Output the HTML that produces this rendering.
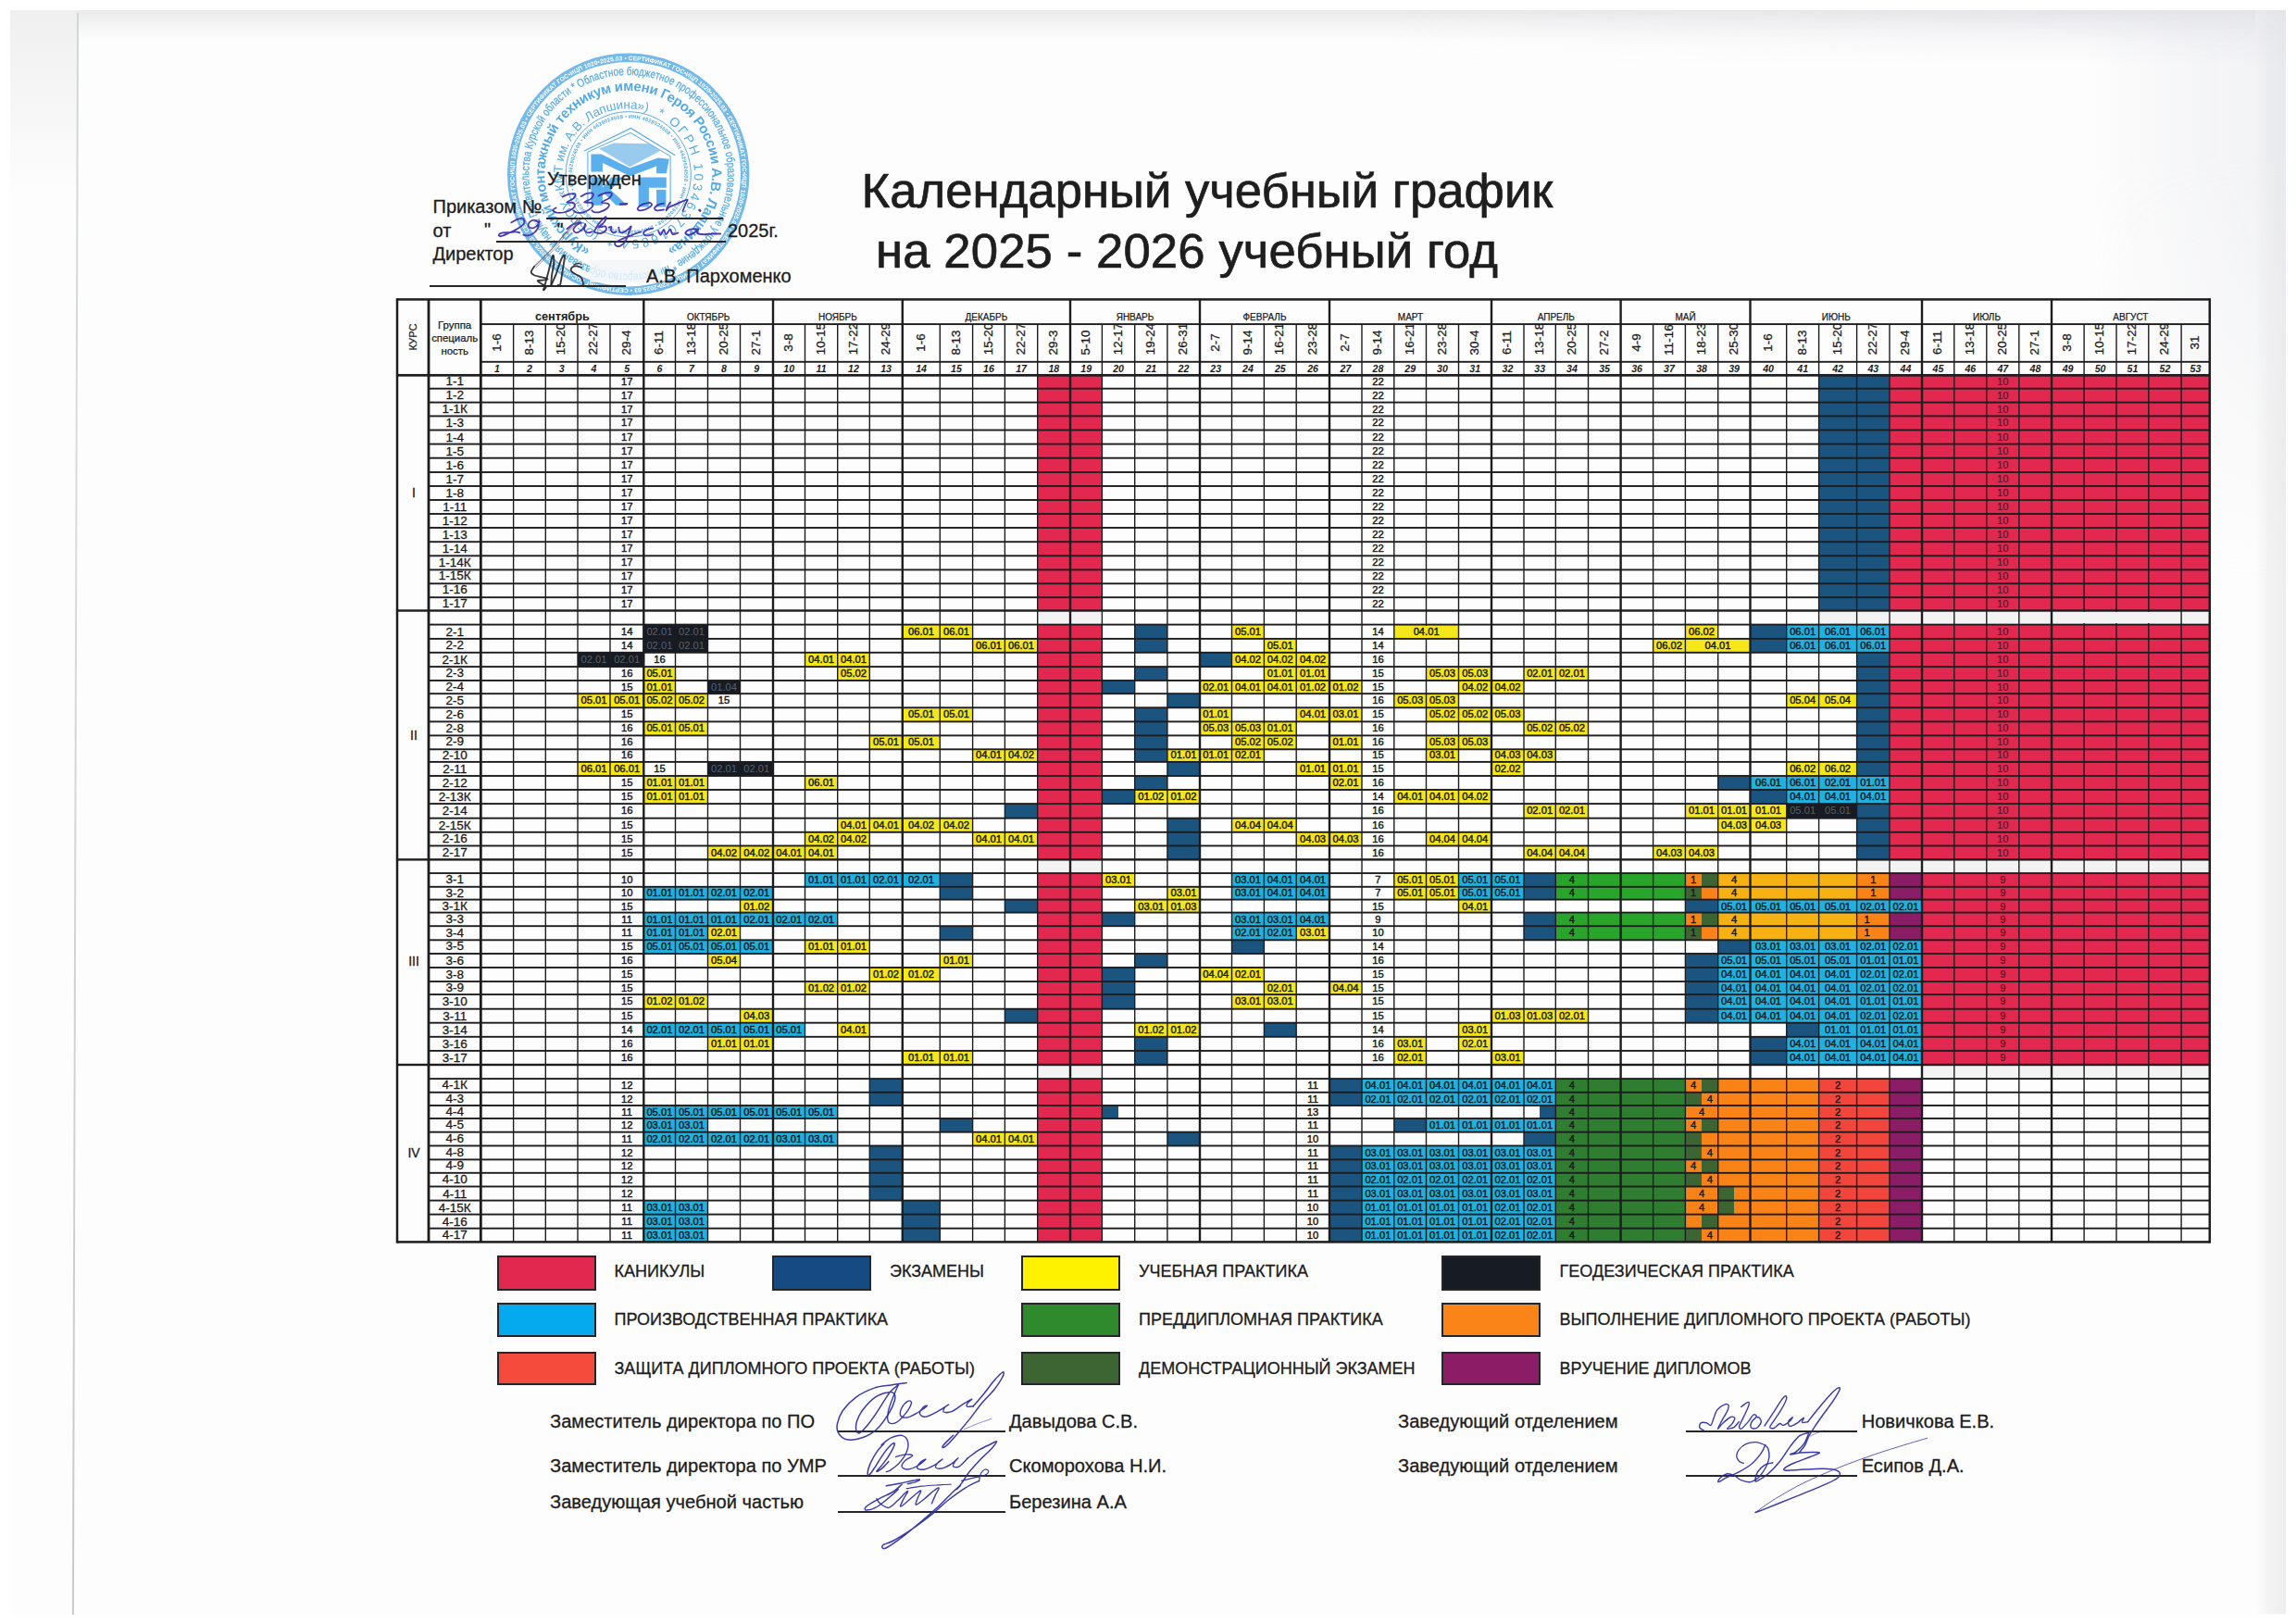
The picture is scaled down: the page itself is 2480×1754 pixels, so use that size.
<!DOCTYPE html><html lang="ru"><head><meta charset="utf-8"><title>Календарный учебный график</title><style>
html,body{margin:0;padding:0;background:#fff}
body{width:2480px;height:1754px;position:relative;overflow:hidden;font-family:"Liberation Sans",sans-serif;color:#1c1c1c}
#pg{position:absolute;left:0;top:0;width:2480px;height:1754px}
#pg div,#pg span{position:absolute;white-space:nowrap}
.f{}
.l{background:#1d1d1f}
.t,.tk,.tr{font-size:11.2px;text-align:center;color:#1b1b1b;-webkit-text-stroke:0.45px #1b1b1b}
.tk{color:#59606c;-webkit-text-stroke:0}
.tr{color:#5a1426;-webkit-text-stroke:0.2px #5a1426}
.gn{font-size:13.5px;text-align:center;color:#1a1a1a;-webkit-text-stroke:0.3px #1a1a1a}
.m{font-size:10px;text-align:center;-webkit-text-stroke:0.25px #1c1c1c}
.mb{font-size:12.7px;font-weight:bold;text-align:center}
.d{font-size:13.4px;-webkit-text-stroke:0.3px #1c1c1c;text-align:center;transform:rotate(-90deg);transform-origin:50% 50%}
.n{font-size:10.6px;font-weight:bold;font-style:italic;text-align:center}
.h{font-size:20px;-webkit-text-stroke:0.3px #1c1c1c}
.lg{font-size:18px;-webkit-text-stroke:0.3px #1c1c1c}
.sg{font-size:20.1px;-webkit-text-stroke:0.3px #1c1c1c}
.ti{font-size:52.7px;color:#1e1e1e;-webkit-text-stroke:0.7px #1e1e1e}
.bx{border:2.5px solid #25252a;box-sizing:border-box}
.ul{background:#262626;height:1.5px}

</style></head><body><div id="pg">
<div style="left:11px;top:11px;width:2458px;height:1734px;background:#fdfdfd"></div>
<div style="left:11px;top:11px;width:2458px;height:34px;background:linear-gradient(#e9e9ea,#f4f4f5 45%,#fdfdfd)"></div>
<div style="left:11px;top:11px;width:73px;height:200px;background:linear-gradient(#efefef,#fdfdfd)"></div>
<div style="left:83px;top:14px;width:2px;height:1730px;background:linear-gradient(#cfd6d3,#d9dcda 30%,#c8c8c8);transform:rotate(0.17deg);transform-origin:0 0"></div>
<div style="left:2436px;top:11px;width:33px;height:1732px;background:linear-gradient(90deg,#fdfdfd,#f3f3f3 45%,#eeeeee)"></div>
<div style="left:2250px;top:11px;width:219px;height:620px;background:linear-gradient(90deg,rgba(228,229,235,0),rgba(228,229,235,.5));-webkit-mask-image:linear-gradient(#000 25%,transparent);mask-image:linear-gradient(#000 25%,transparent)"></div>
<div style="left:1500px;top:11px;width:969px;height:60px;background:linear-gradient(rgba(224,225,232,.5),rgba(224,225,232,0));-webkit-mask-image:linear-gradient(90deg,transparent,#000);mask-image:linear-gradient(90deg,transparent,#000)"></div>
<svg style="position:absolute;left:0;top:0" width="2480" height="340" viewBox="0 0 2480 340" font-family="Liberation Sans, sans-serif">
<defs>
<path id="r1" d="M620.26 98.31A107.30 107.30 0 1 1 737.14 278.29A107.30 107.30 0 1 1 620.26 98.31"/>
<path id="r2" d="M637.70 268.76A90.30 90.30 0 1 1 719.70 107.84A90.30 90.30 0 1 1 637.70 268.76"/>
<path id="r3" d="M647.75 251.75A70.60 70.60 0 1 1 709.65 124.85A70.60 70.60 0 1 1 647.75 251.75"/>
<path id="r3b" d="M709.65 124.85A70.60 70.60 0 1 1 647.75 251.75A70.60 70.60 0 1 1 709.65 124.85"/>
<path id="r0" d="M678.70 65.10A123.20 123.20 0 1 1 678.70 311.50A123.20 123.20 0 1 1 678.70 65.10"/>
<path id="r4" d="M678.70 127.70A60.60 60.60 0 1 1 678.70 248.90A60.60 60.60 0 1 1 678.70 127.70"/>
</defs>
<g opacity="0.92">
<circle cx="678.7" cy="188.3" r="126" fill="none" stroke="#48a4e2" stroke-width="9.4" opacity="0.82"/>
<text font-size="6.6" font-weight="bold" fill="#fff" letter-spacing="0.2"><textPath href="#r0" textLength="772.1" lengthAdjust="spacing">СЕРТИФИКАТ ГОС•ИЦП 1020•2025.03 • СЕРТИФИКАТ ГОС•ИЦП 1020•2025.03 • СЕРТИФИКАТ ГОС•ИЦП 1020•2025.03 • СЕРТИФИКАТ ГОС•ИЦП 1020•2025.03 • СЕРТИФИКАТ ГОС•ИЦП 1020•2025.03 • СЕРТИФИКАТ ГОС•ИЦП 1020•2025.03 • </textPath></text>
<text font-size="12.6" stroke="#48a4e2" stroke-width="0.25" fill="#48a4e2"><textPath href="#r1" textLength="670.2" lengthAdjust="spacingAndGlyphs">* Областное бюджетное профессиональное образовательное учреждение * Министерство образования и науки Правительства Курской области</textPath></text>
<text font-size="15" font-weight="bold" fill="#48a4e2"><textPath href="#r2" textLength="480.7" lengthAdjust="spacing">«Курский монтажный техникум имени Героя России А.В. Лапшина»</textPath></text>
<text font-size="13.4" fill="#48a4e2"><textPath href="#r3" textLength="211.9" lengthAdjust="spacing">(ОБПОУ «КМТ им. А.В. Лапшина»)</textPath></text>
<text font-size="13.8" fill="#48a4e2"><textPath href="#r3b" textLength="211.9" lengthAdjust="spacing">* ОГРН 1034637016854 *</textPath></text>
<circle cx="678.7" cy="188.3" r="67.6" fill="none" stroke="#48a4e2" stroke-width="1"/>
<text font-size="5.6" font-weight="bold" fill="#48a4e2" letter-spacing="0.3"><textPath href="#r4" textLength="378.8" lengthAdjust="spacing">ИНН 4629024508 • ИНН 4629024508 • ИНН 4629024508 • ИНН 4629024508 • ИНН 4629024508 • ИНН 4629024508 • ИНН 4629024508 • </textPath></text>
<polyline points="631.0,163.1 681.5,138.5 729.3,167.8" fill="none" stroke="#48a4e2" stroke-width="1.1"/>
<polyline points="634.9,223.4 634.9,164.1 681.0,143.4 724.1,168.7 724.1,223.4" fill="none" stroke="#48a4e2" stroke-width="1"/>
<polygon points="647.0,160.5 662.9,154.5 701.7,155.2 712.9,163.1 680.2,180.3" fill="#48a4e2" opacity="0.6"/>
<polygon points="638.4,166.6 649.6,166.6 680.2,181.6 710.8,170.4 722.8,171.7 719.8,187.2 709.1,187.2 709.1,179.5 680.6,190.3 650.9,176.0 650.9,185.5 638.4,185.5" fill="#4fa9ec"/>
<polygon points="638.4,191.6 650.9,191.6 650.9,202.8 660.3,191.6 673.3,191.6 659.5,204.9 677.6,221.7 665.5,221.7 650.9,207.1 650.9,221.7 638.4,221.7" fill="#4fa9ec"/>
<polygon points="689.7,191.6 719.8,191.6 719.8,202.8 700.9,202.8 700.9,223.4 689.7,223.4" fill="#4fa9ec"/>
<polygon points="709.1,204.9 719.4,204.9 719.4,223.4 709.1,223.4" fill="#4fa9ec"/>
<rect x="637" y="281" width="77" height="24" fill="#f2f5f9" opacity="0.82"/>
</g></svg>
<div style="left:1120.7px;top:405.3px;width:69.7px;height:254.2px;background:#e3284f"></div>
<div style="left:1964.6px;top:405.3px;width:76.4px;height:254.2px;background:#1b547f"></div>
<div style="left:2041px;top:405.3px;width:345.8px;height:254.2px;background:#e3284f"></div>
<div style="left:1120.7px;top:674.6px;width:69.7px;height:253.8px;background:#e3284f"></div>
<div style="left:2041px;top:674.6px;width:345.8px;height:253.8px;background:#e3284f"></div>
<div style="left:695.3px;top:674.6px;width:34.2px;height:15.3px;background:#171b24"></div>
<div style="left:729.5px;top:674.6px;width:35px;height:15.3px;background:#171b24"></div>
<div style="left:974.8px;top:674.6px;width:40.5px;height:15.3px;background:#f6e71a"></div>
<div style="left:1015.3px;top:674.6px;width:35.3px;height:15.3px;background:#f6e71a"></div>
<div style="left:1225.7px;top:674.6px;width:35.2px;height:15.3px;background:#1b547f"></div>
<div style="left:1330.5px;top:674.6px;width:34.9px;height:15.3px;background:#f6e71a"></div>
<div style="left:1505.8px;top:674.6px;width:69.7px;height:15.3px;background:#f6e71a"></div>
<div style="left:1820.4px;top:674.6px;width:35.3px;height:15.3px;background:#f6e71a"></div>
<div style="left:1890.5px;top:674.6px;width:39.2px;height:15.3px;background:#1b547f"></div>
<div style="left:1929.7px;top:674.6px;width:34.9px;height:15.3px;background:#1fb2e0"></div>
<div style="left:1964.6px;top:674.6px;width:41px;height:15.3px;background:#1fb2e0"></div>
<div style="left:2005.6px;top:674.6px;width:35.4px;height:15.3px;background:#1fb2e0"></div>
<div style="left:695.3px;top:689.9px;width:34.2px;height:14.9px;background:#171b24"></div>
<div style="left:729.5px;top:689.9px;width:35px;height:14.9px;background:#171b24"></div>
<div style="left:1050.6px;top:689.9px;width:34.8px;height:14.9px;background:#f6e71a"></div>
<div style="left:1085.4px;top:689.9px;width:35.3px;height:14.9px;background:#f6e71a"></div>
<div style="left:1225.7px;top:689.9px;width:35.2px;height:14.9px;background:#1b547f"></div>
<div style="left:1365.4px;top:689.9px;width:34.8px;height:14.9px;background:#f6e71a"></div>
<div style="left:1785.6px;top:689.9px;width:34.8px;height:14.9px;background:#f6e71a"></div>
<div style="left:1820.4px;top:689.9px;width:70.1px;height:14.9px;background:#f6e71a"></div>
<div style="left:1890.5px;top:689.9px;width:39.2px;height:14.9px;background:#1b547f"></div>
<div style="left:1929.7px;top:689.9px;width:34.9px;height:14.9px;background:#1fb2e0"></div>
<div style="left:1964.6px;top:689.9px;width:41px;height:14.9px;background:#1fb2e0"></div>
<div style="left:2005.6px;top:689.9px;width:35.4px;height:14.9px;background:#1fb2e0"></div>
<div style="left:624px;top:704.8px;width:35px;height:15.3px;background:#171b24"></div>
<div style="left:659px;top:704.8px;width:36.3px;height:15.3px;background:#171b24"></div>
<div style="left:869.5px;top:704.8px;width:35.2px;height:15.3px;background:#f6e71a"></div>
<div style="left:904.7px;top:704.8px;width:34.6px;height:15.3px;background:#f6e71a"></div>
<div style="left:1296px;top:704.8px;width:34.5px;height:15.3px;background:#1b547f"></div>
<div style="left:1330.5px;top:704.8px;width:34.9px;height:15.3px;background:#f6e71a"></div>
<div style="left:1365.4px;top:704.8px;width:34.8px;height:15.3px;background:#f6e71a"></div>
<div style="left:1400.2px;top:704.8px;width:35.8px;height:15.3px;background:#f6e71a"></div>
<div style="left:2005.6px;top:704.8px;width:35.4px;height:15.3px;background:#1b547f"></div>
<div style="left:695.3px;top:720.1px;width:34.2px;height:14.9px;background:#f6e71a"></div>
<div style="left:904.7px;top:720.1px;width:34.6px;height:14.9px;background:#f6e71a"></div>
<div style="left:1225.7px;top:720.1px;width:35.2px;height:14.9px;background:#1b547f"></div>
<div style="left:1365.4px;top:720.1px;width:34.8px;height:14.9px;background:#f6e71a"></div>
<div style="left:1400.2px;top:720.1px;width:35.8px;height:14.9px;background:#f6e71a"></div>
<div style="left:1540.5px;top:720.1px;width:35px;height:14.9px;background:#f6e71a"></div>
<div style="left:1575.5px;top:720.1px;width:35.5px;height:14.9px;background:#f6e71a"></div>
<div style="left:1646px;top:720.1px;width:34.3px;height:14.9px;background:#f6e71a"></div>
<div style="left:1680.3px;top:720.1px;width:35.2px;height:14.9px;background:#f6e71a"></div>
<div style="left:2005.6px;top:720.1px;width:35.4px;height:14.9px;background:#1b547f"></div>
<div style="left:695.3px;top:735px;width:34.2px;height:14.2px;background:#f6e71a"></div>
<div style="left:764.5px;top:735px;width:35px;height:14.2px;background:#171b24"></div>
<div style="left:1190.4px;top:735px;width:35.3px;height:14.2px;background:#1b547f"></div>
<div style="left:1296px;top:735px;width:34.5px;height:14.2px;background:#f6e71a"></div>
<div style="left:1330.5px;top:735px;width:34.9px;height:14.2px;background:#f6e71a"></div>
<div style="left:1365.4px;top:735px;width:34.8px;height:14.2px;background:#f6e71a"></div>
<div style="left:1400.2px;top:735px;width:35.8px;height:14.2px;background:#f6e71a"></div>
<div style="left:1436px;top:735px;width:35px;height:14.2px;background:#f6e71a"></div>
<div style="left:1575.5px;top:735px;width:35.5px;height:14.2px;background:#f6e71a"></div>
<div style="left:1611px;top:735px;width:35px;height:14.2px;background:#f6e71a"></div>
<div style="left:2005.6px;top:735px;width:35.4px;height:14.2px;background:#1b547f"></div>
<div style="left:624px;top:749.2px;width:35px;height:15.1px;background:#f6e71a"></div>
<div style="left:659px;top:749.2px;width:36.3px;height:15.1px;background:#f6e71a"></div>
<div style="left:695.3px;top:749.2px;width:34.2px;height:15.1px;background:#f6e71a"></div>
<div style="left:729.5px;top:749.2px;width:35px;height:15.1px;background:#f6e71a"></div>
<div style="left:1260.9px;top:749.2px;width:35.1px;height:15.1px;background:#1b547f"></div>
<div style="left:1505.8px;top:749.2px;width:34.7px;height:15.1px;background:#f6e71a"></div>
<div style="left:1540.5px;top:749.2px;width:35px;height:15.1px;background:#f6e71a"></div>
<div style="left:1929.7px;top:749.2px;width:34.9px;height:15.1px;background:#f6e71a"></div>
<div style="left:1964.6px;top:749.2px;width:41px;height:15.1px;background:#f6e71a"></div>
<div style="left:2005.6px;top:749.2px;width:35.4px;height:15.1px;background:#1b547f"></div>
<div style="left:974.8px;top:764.3px;width:40.5px;height:15.1px;background:#f6e71a"></div>
<div style="left:1015.3px;top:764.3px;width:35.3px;height:15.1px;background:#f6e71a"></div>
<div style="left:1225.7px;top:764.3px;width:35.2px;height:15.1px;background:#1b547f"></div>
<div style="left:1296px;top:764.3px;width:34.5px;height:15.1px;background:#f6e71a"></div>
<div style="left:1400.2px;top:764.3px;width:35.8px;height:15.1px;background:#f6e71a"></div>
<div style="left:1436px;top:764.3px;width:35px;height:15.1px;background:#f6e71a"></div>
<div style="left:1540.5px;top:764.3px;width:35px;height:15.1px;background:#f6e71a"></div>
<div style="left:1575.5px;top:764.3px;width:35.5px;height:15.1px;background:#f6e71a"></div>
<div style="left:1611px;top:764.3px;width:35px;height:15.1px;background:#f6e71a"></div>
<div style="left:2005.6px;top:764.3px;width:35.4px;height:15.1px;background:#1b547f"></div>
<div style="left:695.3px;top:779.4px;width:34.2px;height:15px;background:#f6e71a"></div>
<div style="left:729.5px;top:779.4px;width:35px;height:15px;background:#f6e71a"></div>
<div style="left:1225.7px;top:779.4px;width:35.2px;height:15px;background:#1b547f"></div>
<div style="left:1296px;top:779.4px;width:34.5px;height:15px;background:#f6e71a"></div>
<div style="left:1330.5px;top:779.4px;width:34.9px;height:15px;background:#f6e71a"></div>
<div style="left:1365.4px;top:779.4px;width:34.8px;height:15px;background:#f6e71a"></div>
<div style="left:1646px;top:779.4px;width:34.3px;height:15px;background:#f6e71a"></div>
<div style="left:1680.3px;top:779.4px;width:35.2px;height:15px;background:#f6e71a"></div>
<div style="left:2005.6px;top:779.4px;width:35.4px;height:15px;background:#1b547f"></div>
<div style="left:939.3px;top:794.4px;width:35.5px;height:14.9px;background:#f6e71a"></div>
<div style="left:974.8px;top:794.4px;width:40.5px;height:14.9px;background:#f6e71a"></div>
<div style="left:1225.7px;top:794.4px;width:35.2px;height:14.9px;background:#1b547f"></div>
<div style="left:1330.5px;top:794.4px;width:34.9px;height:14.9px;background:#f6e71a"></div>
<div style="left:1365.4px;top:794.4px;width:34.8px;height:14.9px;background:#f6e71a"></div>
<div style="left:1436px;top:794.4px;width:35px;height:14.9px;background:#f6e71a"></div>
<div style="left:1540.5px;top:794.4px;width:35px;height:14.9px;background:#f6e71a"></div>
<div style="left:1575.5px;top:794.4px;width:35.5px;height:14.9px;background:#f6e71a"></div>
<div style="left:2005.6px;top:794.4px;width:35.4px;height:14.9px;background:#1b547f"></div>
<div style="left:1050.6px;top:809.3px;width:34.8px;height:13.6px;background:#f6e71a"></div>
<div style="left:1085.4px;top:809.3px;width:35.3px;height:13.6px;background:#f6e71a"></div>
<div style="left:1225.7px;top:809.3px;width:35.2px;height:13.6px;background:#1b547f"></div>
<div style="left:1260.9px;top:809.3px;width:35.1px;height:13.6px;background:#f6e71a"></div>
<div style="left:1296px;top:809.3px;width:34.5px;height:13.6px;background:#f6e71a"></div>
<div style="left:1330.5px;top:809.3px;width:34.9px;height:13.6px;background:#f6e71a"></div>
<div style="left:1540.5px;top:809.3px;width:35px;height:13.6px;background:#f6e71a"></div>
<div style="left:1611px;top:809.3px;width:35px;height:13.6px;background:#f6e71a"></div>
<div style="left:1646px;top:809.3px;width:34.3px;height:13.6px;background:#f6e71a"></div>
<div style="left:2005.6px;top:809.3px;width:35.4px;height:13.6px;background:#1b547f"></div>
<div style="left:624px;top:822.9px;width:35px;height:15.1px;background:#f6e71a"></div>
<div style="left:659px;top:822.9px;width:36.3px;height:15.1px;background:#f6e71a"></div>
<div style="left:764.5px;top:822.9px;width:35px;height:15.1px;background:#171b24"></div>
<div style="left:799.5px;top:822.9px;width:35.5px;height:15.1px;background:#171b24"></div>
<div style="left:1260.9px;top:822.9px;width:35.1px;height:15.1px;background:#1b547f"></div>
<div style="left:1400.2px;top:822.9px;width:35.8px;height:15.1px;background:#f6e71a"></div>
<div style="left:1436px;top:822.9px;width:35px;height:15.1px;background:#f6e71a"></div>
<div style="left:1611px;top:822.9px;width:35px;height:15.1px;background:#f6e71a"></div>
<div style="left:1929.7px;top:822.9px;width:34.9px;height:15.1px;background:#f6e71a"></div>
<div style="left:1964.6px;top:822.9px;width:41px;height:15.1px;background:#f6e71a"></div>
<div style="left:2005.6px;top:822.9px;width:35.4px;height:15.1px;background:#1b547f"></div>
<div style="left:695.3px;top:838px;width:34.2px;height:15px;background:#f6e71a"></div>
<div style="left:729.5px;top:838px;width:35px;height:15px;background:#f6e71a"></div>
<div style="left:869.5px;top:838px;width:35.2px;height:15px;background:#f6e71a"></div>
<div style="left:1225.7px;top:838px;width:35.2px;height:15px;background:#1b547f"></div>
<div style="left:1436px;top:838px;width:35px;height:15px;background:#f6e71a"></div>
<div style="left:1855.7px;top:838px;width:34.8px;height:15px;background:#1b547f"></div>
<div style="left:1890.5px;top:838px;width:39.2px;height:15px;background:#1fb2e0"></div>
<div style="left:1929.7px;top:838px;width:34.9px;height:15px;background:#1fb2e0"></div>
<div style="left:1964.6px;top:838px;width:41px;height:15px;background:#1fb2e0"></div>
<div style="left:2005.6px;top:838px;width:35.4px;height:15px;background:#1fb2e0"></div>
<div style="left:695.3px;top:853px;width:34.2px;height:15.1px;background:#f6e71a"></div>
<div style="left:729.5px;top:853px;width:35px;height:15.1px;background:#f6e71a"></div>
<div style="left:1190.4px;top:853px;width:35.3px;height:15.1px;background:#1b547f"></div>
<div style="left:1225.7px;top:853px;width:35.2px;height:15.1px;background:#f6e71a"></div>
<div style="left:1260.9px;top:853px;width:35.1px;height:15.1px;background:#f6e71a"></div>
<div style="left:1505.8px;top:853px;width:34.7px;height:15.1px;background:#f6e71a"></div>
<div style="left:1540.5px;top:853px;width:35px;height:15.1px;background:#f6e71a"></div>
<div style="left:1575.5px;top:853px;width:35.5px;height:15.1px;background:#f6e71a"></div>
<div style="left:1890.5px;top:853px;width:39.2px;height:15.1px;background:#1b547f"></div>
<div style="left:1929.7px;top:853px;width:34.9px;height:15.1px;background:#1fb2e0"></div>
<div style="left:1964.6px;top:853px;width:41px;height:15.1px;background:#1fb2e0"></div>
<div style="left:2005.6px;top:853px;width:35.4px;height:15.1px;background:#1fb2e0"></div>
<div style="left:1085.4px;top:868.1px;width:35.3px;height:15.6px;background:#1b547f"></div>
<div style="left:1646px;top:868.1px;width:34.3px;height:15.6px;background:#f6e71a"></div>
<div style="left:1680.3px;top:868.1px;width:35.2px;height:15.6px;background:#f6e71a"></div>
<div style="left:1820.4px;top:868.1px;width:35.3px;height:15.6px;background:#f6e71a"></div>
<div style="left:1855.7px;top:868.1px;width:34.8px;height:15.6px;background:#f6e71a"></div>
<div style="left:1890.5px;top:868.1px;width:39.2px;height:15.6px;background:#f6e71a"></div>
<div style="left:1929.7px;top:868.1px;width:34.9px;height:15.6px;background:#171b24"></div>
<div style="left:1964.6px;top:868.1px;width:41px;height:15.6px;background:#171b24"></div>
<div style="left:2005.6px;top:868.1px;width:35.4px;height:15.6px;background:#1b547f"></div>
<div style="left:904.7px;top:883.7px;width:34.6px;height:15.1px;background:#f6e71a"></div>
<div style="left:939.3px;top:883.7px;width:35.5px;height:15.1px;background:#f6e71a"></div>
<div style="left:974.8px;top:883.7px;width:40.5px;height:15.1px;background:#f6e71a"></div>
<div style="left:1015.3px;top:883.7px;width:35.3px;height:15.1px;background:#f6e71a"></div>
<div style="left:1260.9px;top:883.7px;width:35.1px;height:15.1px;background:#1b547f"></div>
<div style="left:1330.5px;top:883.7px;width:34.9px;height:15.1px;background:#f6e71a"></div>
<div style="left:1365.4px;top:883.7px;width:34.8px;height:15.1px;background:#f6e71a"></div>
<div style="left:1855.7px;top:883.7px;width:34.8px;height:15.1px;background:#f6e71a"></div>
<div style="left:1890.5px;top:883.7px;width:39.2px;height:15.1px;background:#f6e71a"></div>
<div style="left:2005.6px;top:883.7px;width:35.4px;height:15.1px;background:#1b547f"></div>
<div style="left:869.5px;top:898.8px;width:35.2px;height:14.7px;background:#f6e71a"></div>
<div style="left:904.7px;top:898.8px;width:34.6px;height:14.7px;background:#f6e71a"></div>
<div style="left:1050.6px;top:898.8px;width:34.8px;height:14.7px;background:#f6e71a"></div>
<div style="left:1085.4px;top:898.8px;width:35.3px;height:14.7px;background:#f6e71a"></div>
<div style="left:1260.9px;top:898.8px;width:35.1px;height:14.7px;background:#1b547f"></div>
<div style="left:1400.2px;top:898.8px;width:35.8px;height:14.7px;background:#f6e71a"></div>
<div style="left:1436px;top:898.8px;width:35px;height:14.7px;background:#f6e71a"></div>
<div style="left:1540.5px;top:898.8px;width:35px;height:14.7px;background:#f6e71a"></div>
<div style="left:1575.5px;top:898.8px;width:35.5px;height:14.7px;background:#f6e71a"></div>
<div style="left:2005.6px;top:898.8px;width:35.4px;height:14.7px;background:#1b547f"></div>
<div style="left:764.5px;top:913.5px;width:35px;height:14.9px;background:#f6e71a"></div>
<div style="left:799.5px;top:913.5px;width:35.5px;height:14.9px;background:#f6e71a"></div>
<div style="left:835px;top:913.5px;width:34.5px;height:14.9px;background:#f6e71a"></div>
<div style="left:869.5px;top:913.5px;width:35.2px;height:14.9px;background:#f6e71a"></div>
<div style="left:1260.9px;top:913.5px;width:35.1px;height:14.9px;background:#1b547f"></div>
<div style="left:1646px;top:913.5px;width:34.3px;height:14.9px;background:#f6e71a"></div>
<div style="left:1680.3px;top:913.5px;width:35.2px;height:14.9px;background:#f6e71a"></div>
<div style="left:1785.6px;top:913.5px;width:34.8px;height:14.9px;background:#f6e71a"></div>
<div style="left:1820.4px;top:913.5px;width:35.3px;height:14.9px;background:#f6e71a"></div>
<div style="left:2005.6px;top:913.5px;width:35.4px;height:14.9px;background:#1b547f"></div>
<div style="left:1120.7px;top:943.1px;width:69.7px;height:206.9px;background:#e3284f"></div>
<div style="left:2076px;top:943.1px;width:310.8px;height:206.9px;background:#e3284f"></div>
<div style="left:869.5px;top:943.1px;width:35.2px;height:14.7px;background:#1fb2e0"></div>
<div style="left:904.7px;top:943.1px;width:34.6px;height:14.7px;background:#1fb2e0"></div>
<div style="left:939.3px;top:943.1px;width:35.5px;height:14.7px;background:#1fb2e0"></div>
<div style="left:974.8px;top:943.1px;width:40.5px;height:14.7px;background:#1fb2e0"></div>
<div style="left:1015.3px;top:943.1px;width:35.3px;height:14.7px;background:#1b547f"></div>
<div style="left:1190.4px;top:943.1px;width:35.3px;height:14.7px;background:#f6e71a"></div>
<div style="left:1330.5px;top:943.1px;width:34.9px;height:14.7px;background:#1fb2e0"></div>
<div style="left:1365.4px;top:943.1px;width:34.8px;height:14.7px;background:#1fb2e0"></div>
<div style="left:1400.2px;top:943.1px;width:35.8px;height:14.7px;background:#1fb2e0"></div>
<div style="left:1505.8px;top:943.1px;width:34.7px;height:14.7px;background:#f6e71a"></div>
<div style="left:1540.5px;top:943.1px;width:35px;height:14.7px;background:#f6e71a"></div>
<div style="left:1575.5px;top:943.1px;width:35.5px;height:14.7px;background:#1fb2e0"></div>
<div style="left:1611px;top:943.1px;width:35px;height:14.7px;background:#1fb2e0"></div>
<div style="left:1646px;top:943.1px;width:34.3px;height:14.7px;background:#1b547f"></div>
<div style="left:1680.3px;top:943.1px;width:35.2px;height:14.7px;background:#2aa52c"></div>
<div style="left:1715.5px;top:943.1px;width:35.1px;height:14.7px;background:#2aa52c"></div>
<div style="left:1750.6px;top:943.1px;width:35px;height:14.7px;background:#2aa52c"></div>
<div style="left:1785.6px;top:943.1px;width:34.8px;height:14.7px;background:#2aa52c"></div>
<div style="left:1855.7px;top:943.1px;width:34.8px;height:14.7px;background:#f6b212"></div>
<div style="left:1890.5px;top:943.1px;width:39.2px;height:14.7px;background:#f6b212"></div>
<div style="left:1929.7px;top:943.1px;width:34.9px;height:14.7px;background:#f6b212"></div>
<div style="left:1964.6px;top:943.1px;width:41px;height:14.7px;background:#f6b212"></div>
<div style="left:2041px;top:943.1px;width:35px;height:14.7px;background:#8a1d66"></div>
<div style="left:1820.4px;top:943.1px;width:17.7px;height:14.7px;background:#fa8318"></div>
<div style="left:1838.1px;top:943.1px;width:17.6px;height:14.7px;background:#3d6433"></div>
<div style="left:2005.6px;top:943.1px;width:35.4px;height:14.7px;background:#fa8318"></div>
<div style="left:695.3px;top:957.8px;width:34.2px;height:13.8px;background:#1fb2e0"></div>
<div style="left:729.5px;top:957.8px;width:35px;height:13.8px;background:#1fb2e0"></div>
<div style="left:764.5px;top:957.8px;width:35px;height:13.8px;background:#1fb2e0"></div>
<div style="left:799.5px;top:957.8px;width:35.5px;height:13.8px;background:#1fb2e0"></div>
<div style="left:1015.3px;top:957.8px;width:35.3px;height:13.8px;background:#1b547f"></div>
<div style="left:1260.9px;top:957.8px;width:35.1px;height:13.8px;background:#f6e71a"></div>
<div style="left:1330.5px;top:957.8px;width:34.9px;height:13.8px;background:#1fb2e0"></div>
<div style="left:1365.4px;top:957.8px;width:34.8px;height:13.8px;background:#1fb2e0"></div>
<div style="left:1400.2px;top:957.8px;width:35.8px;height:13.8px;background:#1fb2e0"></div>
<div style="left:1505.8px;top:957.8px;width:34.7px;height:13.8px;background:#f6e71a"></div>
<div style="left:1540.5px;top:957.8px;width:35px;height:13.8px;background:#f6e71a"></div>
<div style="left:1575.5px;top:957.8px;width:35.5px;height:13.8px;background:#1fb2e0"></div>
<div style="left:1611px;top:957.8px;width:35px;height:13.8px;background:#1fb2e0"></div>
<div style="left:1646px;top:957.8px;width:34.3px;height:13.8px;background:#1b547f"></div>
<div style="left:1680.3px;top:957.8px;width:35.2px;height:13.8px;background:#2aa52c"></div>
<div style="left:1715.5px;top:957.8px;width:35.1px;height:13.8px;background:#2aa52c"></div>
<div style="left:1750.6px;top:957.8px;width:35px;height:13.8px;background:#2aa52c"></div>
<div style="left:1785.6px;top:957.8px;width:34.8px;height:13.8px;background:#2aa52c"></div>
<div style="left:1855.7px;top:957.8px;width:34.8px;height:13.8px;background:#f6b212"></div>
<div style="left:1890.5px;top:957.8px;width:39.2px;height:13.8px;background:#f6b212"></div>
<div style="left:1929.7px;top:957.8px;width:34.9px;height:13.8px;background:#f6b212"></div>
<div style="left:1964.6px;top:957.8px;width:41px;height:13.8px;background:#f6b212"></div>
<div style="left:2041px;top:957.8px;width:35px;height:13.8px;background:#8a1d66"></div>
<div style="left:1820.4px;top:957.8px;width:17.7px;height:13.8px;background:#3d6433"></div>
<div style="left:1838.1px;top:957.8px;width:17.6px;height:13.8px;background:#fa8318"></div>
<div style="left:2005.6px;top:957.8px;width:35.4px;height:13.8px;background:#fa8318"></div>
<div style="left:799.5px;top:971.6px;width:35.5px;height:14px;background:#f6e71a"></div>
<div style="left:1085.4px;top:971.6px;width:35.3px;height:14px;background:#1b547f"></div>
<div style="left:1225.7px;top:971.6px;width:35.2px;height:14px;background:#f6e71a"></div>
<div style="left:1260.9px;top:971.6px;width:35.1px;height:14px;background:#f6e71a"></div>
<div style="left:1575.5px;top:971.6px;width:35.5px;height:14px;background:#f6e71a"></div>
<div style="left:1820.4px;top:971.6px;width:35.3px;height:14px;background:#1b547f"></div>
<div style="left:1855.7px;top:971.6px;width:34.8px;height:14px;background:#1fb2e0"></div>
<div style="left:1890.5px;top:971.6px;width:39.2px;height:14px;background:#1fb2e0"></div>
<div style="left:1929.7px;top:971.6px;width:34.9px;height:14px;background:#1fb2e0"></div>
<div style="left:1964.6px;top:971.6px;width:41px;height:14px;background:#1fb2e0"></div>
<div style="left:2005.6px;top:971.6px;width:35.4px;height:14px;background:#1fb2e0"></div>
<div style="left:2041px;top:971.6px;width:35px;height:14px;background:#1fb2e0"></div>
<div style="left:695.3px;top:985.6px;width:34.2px;height:14.6px;background:#1fb2e0"></div>
<div style="left:729.5px;top:985.6px;width:35px;height:14.6px;background:#1fb2e0"></div>
<div style="left:764.5px;top:985.6px;width:35px;height:14.6px;background:#1fb2e0"></div>
<div style="left:799.5px;top:985.6px;width:35.5px;height:14.6px;background:#1fb2e0"></div>
<div style="left:835px;top:985.6px;width:34.5px;height:14.6px;background:#1fb2e0"></div>
<div style="left:869.5px;top:985.6px;width:35.2px;height:14.6px;background:#1fb2e0"></div>
<div style="left:1190.4px;top:985.6px;width:35.3px;height:14.6px;background:#1b547f"></div>
<div style="left:1330.5px;top:985.6px;width:34.9px;height:14.6px;background:#1fb2e0"></div>
<div style="left:1365.4px;top:985.6px;width:34.8px;height:14.6px;background:#1fb2e0"></div>
<div style="left:1400.2px;top:985.6px;width:35.8px;height:14.6px;background:#1fb2e0"></div>
<div style="left:1646px;top:985.6px;width:34.3px;height:14.6px;background:#1b547f"></div>
<div style="left:1680.3px;top:985.6px;width:35.2px;height:14.6px;background:#2aa52c"></div>
<div style="left:1715.5px;top:985.6px;width:35.1px;height:14.6px;background:#2aa52c"></div>
<div style="left:1750.6px;top:985.6px;width:35px;height:14.6px;background:#2aa52c"></div>
<div style="left:1785.6px;top:985.6px;width:34.8px;height:14.6px;background:#2aa52c"></div>
<div style="left:1855.7px;top:985.6px;width:34.8px;height:14.6px;background:#f6b212"></div>
<div style="left:1890.5px;top:985.6px;width:39.2px;height:14.6px;background:#f6b212"></div>
<div style="left:1929.7px;top:985.6px;width:34.9px;height:14.6px;background:#f6b212"></div>
<div style="left:1964.6px;top:985.6px;width:41px;height:14.6px;background:#f6b212"></div>
<div style="left:2041px;top:985.6px;width:35px;height:14.6px;background:#8a1d66"></div>
<div style="left:1820.4px;top:985.6px;width:17.7px;height:14.6px;background:#fa8318"></div>
<div style="left:1838.1px;top:985.6px;width:17.6px;height:14.6px;background:#3d6433"></div>
<div style="left:2005.6px;top:985.6px;width:35.4px;height:14.6px;background:#fa8318"></div>
<div style="left:695.3px;top:1000.2px;width:34.2px;height:15.1px;background:#1fb2e0"></div>
<div style="left:729.5px;top:1000.2px;width:35px;height:15.1px;background:#1fb2e0"></div>
<div style="left:764.5px;top:1000.2px;width:35px;height:15.1px;background:#f6e71a"></div>
<div style="left:1015.3px;top:1000.2px;width:35.3px;height:15.1px;background:#1b547f"></div>
<div style="left:1330.5px;top:1000.2px;width:34.9px;height:15.1px;background:#1fb2e0"></div>
<div style="left:1365.4px;top:1000.2px;width:34.8px;height:15.1px;background:#1fb2e0"></div>
<div style="left:1400.2px;top:1000.2px;width:35.8px;height:15.1px;background:#f6e71a"></div>
<div style="left:1646px;top:1000.2px;width:34.3px;height:15.1px;background:#1b547f"></div>
<div style="left:1680.3px;top:1000.2px;width:35.2px;height:15.1px;background:#2aa52c"></div>
<div style="left:1715.5px;top:1000.2px;width:35.1px;height:15.1px;background:#2aa52c"></div>
<div style="left:1750.6px;top:1000.2px;width:35px;height:15.1px;background:#2aa52c"></div>
<div style="left:1785.6px;top:1000.2px;width:34.8px;height:15.1px;background:#2aa52c"></div>
<div style="left:1855.7px;top:1000.2px;width:34.8px;height:15.1px;background:#f6b212"></div>
<div style="left:1890.5px;top:1000.2px;width:39.2px;height:15.1px;background:#f6b212"></div>
<div style="left:1929.7px;top:1000.2px;width:34.9px;height:15.1px;background:#f6b212"></div>
<div style="left:1964.6px;top:1000.2px;width:41px;height:15.1px;background:#f6b212"></div>
<div style="left:2041px;top:1000.2px;width:35px;height:15.1px;background:#8a1d66"></div>
<div style="left:1820.4px;top:1000.2px;width:17.7px;height:15.1px;background:#3d6433"></div>
<div style="left:1838.1px;top:1000.2px;width:17.6px;height:15.1px;background:#fa8318"></div>
<div style="left:2005.6px;top:1000.2px;width:35.4px;height:15.1px;background:#fa8318"></div>
<div style="left:695.3px;top:1015.3px;width:34.2px;height:14.7px;background:#1fb2e0"></div>
<div style="left:729.5px;top:1015.3px;width:35px;height:14.7px;background:#1fb2e0"></div>
<div style="left:764.5px;top:1015.3px;width:35px;height:14.7px;background:#1fb2e0"></div>
<div style="left:799.5px;top:1015.3px;width:35.5px;height:14.7px;background:#1fb2e0"></div>
<div style="left:869.5px;top:1015.3px;width:35.2px;height:14.7px;background:#f6e71a"></div>
<div style="left:904.7px;top:1015.3px;width:34.6px;height:14.7px;background:#f6e71a"></div>
<div style="left:1330.5px;top:1015.3px;width:34.9px;height:14.7px;background:#1b547f"></div>
<div style="left:1855.7px;top:1015.3px;width:34.8px;height:14.7px;background:#1b547f"></div>
<div style="left:1890.5px;top:1015.3px;width:39.2px;height:14.7px;background:#1fb2e0"></div>
<div style="left:1929.7px;top:1015.3px;width:34.9px;height:14.7px;background:#1fb2e0"></div>
<div style="left:1964.6px;top:1015.3px;width:41px;height:14.7px;background:#1fb2e0"></div>
<div style="left:2005.6px;top:1015.3px;width:35.4px;height:14.7px;background:#1fb2e0"></div>
<div style="left:2041px;top:1015.3px;width:35px;height:14.7px;background:#1fb2e0"></div>
<div style="left:764.5px;top:1030px;width:35px;height:15px;background:#f6e71a"></div>
<div style="left:1015.3px;top:1030px;width:35.3px;height:15px;background:#f6e71a"></div>
<div style="left:1225.7px;top:1030px;width:35.2px;height:15px;background:#1b547f"></div>
<div style="left:1820.4px;top:1030px;width:35.3px;height:15px;background:#1b547f"></div>
<div style="left:1855.7px;top:1030px;width:34.8px;height:15px;background:#1fb2e0"></div>
<div style="left:1890.5px;top:1030px;width:39.2px;height:15px;background:#1fb2e0"></div>
<div style="left:1929.7px;top:1030px;width:34.9px;height:15px;background:#1fb2e0"></div>
<div style="left:1964.6px;top:1030px;width:41px;height:15px;background:#1fb2e0"></div>
<div style="left:2005.6px;top:1030px;width:35.4px;height:15px;background:#1fb2e0"></div>
<div style="left:2041px;top:1030px;width:35px;height:15px;background:#1fb2e0"></div>
<div style="left:939.3px;top:1045px;width:35.5px;height:15.1px;background:#f6e71a"></div>
<div style="left:974.8px;top:1045px;width:40.5px;height:15.1px;background:#f6e71a"></div>
<div style="left:1190.4px;top:1045px;width:35.3px;height:15.1px;background:#1b547f"></div>
<div style="left:1296px;top:1045px;width:34.5px;height:15.1px;background:#f6e71a"></div>
<div style="left:1330.5px;top:1045px;width:34.9px;height:15.1px;background:#f6e71a"></div>
<div style="left:1820.4px;top:1045px;width:35.3px;height:15.1px;background:#1b547f"></div>
<div style="left:1855.7px;top:1045px;width:34.8px;height:15.1px;background:#1fb2e0"></div>
<div style="left:1890.5px;top:1045px;width:39.2px;height:15.1px;background:#1fb2e0"></div>
<div style="left:1929.7px;top:1045px;width:34.9px;height:15.1px;background:#1fb2e0"></div>
<div style="left:1964.6px;top:1045px;width:41px;height:15.1px;background:#1fb2e0"></div>
<div style="left:2005.6px;top:1045px;width:35.4px;height:15.1px;background:#1fb2e0"></div>
<div style="left:2041px;top:1045px;width:35px;height:15.1px;background:#1fb2e0"></div>
<div style="left:869.5px;top:1060.1px;width:35.2px;height:14px;background:#f6e71a"></div>
<div style="left:904.7px;top:1060.1px;width:34.6px;height:14px;background:#f6e71a"></div>
<div style="left:1190.4px;top:1060.1px;width:35.3px;height:14px;background:#1b547f"></div>
<div style="left:1365.4px;top:1060.1px;width:34.8px;height:14px;background:#f6e71a"></div>
<div style="left:1436px;top:1060.1px;width:35px;height:14px;background:#f6e71a"></div>
<div style="left:1820.4px;top:1060.1px;width:35.3px;height:14px;background:#1b547f"></div>
<div style="left:1855.7px;top:1060.1px;width:34.8px;height:14px;background:#1fb2e0"></div>
<div style="left:1890.5px;top:1060.1px;width:39.2px;height:14px;background:#1fb2e0"></div>
<div style="left:1929.7px;top:1060.1px;width:34.9px;height:14px;background:#1fb2e0"></div>
<div style="left:1964.6px;top:1060.1px;width:41px;height:14px;background:#1fb2e0"></div>
<div style="left:2005.6px;top:1060.1px;width:35.4px;height:14px;background:#1fb2e0"></div>
<div style="left:2041px;top:1060.1px;width:35px;height:14px;background:#1fb2e0"></div>
<div style="left:695.3px;top:1074.1px;width:34.2px;height:15.6px;background:#f6e71a"></div>
<div style="left:729.5px;top:1074.1px;width:35px;height:15.6px;background:#f6e71a"></div>
<div style="left:1190.4px;top:1074.1px;width:35.3px;height:15.6px;background:#1b547f"></div>
<div style="left:1330.5px;top:1074.1px;width:34.9px;height:15.6px;background:#f6e71a"></div>
<div style="left:1365.4px;top:1074.1px;width:34.8px;height:15.6px;background:#f6e71a"></div>
<div style="left:1820.4px;top:1074.1px;width:35.3px;height:15.6px;background:#1b547f"></div>
<div style="left:1855.7px;top:1074.1px;width:34.8px;height:15.6px;background:#1fb2e0"></div>
<div style="left:1890.5px;top:1074.1px;width:39.2px;height:15.6px;background:#1fb2e0"></div>
<div style="left:1929.7px;top:1074.1px;width:34.9px;height:15.6px;background:#1fb2e0"></div>
<div style="left:1964.6px;top:1074.1px;width:41px;height:15.6px;background:#1fb2e0"></div>
<div style="left:2005.6px;top:1074.1px;width:35.4px;height:15.6px;background:#1fb2e0"></div>
<div style="left:2041px;top:1074.1px;width:35px;height:15.6px;background:#1fb2e0"></div>
<div style="left:799.5px;top:1089.7px;width:35.5px;height:15px;background:#f6e71a"></div>
<div style="left:1085.4px;top:1089.7px;width:35.3px;height:15px;background:#1b547f"></div>
<div style="left:1611px;top:1089.7px;width:35px;height:15px;background:#f6e71a"></div>
<div style="left:1646px;top:1089.7px;width:34.3px;height:15px;background:#f6e71a"></div>
<div style="left:1680.3px;top:1089.7px;width:35.2px;height:15px;background:#f6e71a"></div>
<div style="left:1820.4px;top:1089.7px;width:35.3px;height:15px;background:#1b547f"></div>
<div style="left:1855.7px;top:1089.7px;width:34.8px;height:15px;background:#1fb2e0"></div>
<div style="left:1890.5px;top:1089.7px;width:39.2px;height:15px;background:#1fb2e0"></div>
<div style="left:1929.7px;top:1089.7px;width:34.9px;height:15px;background:#1fb2e0"></div>
<div style="left:1964.6px;top:1089.7px;width:41px;height:15px;background:#1fb2e0"></div>
<div style="left:2005.6px;top:1089.7px;width:35.4px;height:15px;background:#1fb2e0"></div>
<div style="left:2041px;top:1089.7px;width:35px;height:15px;background:#1fb2e0"></div>
<div style="left:695.3px;top:1104.7px;width:34.2px;height:15.1px;background:#1fb2e0"></div>
<div style="left:729.5px;top:1104.7px;width:35px;height:15.1px;background:#1fb2e0"></div>
<div style="left:764.5px;top:1104.7px;width:35px;height:15.1px;background:#1fb2e0"></div>
<div style="left:799.5px;top:1104.7px;width:35.5px;height:15.1px;background:#1fb2e0"></div>
<div style="left:835px;top:1104.7px;width:34.5px;height:15.1px;background:#1fb2e0"></div>
<div style="left:904.7px;top:1104.7px;width:34.6px;height:15.1px;background:#f6e71a"></div>
<div style="left:1225.7px;top:1104.7px;width:35.2px;height:15.1px;background:#f6e71a"></div>
<div style="left:1260.9px;top:1104.7px;width:35.1px;height:15.1px;background:#f6e71a"></div>
<div style="left:1365.4px;top:1104.7px;width:34.8px;height:15.1px;background:#1b547f"></div>
<div style="left:1575.5px;top:1104.7px;width:35.5px;height:15.1px;background:#f6e71a"></div>
<div style="left:1929.7px;top:1104.7px;width:34.9px;height:15.1px;background:#1b547f"></div>
<div style="left:1964.6px;top:1104.7px;width:41px;height:15.1px;background:#1fb2e0"></div>
<div style="left:2005.6px;top:1104.7px;width:35.4px;height:15.1px;background:#1fb2e0"></div>
<div style="left:2041px;top:1104.7px;width:35px;height:15.1px;background:#1fb2e0"></div>
<div style="left:764.5px;top:1119.8px;width:35px;height:15.1px;background:#f6e71a"></div>
<div style="left:799.5px;top:1119.8px;width:35.5px;height:15.1px;background:#f6e71a"></div>
<div style="left:1225.7px;top:1119.8px;width:35.2px;height:15.1px;background:#1b547f"></div>
<div style="left:1505.8px;top:1119.8px;width:34.7px;height:15.1px;background:#f6e71a"></div>
<div style="left:1575.5px;top:1119.8px;width:35.5px;height:15.1px;background:#f6e71a"></div>
<div style="left:1890.5px;top:1119.8px;width:39.2px;height:15.1px;background:#1b547f"></div>
<div style="left:1929.7px;top:1119.8px;width:34.9px;height:15.1px;background:#1fb2e0"></div>
<div style="left:1964.6px;top:1119.8px;width:41px;height:15.1px;background:#1fb2e0"></div>
<div style="left:2005.6px;top:1119.8px;width:35.4px;height:15.1px;background:#1fb2e0"></div>
<div style="left:2041px;top:1119.8px;width:35px;height:15.1px;background:#1fb2e0"></div>
<div style="left:974.8px;top:1134.9px;width:40.5px;height:15.1px;background:#f6e71a"></div>
<div style="left:1015.3px;top:1134.9px;width:35.3px;height:15.1px;background:#f6e71a"></div>
<div style="left:1225.7px;top:1134.9px;width:35.2px;height:15.1px;background:#1b547f"></div>
<div style="left:1505.8px;top:1134.9px;width:34.7px;height:15.1px;background:#f6e71a"></div>
<div style="left:1611px;top:1134.9px;width:35px;height:15.1px;background:#f6e71a"></div>
<div style="left:1890.5px;top:1134.9px;width:39.2px;height:15.1px;background:#1b547f"></div>
<div style="left:1929.7px;top:1134.9px;width:34.9px;height:15.1px;background:#1fb2e0"></div>
<div style="left:1964.6px;top:1134.9px;width:41px;height:15.1px;background:#1fb2e0"></div>
<div style="left:2005.6px;top:1134.9px;width:35.4px;height:15.1px;background:#1fb2e0"></div>
<div style="left:2041px;top:1134.9px;width:35px;height:15.1px;background:#1fb2e0"></div>
<div style="left:1120.7px;top:1165.1px;width:69.7px;height:176.3px;background:#e3284f"></div>
<div style="left:939.3px;top:1165.1px;width:35.5px;height:14.7px;background:#1b547f"></div>
<div style="left:1436px;top:1165.1px;width:35px;height:14.7px;background:#1b547f"></div>
<div style="left:1471px;top:1165.1px;width:34.8px;height:14.7px;background:#1fb2e0"></div>
<div style="left:1505.8px;top:1165.1px;width:34.7px;height:14.7px;background:#1fb2e0"></div>
<div style="left:1540.5px;top:1165.1px;width:35px;height:14.7px;background:#1fb2e0"></div>
<div style="left:1575.5px;top:1165.1px;width:35.5px;height:14.7px;background:#1fb2e0"></div>
<div style="left:1611px;top:1165.1px;width:35px;height:14.7px;background:#1fb2e0"></div>
<div style="left:1646px;top:1165.1px;width:34.3px;height:14.7px;background:#1fb2e0"></div>
<div style="left:1680.3px;top:1165.1px;width:35.2px;height:14.7px;background:#2e7d31"></div>
<div style="left:1715.5px;top:1165.1px;width:35.1px;height:14.7px;background:#2e7d31"></div>
<div style="left:1750.6px;top:1165.1px;width:35px;height:14.7px;background:#2e7d31"></div>
<div style="left:1785.6px;top:1165.1px;width:34.8px;height:14.7px;background:#2e7d31"></div>
<div style="left:1855.7px;top:1165.1px;width:34.8px;height:14.7px;background:#fa8318"></div>
<div style="left:1890.5px;top:1165.1px;width:39.2px;height:14.7px;background:#fa8318"></div>
<div style="left:1929.7px;top:1165.1px;width:34.9px;height:14.7px;background:#fa8318"></div>
<div style="left:1964.6px;top:1165.1px;width:41px;height:14.7px;background:#f2463c"></div>
<div style="left:2005.6px;top:1165.1px;width:35.4px;height:14.7px;background:#f2463c"></div>
<div style="left:2041px;top:1165.1px;width:35px;height:14.7px;background:#8a1d66"></div>
<div style="left:1820.4px;top:1165.1px;width:17.7px;height:14.7px;background:#fa8318"></div>
<div style="left:1838.1px;top:1165.1px;width:17.6px;height:14.7px;background:#3d6433"></div>
<div style="left:939.3px;top:1179.8px;width:35.5px;height:14.2px;background:#1b547f"></div>
<div style="left:1436px;top:1179.8px;width:35px;height:14.2px;background:#1b547f"></div>
<div style="left:1471px;top:1179.8px;width:34.8px;height:14.2px;background:#1fb2e0"></div>
<div style="left:1505.8px;top:1179.8px;width:34.7px;height:14.2px;background:#1fb2e0"></div>
<div style="left:1540.5px;top:1179.8px;width:35px;height:14.2px;background:#1fb2e0"></div>
<div style="left:1575.5px;top:1179.8px;width:35.5px;height:14.2px;background:#1fb2e0"></div>
<div style="left:1611px;top:1179.8px;width:35px;height:14.2px;background:#1fb2e0"></div>
<div style="left:1646px;top:1179.8px;width:34.3px;height:14.2px;background:#1fb2e0"></div>
<div style="left:1680.3px;top:1179.8px;width:35.2px;height:14.2px;background:#2e7d31"></div>
<div style="left:1715.5px;top:1179.8px;width:35.1px;height:14.2px;background:#2e7d31"></div>
<div style="left:1750.6px;top:1179.8px;width:35px;height:14.2px;background:#2e7d31"></div>
<div style="left:1785.6px;top:1179.8px;width:34.8px;height:14.2px;background:#2e7d31"></div>
<div style="left:1855.7px;top:1179.8px;width:34.8px;height:14.2px;background:#fa8318"></div>
<div style="left:1890.5px;top:1179.8px;width:39.2px;height:14.2px;background:#fa8318"></div>
<div style="left:1929.7px;top:1179.8px;width:34.9px;height:14.2px;background:#fa8318"></div>
<div style="left:1964.6px;top:1179.8px;width:41px;height:14.2px;background:#f2463c"></div>
<div style="left:2005.6px;top:1179.8px;width:35.4px;height:14.2px;background:#f2463c"></div>
<div style="left:2041px;top:1179.8px;width:35px;height:14.2px;background:#8a1d66"></div>
<div style="left:1820.4px;top:1179.8px;width:17.7px;height:14.2px;background:#3d6433"></div>
<div style="left:1838.1px;top:1179.8px;width:17.6px;height:14.2px;background:#fa8318"></div>
<div style="left:695.3px;top:1194px;width:34.2px;height:14px;background:#1fb2e0"></div>
<div style="left:729.5px;top:1194px;width:35px;height:14px;background:#1fb2e0"></div>
<div style="left:764.5px;top:1194px;width:35px;height:14px;background:#1fb2e0"></div>
<div style="left:799.5px;top:1194px;width:35.5px;height:14px;background:#1fb2e0"></div>
<div style="left:835px;top:1194px;width:34.5px;height:14px;background:#1fb2e0"></div>
<div style="left:869.5px;top:1194px;width:35.2px;height:14px;background:#1fb2e0"></div>
<div style="left:1190.4px;top:1194px;width:17.7px;height:14px;background:#1b547f"></div>
<div style="left:1663.2px;top:1194px;width:17.1px;height:14px;background:#1b547f"></div>
<div style="left:1680.3px;top:1194px;width:35.2px;height:14px;background:#2e7d31"></div>
<div style="left:1715.5px;top:1194px;width:35.1px;height:14px;background:#2e7d31"></div>
<div style="left:1750.6px;top:1194px;width:35px;height:14px;background:#2e7d31"></div>
<div style="left:1785.6px;top:1194px;width:34.8px;height:14px;background:#2e7d31"></div>
<div style="left:1855.7px;top:1194px;width:34.8px;height:14px;background:#fa8318"></div>
<div style="left:1890.5px;top:1194px;width:39.2px;height:14px;background:#fa8318"></div>
<div style="left:1929.7px;top:1194px;width:34.9px;height:14px;background:#fa8318"></div>
<div style="left:1964.6px;top:1194px;width:41px;height:14px;background:#f2463c"></div>
<div style="left:2005.6px;top:1194px;width:35.4px;height:14px;background:#f2463c"></div>
<div style="left:2041px;top:1194px;width:35px;height:14px;background:#8a1d66"></div>
<div style="left:1820.4px;top:1194px;width:35.3px;height:14px;background:#fa8318"></div>
<div style="left:695.3px;top:1208px;width:34.2px;height:14.7px;background:#1fb2e0"></div>
<div style="left:729.5px;top:1208px;width:35px;height:14.7px;background:#1fb2e0"></div>
<div style="left:1015.3px;top:1208px;width:35.3px;height:14.7px;background:#1b547f"></div>
<div style="left:1505.8px;top:1208px;width:34.7px;height:14.7px;background:#1b547f"></div>
<div style="left:1540.5px;top:1208px;width:35px;height:14.7px;background:#1fb2e0"></div>
<div style="left:1575.5px;top:1208px;width:35.5px;height:14.7px;background:#1fb2e0"></div>
<div style="left:1611px;top:1208px;width:35px;height:14.7px;background:#1fb2e0"></div>
<div style="left:1646px;top:1208px;width:34.3px;height:14.7px;background:#1fb2e0"></div>
<div style="left:1680.3px;top:1208px;width:35.2px;height:14.7px;background:#2e7d31"></div>
<div style="left:1715.5px;top:1208px;width:35.1px;height:14.7px;background:#2e7d31"></div>
<div style="left:1750.6px;top:1208px;width:35px;height:14.7px;background:#2e7d31"></div>
<div style="left:1785.6px;top:1208px;width:34.8px;height:14.7px;background:#2e7d31"></div>
<div style="left:1855.7px;top:1208px;width:34.8px;height:14.7px;background:#fa8318"></div>
<div style="left:1890.5px;top:1208px;width:39.2px;height:14.7px;background:#fa8318"></div>
<div style="left:1929.7px;top:1208px;width:34.9px;height:14.7px;background:#fa8318"></div>
<div style="left:1964.6px;top:1208px;width:41px;height:14.7px;background:#f2463c"></div>
<div style="left:2005.6px;top:1208px;width:35.4px;height:14.7px;background:#f2463c"></div>
<div style="left:2041px;top:1208px;width:35px;height:14.7px;background:#8a1d66"></div>
<div style="left:1820.4px;top:1208px;width:17.7px;height:14.7px;background:#fa8318"></div>
<div style="left:1838.1px;top:1208px;width:17.6px;height:14.7px;background:#3d6433"></div>
<div style="left:695.3px;top:1222.7px;width:34.2px;height:14.8px;background:#1fb2e0"></div>
<div style="left:729.5px;top:1222.7px;width:35px;height:14.8px;background:#1fb2e0"></div>
<div style="left:764.5px;top:1222.7px;width:35px;height:14.8px;background:#1fb2e0"></div>
<div style="left:799.5px;top:1222.7px;width:35.5px;height:14.8px;background:#1fb2e0"></div>
<div style="left:835px;top:1222.7px;width:34.5px;height:14.8px;background:#1fb2e0"></div>
<div style="left:869.5px;top:1222.7px;width:35.2px;height:14.8px;background:#1fb2e0"></div>
<div style="left:1050.6px;top:1222.7px;width:34.8px;height:14.8px;background:#f6e71a"></div>
<div style="left:1085.4px;top:1222.7px;width:35.3px;height:14.8px;background:#f6e71a"></div>
<div style="left:1260.9px;top:1222.7px;width:35.1px;height:14.8px;background:#1b547f"></div>
<div style="left:1646px;top:1222.7px;width:34.3px;height:14.8px;background:#1b547f"></div>
<div style="left:1680.3px;top:1222.7px;width:35.2px;height:14.8px;background:#2e7d31"></div>
<div style="left:1715.5px;top:1222.7px;width:35.1px;height:14.8px;background:#2e7d31"></div>
<div style="left:1750.6px;top:1222.7px;width:35px;height:14.8px;background:#2e7d31"></div>
<div style="left:1785.6px;top:1222.7px;width:34.8px;height:14.8px;background:#2e7d31"></div>
<div style="left:1855.7px;top:1222.7px;width:34.8px;height:14.8px;background:#fa8318"></div>
<div style="left:1890.5px;top:1222.7px;width:39.2px;height:14.8px;background:#fa8318"></div>
<div style="left:1929.7px;top:1222.7px;width:34.9px;height:14.8px;background:#fa8318"></div>
<div style="left:1964.6px;top:1222.7px;width:41px;height:14.8px;background:#f2463c"></div>
<div style="left:2005.6px;top:1222.7px;width:35.4px;height:14.8px;background:#f2463c"></div>
<div style="left:2041px;top:1222.7px;width:35px;height:14.8px;background:#8a1d66"></div>
<div style="left:1820.4px;top:1222.7px;width:17.7px;height:14.8px;background:#3d6433"></div>
<div style="left:1838.1px;top:1222.7px;width:17.6px;height:14.8px;background:#fa8318"></div>
<div style="left:939.3px;top:1237.5px;width:35.5px;height:14.9px;background:#1b547f"></div>
<div style="left:1436px;top:1237.5px;width:35px;height:14.9px;background:#1b547f"></div>
<div style="left:1471px;top:1237.5px;width:34.8px;height:14.9px;background:#1fb2e0"></div>
<div style="left:1505.8px;top:1237.5px;width:34.7px;height:14.9px;background:#1fb2e0"></div>
<div style="left:1540.5px;top:1237.5px;width:35px;height:14.9px;background:#1fb2e0"></div>
<div style="left:1575.5px;top:1237.5px;width:35.5px;height:14.9px;background:#1fb2e0"></div>
<div style="left:1611px;top:1237.5px;width:35px;height:14.9px;background:#1fb2e0"></div>
<div style="left:1646px;top:1237.5px;width:34.3px;height:14.9px;background:#1fb2e0"></div>
<div style="left:1680.3px;top:1237.5px;width:35.2px;height:14.9px;background:#2e7d31"></div>
<div style="left:1715.5px;top:1237.5px;width:35.1px;height:14.9px;background:#2e7d31"></div>
<div style="left:1750.6px;top:1237.5px;width:35px;height:14.9px;background:#2e7d31"></div>
<div style="left:1785.6px;top:1237.5px;width:34.8px;height:14.9px;background:#2e7d31"></div>
<div style="left:1855.7px;top:1237.5px;width:34.8px;height:14.9px;background:#fa8318"></div>
<div style="left:1890.5px;top:1237.5px;width:39.2px;height:14.9px;background:#fa8318"></div>
<div style="left:1929.7px;top:1237.5px;width:34.9px;height:14.9px;background:#fa8318"></div>
<div style="left:1964.6px;top:1237.5px;width:41px;height:14.9px;background:#f2463c"></div>
<div style="left:2005.6px;top:1237.5px;width:35.4px;height:14.9px;background:#f2463c"></div>
<div style="left:2041px;top:1237.5px;width:35px;height:14.9px;background:#8a1d66"></div>
<div style="left:1820.4px;top:1237.5px;width:17.7px;height:14.9px;background:#3d6433"></div>
<div style="left:1838.1px;top:1237.5px;width:17.6px;height:14.9px;background:#fa8318"></div>
<div style="left:939.3px;top:1252.4px;width:35.5px;height:14.4px;background:#1b547f"></div>
<div style="left:1436px;top:1252.4px;width:35px;height:14.4px;background:#1b547f"></div>
<div style="left:1471px;top:1252.4px;width:34.8px;height:14.4px;background:#1fb2e0"></div>
<div style="left:1505.8px;top:1252.4px;width:34.7px;height:14.4px;background:#1fb2e0"></div>
<div style="left:1540.5px;top:1252.4px;width:35px;height:14.4px;background:#1fb2e0"></div>
<div style="left:1575.5px;top:1252.4px;width:35.5px;height:14.4px;background:#1fb2e0"></div>
<div style="left:1611px;top:1252.4px;width:35px;height:14.4px;background:#1fb2e0"></div>
<div style="left:1646px;top:1252.4px;width:34.3px;height:14.4px;background:#1fb2e0"></div>
<div style="left:1680.3px;top:1252.4px;width:35.2px;height:14.4px;background:#2e7d31"></div>
<div style="left:1715.5px;top:1252.4px;width:35.1px;height:14.4px;background:#2e7d31"></div>
<div style="left:1750.6px;top:1252.4px;width:35px;height:14.4px;background:#2e7d31"></div>
<div style="left:1785.6px;top:1252.4px;width:34.8px;height:14.4px;background:#2e7d31"></div>
<div style="left:1855.7px;top:1252.4px;width:34.8px;height:14.4px;background:#fa8318"></div>
<div style="left:1890.5px;top:1252.4px;width:39.2px;height:14.4px;background:#fa8318"></div>
<div style="left:1929.7px;top:1252.4px;width:34.9px;height:14.4px;background:#fa8318"></div>
<div style="left:1964.6px;top:1252.4px;width:41px;height:14.4px;background:#f2463c"></div>
<div style="left:2005.6px;top:1252.4px;width:35.4px;height:14.4px;background:#f2463c"></div>
<div style="left:2041px;top:1252.4px;width:35px;height:14.4px;background:#8a1d66"></div>
<div style="left:1820.4px;top:1252.4px;width:17.7px;height:14.4px;background:#fa8318"></div>
<div style="left:1838.1px;top:1252.4px;width:17.6px;height:14.4px;background:#3d6433"></div>
<div style="left:939.3px;top:1266.8px;width:35.5px;height:14.7px;background:#1b547f"></div>
<div style="left:1436px;top:1266.8px;width:35px;height:14.7px;background:#1b547f"></div>
<div style="left:1471px;top:1266.8px;width:34.8px;height:14.7px;background:#1fb2e0"></div>
<div style="left:1505.8px;top:1266.8px;width:34.7px;height:14.7px;background:#1fb2e0"></div>
<div style="left:1540.5px;top:1266.8px;width:35px;height:14.7px;background:#1fb2e0"></div>
<div style="left:1575.5px;top:1266.8px;width:35.5px;height:14.7px;background:#1fb2e0"></div>
<div style="left:1611px;top:1266.8px;width:35px;height:14.7px;background:#1fb2e0"></div>
<div style="left:1646px;top:1266.8px;width:34.3px;height:14.7px;background:#1fb2e0"></div>
<div style="left:1680.3px;top:1266.8px;width:35.2px;height:14.7px;background:#2e7d31"></div>
<div style="left:1715.5px;top:1266.8px;width:35.1px;height:14.7px;background:#2e7d31"></div>
<div style="left:1750.6px;top:1266.8px;width:35px;height:14.7px;background:#2e7d31"></div>
<div style="left:1785.6px;top:1266.8px;width:34.8px;height:14.7px;background:#2e7d31"></div>
<div style="left:1855.7px;top:1266.8px;width:34.8px;height:14.7px;background:#fa8318"></div>
<div style="left:1890.5px;top:1266.8px;width:39.2px;height:14.7px;background:#fa8318"></div>
<div style="left:1929.7px;top:1266.8px;width:34.9px;height:14.7px;background:#fa8318"></div>
<div style="left:1964.6px;top:1266.8px;width:41px;height:14.7px;background:#f2463c"></div>
<div style="left:2005.6px;top:1266.8px;width:35.4px;height:14.7px;background:#f2463c"></div>
<div style="left:2041px;top:1266.8px;width:35px;height:14.7px;background:#8a1d66"></div>
<div style="left:1820.4px;top:1266.8px;width:17.7px;height:14.7px;background:#3d6433"></div>
<div style="left:1838.1px;top:1266.8px;width:17.6px;height:14.7px;background:#fa8318"></div>
<div style="left:939.3px;top:1281.5px;width:35.5px;height:15.1px;background:#1b547f"></div>
<div style="left:1436px;top:1281.5px;width:35px;height:15.1px;background:#1b547f"></div>
<div style="left:1471px;top:1281.5px;width:34.8px;height:15.1px;background:#1fb2e0"></div>
<div style="left:1505.8px;top:1281.5px;width:34.7px;height:15.1px;background:#1fb2e0"></div>
<div style="left:1540.5px;top:1281.5px;width:35px;height:15.1px;background:#1fb2e0"></div>
<div style="left:1575.5px;top:1281.5px;width:35.5px;height:15.1px;background:#1fb2e0"></div>
<div style="left:1611px;top:1281.5px;width:35px;height:15.1px;background:#1fb2e0"></div>
<div style="left:1646px;top:1281.5px;width:34.3px;height:15.1px;background:#1fb2e0"></div>
<div style="left:1680.3px;top:1281.5px;width:35.2px;height:15.1px;background:#2e7d31"></div>
<div style="left:1715.5px;top:1281.5px;width:35.1px;height:15.1px;background:#2e7d31"></div>
<div style="left:1750.6px;top:1281.5px;width:35px;height:15.1px;background:#2e7d31"></div>
<div style="left:1785.6px;top:1281.5px;width:34.8px;height:15.1px;background:#2e7d31"></div>
<div style="left:1855.7px;top:1281.5px;width:34.8px;height:15.1px;background:#fa8318"></div>
<div style="left:1890.5px;top:1281.5px;width:39.2px;height:15.1px;background:#fa8318"></div>
<div style="left:1929.7px;top:1281.5px;width:34.9px;height:15.1px;background:#fa8318"></div>
<div style="left:1964.6px;top:1281.5px;width:41px;height:15.1px;background:#f2463c"></div>
<div style="left:2005.6px;top:1281.5px;width:35.4px;height:15.1px;background:#f2463c"></div>
<div style="left:2041px;top:1281.5px;width:35px;height:15.1px;background:#8a1d66"></div>
<div style="left:1820.4px;top:1281.5px;width:35.3px;height:15.1px;background:#fa8318"></div>
<div style="left:1855.7px;top:1281.5px;width:17.4px;height:15.1px;background:#3d6433"></div>
<div style="left:1873.1px;top:1281.5px;width:17.4px;height:15.1px;background:#fa8318"></div>
<div style="left:695.3px;top:1296.6px;width:34.2px;height:15px;background:#1fb2e0"></div>
<div style="left:729.5px;top:1296.6px;width:35px;height:15px;background:#1fb2e0"></div>
<div style="left:974.8px;top:1296.6px;width:40.5px;height:15px;background:#1b547f"></div>
<div style="left:1436px;top:1296.6px;width:35px;height:15px;background:#1b547f"></div>
<div style="left:1471px;top:1296.6px;width:34.8px;height:15px;background:#1fb2e0"></div>
<div style="left:1505.8px;top:1296.6px;width:34.7px;height:15px;background:#1fb2e0"></div>
<div style="left:1540.5px;top:1296.6px;width:35px;height:15px;background:#1fb2e0"></div>
<div style="left:1575.5px;top:1296.6px;width:35.5px;height:15px;background:#1fb2e0"></div>
<div style="left:1611px;top:1296.6px;width:35px;height:15px;background:#1fb2e0"></div>
<div style="left:1646px;top:1296.6px;width:34.3px;height:15px;background:#1fb2e0"></div>
<div style="left:1680.3px;top:1296.6px;width:35.2px;height:15px;background:#2e7d31"></div>
<div style="left:1715.5px;top:1296.6px;width:35.1px;height:15px;background:#2e7d31"></div>
<div style="left:1750.6px;top:1296.6px;width:35px;height:15px;background:#2e7d31"></div>
<div style="left:1785.6px;top:1296.6px;width:34.8px;height:15px;background:#2e7d31"></div>
<div style="left:1855.7px;top:1296.6px;width:34.8px;height:15px;background:#fa8318"></div>
<div style="left:1890.5px;top:1296.6px;width:39.2px;height:15px;background:#fa8318"></div>
<div style="left:1929.7px;top:1296.6px;width:34.9px;height:15px;background:#fa8318"></div>
<div style="left:1964.6px;top:1296.6px;width:41px;height:15px;background:#f2463c"></div>
<div style="left:2005.6px;top:1296.6px;width:35.4px;height:15px;background:#f2463c"></div>
<div style="left:2041px;top:1296.6px;width:35px;height:15px;background:#8a1d66"></div>
<div style="left:1820.4px;top:1296.6px;width:35.3px;height:15px;background:#fa8318"></div>
<div style="left:1855.7px;top:1296.6px;width:17.4px;height:15px;background:#3d6433"></div>
<div style="left:1873.1px;top:1296.6px;width:17.4px;height:15px;background:#fa8318"></div>
<div style="left:695.3px;top:1311.6px;width:34.2px;height:15.1px;background:#1fb2e0"></div>
<div style="left:729.5px;top:1311.6px;width:35px;height:15.1px;background:#1fb2e0"></div>
<div style="left:974.8px;top:1311.6px;width:40.5px;height:15.1px;background:#1b547f"></div>
<div style="left:1436px;top:1311.6px;width:35px;height:15.1px;background:#1b547f"></div>
<div style="left:1471px;top:1311.6px;width:34.8px;height:15.1px;background:#1fb2e0"></div>
<div style="left:1505.8px;top:1311.6px;width:34.7px;height:15.1px;background:#1fb2e0"></div>
<div style="left:1540.5px;top:1311.6px;width:35px;height:15.1px;background:#1fb2e0"></div>
<div style="left:1575.5px;top:1311.6px;width:35.5px;height:15.1px;background:#1fb2e0"></div>
<div style="left:1611px;top:1311.6px;width:35px;height:15.1px;background:#1fb2e0"></div>
<div style="left:1646px;top:1311.6px;width:34.3px;height:15.1px;background:#1fb2e0"></div>
<div style="left:1680.3px;top:1311.6px;width:35.2px;height:15.1px;background:#2e7d31"></div>
<div style="left:1715.5px;top:1311.6px;width:35.1px;height:15.1px;background:#2e7d31"></div>
<div style="left:1750.6px;top:1311.6px;width:35px;height:15.1px;background:#2e7d31"></div>
<div style="left:1785.6px;top:1311.6px;width:34.8px;height:15.1px;background:#2e7d31"></div>
<div style="left:1855.7px;top:1311.6px;width:34.8px;height:15.1px;background:#fa8318"></div>
<div style="left:1890.5px;top:1311.6px;width:39.2px;height:15.1px;background:#fa8318"></div>
<div style="left:1929.7px;top:1311.6px;width:34.9px;height:15.1px;background:#fa8318"></div>
<div style="left:1964.6px;top:1311.6px;width:41px;height:15.1px;background:#f2463c"></div>
<div style="left:2005.6px;top:1311.6px;width:35.4px;height:15.1px;background:#f2463c"></div>
<div style="left:2041px;top:1311.6px;width:35px;height:15.1px;background:#8a1d66"></div>
<div style="left:1820.4px;top:1311.6px;width:17.7px;height:15.1px;background:#fa8318"></div>
<div style="left:1838.1px;top:1311.6px;width:17.6px;height:15.1px;background:#3d6433"></div>
<div style="left:695.3px;top:1326.7px;width:34.2px;height:14.7px;background:#1fb2e0"></div>
<div style="left:729.5px;top:1326.7px;width:35px;height:14.7px;background:#1fb2e0"></div>
<div style="left:974.8px;top:1326.7px;width:40.5px;height:14.7px;background:#1b547f"></div>
<div style="left:1436px;top:1326.7px;width:35px;height:14.7px;background:#1b547f"></div>
<div style="left:1471px;top:1326.7px;width:34.8px;height:14.7px;background:#1fb2e0"></div>
<div style="left:1505.8px;top:1326.7px;width:34.7px;height:14.7px;background:#1fb2e0"></div>
<div style="left:1540.5px;top:1326.7px;width:35px;height:14.7px;background:#1fb2e0"></div>
<div style="left:1575.5px;top:1326.7px;width:35.5px;height:14.7px;background:#1fb2e0"></div>
<div style="left:1611px;top:1326.7px;width:35px;height:14.7px;background:#1fb2e0"></div>
<div style="left:1646px;top:1326.7px;width:34.3px;height:14.7px;background:#1fb2e0"></div>
<div style="left:1680.3px;top:1326.7px;width:35.2px;height:14.7px;background:#2e7d31"></div>
<div style="left:1715.5px;top:1326.7px;width:35.1px;height:14.7px;background:#2e7d31"></div>
<div style="left:1750.6px;top:1326.7px;width:35px;height:14.7px;background:#2e7d31"></div>
<div style="left:1785.6px;top:1326.7px;width:34.8px;height:14.7px;background:#2e7d31"></div>
<div style="left:1855.7px;top:1326.7px;width:34.8px;height:14.7px;background:#fa8318"></div>
<div style="left:1890.5px;top:1326.7px;width:39.2px;height:14.7px;background:#fa8318"></div>
<div style="left:1929.7px;top:1326.7px;width:34.9px;height:14.7px;background:#fa8318"></div>
<div style="left:1964.6px;top:1326.7px;width:41px;height:14.7px;background:#f2463c"></div>
<div style="left:2005.6px;top:1326.7px;width:35.4px;height:14.7px;background:#f2463c"></div>
<div style="left:2041px;top:1326.7px;width:35px;height:14.7px;background:#8a1d66"></div>
<div style="left:1820.4px;top:1326.7px;width:17.7px;height:14.7px;background:#3d6433"></div>
<div style="left:1838.1px;top:1326.7px;width:17.6px;height:14.7px;background:#fa8318"></div>
<div style="left:1120.7px;top:659.5px;width:69.7px;height:15.1px;background:#f3f3f3"></div>
<div style="left:1964.6px;top:659.5px;width:422.2px;height:15.1px;background:#f3f3f3"></div>
<div style="left:1120.7px;top:928.4px;width:69.7px;height:14.7px;background:#f3f3f3"></div>
<div style="left:2005.6px;top:928.4px;width:381.2px;height:14.7px;background:#f3f3f3"></div>
<div style="left:1120.7px;top:1150px;width:69.7px;height:15.1px;background:#f3f3f3"></div>
<div style="left:2076px;top:1150px;width:310.8px;height:15.1px;background:#f3f3f3"></div>
<svg style="position:absolute;left:0;top:0" width="2480" height="1400" viewBox="0 0 2480 1400" fill="#1d1d1f">
<rect x="427.75" y="322.15" width="2.5" height="1020.5"/>
<rect x="2385.55" y="322.15" width="2.5" height="1020.5"/>
<rect x="461.6" y="323.4" width="2.8" height="1018"/>
<rect x="517.9" y="323.4" width="2.8" height="1018"/>
<rect x="553.9" y="350.1" width="1.4" height="991.3"/>
<rect x="588.6" y="350.1" width="1.4" height="991.3"/>
<rect x="623.3" y="350.1" width="1.4" height="991.3"/>
<rect x="658.3" y="350.1" width="1.4" height="991.3"/>
<rect x="694.1" y="323.4" width="2.4" height="1018"/>
<rect x="728.8" y="350.1" width="1.4" height="991.3"/>
<rect x="763.8" y="350.1" width="1.4" height="991.3"/>
<rect x="798.8" y="350.1" width="1.4" height="991.3"/>
<rect x="833.8" y="323.4" width="2.4" height="1018"/>
<rect x="868.8" y="350.1" width="1.4" height="991.3"/>
<rect x="904" y="350.1" width="1.4" height="991.3"/>
<rect x="938.6" y="350.1" width="1.4" height="991.3"/>
<rect x="973.6" y="323.4" width="2.4" height="1018"/>
<rect x="1014.6" y="350.1" width="1.4" height="991.3"/>
<rect x="1049.9" y="350.1" width="1.4" height="991.3"/>
<rect x="1084.7" y="350.1" width="1.4" height="991.3"/>
<rect x="1120" y="350.1" width="1.4" height="991.3"/>
<rect x="1154.8" y="323.4" width="2.4" height="1018"/>
<rect x="1189.7" y="350.1" width="1.4" height="991.3"/>
<rect x="1225" y="350.1" width="1.4" height="991.3"/>
<rect x="1260.2" y="350.1" width="1.4" height="991.3"/>
<rect x="1294.8" y="323.4" width="2.4" height="1018"/>
<rect x="1329.8" y="350.1" width="1.4" height="991.3"/>
<rect x="1364.7" y="350.1" width="1.4" height="991.3"/>
<rect x="1399.5" y="350.1" width="1.4" height="991.3"/>
<rect x="1434.8" y="323.4" width="2.4" height="1018"/>
<rect x="1470.3" y="350.1" width="1.4" height="991.3"/>
<rect x="1505.1" y="350.1" width="1.4" height="991.3"/>
<rect x="1539.8" y="350.1" width="1.4" height="991.3"/>
<rect x="1574.8" y="350.1" width="1.4" height="991.3"/>
<rect x="1609.8" y="323.4" width="2.4" height="1018"/>
<rect x="1645.3" y="350.1" width="1.4" height="991.3"/>
<rect x="1679.6" y="350.1" width="1.4" height="991.3"/>
<rect x="1714.8" y="350.1" width="1.4" height="991.3"/>
<rect x="1749.4" y="323.4" width="2.4" height="1018"/>
<rect x="1784.9" y="350.1" width="1.4" height="991.3"/>
<rect x="1819.7" y="350.1" width="1.4" height="991.3"/>
<rect x="1855" y="350.1" width="1.4" height="991.3"/>
<rect x="1889.3" y="323.4" width="2.4" height="1018"/>
<rect x="1929" y="350.1" width="1.4" height="991.3"/>
<rect x="1963.9" y="350.1" width="1.4" height="991.3"/>
<rect x="2004.9" y="350.1" width="1.4" height="991.3"/>
<rect x="2040.3" y="350.1" width="1.4" height="991.3"/>
<rect x="2074.8" y="323.4" width="2.4" height="1018"/>
<rect x="2110.1" y="350.1" width="1.4" height="991.3"/>
<rect x="2145.1" y="350.1" width="1.4" height="991.3"/>
<rect x="2180.1" y="350.1" width="1.4" height="991.3"/>
<rect x="2214.8" y="323.4" width="2.4" height="1018"/>
<rect x="2250.4" y="350.1" width="1.4" height="991.3"/>
<rect x="2285.3" y="350.1" width="1.4" height="991.3"/>
<rect x="2320.1" y="350.1" width="1.4" height="991.3"/>
<rect x="2355.4" y="350.1" width="1.4" height="991.3"/>
<rect x="429" y="322.15" width="1957.8" height="2.5"/>
<rect x="429" y="1340.15" width="1957.8" height="2.5"/>
<rect x="519.3" y="349.15" width="1867.5" height="1.9"/>
<rect x="519.3" y="389.85" width="1867.5" height="1.9"/>
<rect x="429" y="403.95" width="1957.8" height="2.7"/>
<rect x="463" y="418.75" width="1923.8" height="1.9"/>
<rect x="463" y="433.65" width="1923.8" height="1.9"/>
<rect x="463" y="448.45" width="1923.8" height="1.9"/>
<rect x="463" y="463.55" width="1923.8" height="1.9"/>
<rect x="463" y="478.65" width="1923.8" height="1.9"/>
<rect x="463" y="493.75" width="1923.8" height="1.9"/>
<rect x="463" y="509.05" width="1923.8" height="1.9"/>
<rect x="463" y="524.05" width="1923.8" height="1.9"/>
<rect x="463" y="539.05" width="1923.8" height="1.9"/>
<rect x="463" y="554.05" width="1923.8" height="1.9"/>
<rect x="463" y="569.05" width="1923.8" height="1.9"/>
<rect x="463" y="584.25" width="1923.8" height="1.9"/>
<rect x="463" y="599.35" width="1923.8" height="1.9"/>
<rect x="463" y="614.45" width="1923.8" height="1.9"/>
<rect x="463" y="629.35" width="1923.8" height="1.9"/>
<rect x="463" y="644.25" width="1923.8" height="1.9"/>
<rect x="429" y="658.3" width="1957.8" height="2.4"/>
<rect x="463" y="688.95" width="1923.8" height="1.9"/>
<rect x="463" y="703.85" width="1923.8" height="1.9"/>
<rect x="463" y="719.15" width="1923.8" height="1.9"/>
<rect x="463" y="734.05" width="1923.8" height="1.9"/>
<rect x="463" y="748.25" width="1923.8" height="1.9"/>
<rect x="463" y="763.35" width="1923.8" height="1.9"/>
<rect x="463" y="778.45" width="1923.8" height="1.9"/>
<rect x="463" y="793.45" width="1923.8" height="1.9"/>
<rect x="463" y="808.35" width="1923.8" height="1.9"/>
<rect x="463" y="821.95" width="1923.8" height="1.9"/>
<rect x="463" y="837.05" width="1923.8" height="1.9"/>
<rect x="463" y="852.05" width="1923.8" height="1.9"/>
<rect x="463" y="867.15" width="1923.8" height="1.9"/>
<rect x="463" y="882.75" width="1923.8" height="1.9"/>
<rect x="463" y="897.85" width="1923.8" height="1.9"/>
<rect x="463" y="912.55" width="1923.8" height="1.9"/>
<rect x="429" y="927.2" width="1957.8" height="2.4"/>
<rect x="463" y="956.85" width="1923.8" height="1.9"/>
<rect x="463" y="970.65" width="1923.8" height="1.9"/>
<rect x="463" y="984.65" width="1923.8" height="1.9"/>
<rect x="463" y="999.25" width="1923.8" height="1.9"/>
<rect x="463" y="1014.35" width="1923.8" height="1.9"/>
<rect x="463" y="1029.05" width="1923.8" height="1.9"/>
<rect x="463" y="1044.05" width="1923.8" height="1.9"/>
<rect x="463" y="1059.15" width="1923.8" height="1.9"/>
<rect x="463" y="1073.15" width="1923.8" height="1.9"/>
<rect x="463" y="1088.75" width="1923.8" height="1.9"/>
<rect x="463" y="1103.75" width="1923.8" height="1.9"/>
<rect x="463" y="1118.85" width="1923.8" height="1.9"/>
<rect x="463" y="1133.95" width="1923.8" height="1.9"/>
<rect x="429" y="1148.8" width="1957.8" height="2.4"/>
<rect x="463" y="1178.85" width="1923.8" height="1.9"/>
<rect x="463" y="1193.05" width="1923.8" height="1.9"/>
<rect x="463" y="1207.05" width="1923.8" height="1.9"/>
<rect x="463" y="1221.75" width="1923.8" height="1.9"/>
<rect x="463" y="1236.55" width="1923.8" height="1.9"/>
<rect x="463" y="1251.45" width="1923.8" height="1.9"/>
<rect x="463" y="1265.85" width="1923.8" height="1.9"/>
<rect x="463" y="1280.55" width="1923.8" height="1.9"/>
<rect x="463" y="1295.65" width="1923.8" height="1.9"/>
<rect x="463" y="1310.65" width="1923.8" height="1.9"/>
<rect x="463" y="1325.75" width="1923.8" height="1.9"/>
<rect x="463" y="673.65" width="1923.8" height="1.9"/>
<rect x="463" y="942.15" width="1923.8" height="1.9"/>
<rect x="463" y="1164.15" width="1923.8" height="1.9"/>
</svg>
<div style="left:1539px;top:675.6px;width:3px;height:13.3px;background:#f6e71a"></div>
<div style="left:1854.2px;top:690.9px;width:3px;height:12.9px;background:#f6e71a"></div>
<div style="left:2249.9px;top:660.9px;width:2.4px;height:12.6px;background:#f3f3f3"></div>
<div style="left:2284.8px;top:660.9px;width:2.4px;height:12.6px;background:#f3f3f3"></div>
<div style="left:2319.6px;top:660.9px;width:2.4px;height:12.6px;background:#f3f3f3"></div>
<div class="t" style="left:659px;top:405.3px;width:36.3px;height:14.4px;line-height:14.4px">17</div>
<div class="t" style="left:1471px;top:405.3px;width:34.8px;height:14.4px;line-height:14.4px">22</div>
<div class="tr" style="left:2145.8px;top:405.3px;width:35px;height:14.4px;line-height:14.4px">10</div>
<div class="t" style="left:659px;top:419.7px;width:36.3px;height:14.9px;line-height:14.9px">17</div>
<div class="t" style="left:1471px;top:419.7px;width:34.8px;height:14.9px;line-height:14.9px">22</div>
<div class="tr" style="left:2145.8px;top:419.7px;width:35px;height:14.9px;line-height:14.9px">10</div>
<div class="t" style="left:659px;top:434.6px;width:36.3px;height:14.8px;line-height:14.8px">17</div>
<div class="t" style="left:1471px;top:434.6px;width:34.8px;height:14.8px;line-height:14.8px">22</div>
<div class="tr" style="left:2145.8px;top:434.6px;width:35px;height:14.8px;line-height:14.8px">10</div>
<div class="t" style="left:659px;top:449.4px;width:36.3px;height:15.1px;line-height:15.1px">17</div>
<div class="t" style="left:1471px;top:449.4px;width:34.8px;height:15.1px;line-height:15.1px">22</div>
<div class="tr" style="left:2145.8px;top:449.4px;width:35px;height:15.1px;line-height:15.1px">10</div>
<div class="t" style="left:659px;top:464.5px;width:36.3px;height:15.1px;line-height:15.1px">17</div>
<div class="t" style="left:1471px;top:464.5px;width:34.8px;height:15.1px;line-height:15.1px">22</div>
<div class="tr" style="left:2145.8px;top:464.5px;width:35px;height:15.1px;line-height:15.1px">10</div>
<div class="t" style="left:659px;top:479.6px;width:36.3px;height:15.1px;line-height:15.1px">17</div>
<div class="t" style="left:1471px;top:479.6px;width:34.8px;height:15.1px;line-height:15.1px">22</div>
<div class="tr" style="left:2145.8px;top:479.6px;width:35px;height:15.1px;line-height:15.1px">10</div>
<div class="t" style="left:659px;top:494.7px;width:36.3px;height:15.3px;line-height:15.3px">17</div>
<div class="t" style="left:1471px;top:494.7px;width:34.8px;height:15.3px;line-height:15.3px">22</div>
<div class="tr" style="left:2145.8px;top:494.7px;width:35px;height:15.3px;line-height:15.3px">10</div>
<div class="t" style="left:659px;top:510px;width:36.3px;height:15px;line-height:15px">17</div>
<div class="t" style="left:1471px;top:510px;width:34.8px;height:15px;line-height:15px">22</div>
<div class="tr" style="left:2145.8px;top:510px;width:35px;height:15px;line-height:15px">10</div>
<div class="t" style="left:659px;top:525px;width:36.3px;height:15px;line-height:15px">17</div>
<div class="t" style="left:1471px;top:525px;width:34.8px;height:15px;line-height:15px">22</div>
<div class="tr" style="left:2145.8px;top:525px;width:35px;height:15px;line-height:15px">10</div>
<div class="t" style="left:659px;top:540px;width:36.3px;height:15px;line-height:15px">17</div>
<div class="t" style="left:1471px;top:540px;width:34.8px;height:15px;line-height:15px">22</div>
<div class="tr" style="left:2145.8px;top:540px;width:35px;height:15px;line-height:15px">10</div>
<div class="t" style="left:659px;top:555px;width:36.3px;height:15px;line-height:15px">17</div>
<div class="t" style="left:1471px;top:555px;width:34.8px;height:15px;line-height:15px">22</div>
<div class="tr" style="left:2145.8px;top:555px;width:35px;height:15px;line-height:15px">10</div>
<div class="t" style="left:659px;top:570px;width:36.3px;height:15.2px;line-height:15.2px">17</div>
<div class="t" style="left:1471px;top:570px;width:34.8px;height:15.2px;line-height:15.2px">22</div>
<div class="tr" style="left:2145.8px;top:570px;width:35px;height:15.2px;line-height:15.2px">10</div>
<div class="t" style="left:659px;top:585.2px;width:36.3px;height:15.1px;line-height:15.1px">17</div>
<div class="t" style="left:1471px;top:585.2px;width:34.8px;height:15.1px;line-height:15.1px">22</div>
<div class="tr" style="left:2145.8px;top:585.2px;width:35px;height:15.1px;line-height:15.1px">10</div>
<div class="t" style="left:659px;top:600.3px;width:36.3px;height:15.1px;line-height:15.1px">17</div>
<div class="t" style="left:1471px;top:600.3px;width:34.8px;height:15.1px;line-height:15.1px">22</div>
<div class="tr" style="left:2145.8px;top:600.3px;width:35px;height:15.1px;line-height:15.1px">10</div>
<div class="t" style="left:659px;top:615.4px;width:36.3px;height:14.9px;line-height:14.9px">17</div>
<div class="t" style="left:1471px;top:615.4px;width:34.8px;height:14.9px;line-height:14.9px">22</div>
<div class="tr" style="left:2145.8px;top:615.4px;width:35px;height:14.9px;line-height:14.9px">10</div>
<div class="t" style="left:659px;top:630.3px;width:36.3px;height:14.9px;line-height:14.9px">17</div>
<div class="t" style="left:1471px;top:630.3px;width:34.8px;height:14.9px;line-height:14.9px">22</div>
<div class="tr" style="left:2145.8px;top:630.3px;width:35px;height:14.9px;line-height:14.9px">10</div>
<div class="t" style="left:659px;top:645.2px;width:36.3px;height:14.3px;line-height:14.3px">17</div>
<div class="t" style="left:1471px;top:645.2px;width:34.8px;height:14.3px;line-height:14.3px">22</div>
<div class="tr" style="left:2145.8px;top:645.2px;width:35px;height:14.3px;line-height:14.3px">10</div>
<div class="t" style="left:659px;top:674.6px;width:36.3px;height:15.3px;line-height:15.3px">14</div>
<div class="tk" style="left:695.3px;top:674.6px;width:34.2px;height:15.3px;line-height:15.3px">02.01</div>
<div class="tk" style="left:729.5px;top:674.6px;width:35px;height:15.3px;line-height:15.3px">02.01</div>
<div class="t" style="left:974.8px;top:674.6px;width:40.5px;height:15.3px;line-height:15.3px">06.01</div>
<div class="t" style="left:1015.3px;top:674.6px;width:35.3px;height:15.3px;line-height:15.3px">06.01</div>
<div class="t" style="left:1330.5px;top:674.6px;width:34.9px;height:15.3px;line-height:15.3px">05.01</div>
<div class="t" style="left:1471px;top:674.6px;width:34.8px;height:15.3px;line-height:15.3px">14</div>
<div class="t" style="left:1505.8px;top:674.6px;width:69.7px;height:15.3px;line-height:15.3px">04.01</div>
<div class="t" style="left:1820.4px;top:674.6px;width:35.3px;height:15.3px;line-height:15.3px">06.02</div>
<div class="t" style="left:1929.7px;top:674.6px;width:34.9px;height:15.3px;line-height:15.3px">06.01</div>
<div class="t" style="left:1964.6px;top:674.6px;width:41px;height:15.3px;line-height:15.3px">06.01</div>
<div class="t" style="left:2005.6px;top:674.6px;width:35.4px;height:15.3px;line-height:15.3px">06.01</div>
<div class="tr" style="left:2145.8px;top:674.6px;width:35px;height:15.3px;line-height:15.3px">10</div>
<div class="t" style="left:659px;top:689.9px;width:36.3px;height:14.9px;line-height:14.9px">14</div>
<div class="tk" style="left:695.3px;top:689.9px;width:34.2px;height:14.9px;line-height:14.9px">02.01</div>
<div class="tk" style="left:729.5px;top:689.9px;width:35px;height:14.9px;line-height:14.9px">02.01</div>
<div class="t" style="left:1050.6px;top:689.9px;width:34.8px;height:14.9px;line-height:14.9px">06.01</div>
<div class="t" style="left:1085.4px;top:689.9px;width:35.3px;height:14.9px;line-height:14.9px">06.01</div>
<div class="t" style="left:1365.4px;top:689.9px;width:34.8px;height:14.9px;line-height:14.9px">05.01</div>
<div class="t" style="left:1471px;top:689.9px;width:34.8px;height:14.9px;line-height:14.9px">14</div>
<div class="t" style="left:1785.6px;top:689.9px;width:34.8px;height:14.9px;line-height:14.9px">06.02</div>
<div class="t" style="left:1820.4px;top:689.9px;width:70.1px;height:14.9px;line-height:14.9px">04.01</div>
<div class="t" style="left:1929.7px;top:689.9px;width:34.9px;height:14.9px;line-height:14.9px">06.01</div>
<div class="t" style="left:1964.6px;top:689.9px;width:41px;height:14.9px;line-height:14.9px">06.01</div>
<div class="t" style="left:2005.6px;top:689.9px;width:35.4px;height:14.9px;line-height:14.9px">06.01</div>
<div class="tr" style="left:2145.8px;top:689.9px;width:35px;height:14.9px;line-height:14.9px">10</div>
<div class="tk" style="left:624px;top:704.8px;width:35px;height:15.3px;line-height:15.3px">02.01</div>
<div class="tk" style="left:659px;top:704.8px;width:36.3px;height:15.3px;line-height:15.3px">02.01</div>
<div class="t" style="left:695.3px;top:704.8px;width:34.2px;height:15.3px;line-height:15.3px">16</div>
<div class="t" style="left:869.5px;top:704.8px;width:35.2px;height:15.3px;line-height:15.3px">04.01</div>
<div class="t" style="left:904.7px;top:704.8px;width:34.6px;height:15.3px;line-height:15.3px">04.01</div>
<div class="t" style="left:1330.5px;top:704.8px;width:34.9px;height:15.3px;line-height:15.3px">04.02</div>
<div class="t" style="left:1365.4px;top:704.8px;width:34.8px;height:15.3px;line-height:15.3px">04.02</div>
<div class="t" style="left:1400.2px;top:704.8px;width:35.8px;height:15.3px;line-height:15.3px">04.02</div>
<div class="t" style="left:1471px;top:704.8px;width:34.8px;height:15.3px;line-height:15.3px">16</div>
<div class="tr" style="left:2145.8px;top:704.8px;width:35px;height:15.3px;line-height:15.3px">10</div>
<div class="t" style="left:659px;top:720.1px;width:36.3px;height:14.9px;line-height:14.9px">16</div>
<div class="t" style="left:695.3px;top:720.1px;width:34.2px;height:14.9px;line-height:14.9px">05.01</div>
<div class="t" style="left:904.7px;top:720.1px;width:34.6px;height:14.9px;line-height:14.9px">05.02</div>
<div class="t" style="left:1365.4px;top:720.1px;width:34.8px;height:14.9px;line-height:14.9px">01.01</div>
<div class="t" style="left:1400.2px;top:720.1px;width:35.8px;height:14.9px;line-height:14.9px">01.01</div>
<div class="t" style="left:1471px;top:720.1px;width:34.8px;height:14.9px;line-height:14.9px">15</div>
<div class="t" style="left:1540.5px;top:720.1px;width:35px;height:14.9px;line-height:14.9px">05.03</div>
<div class="t" style="left:1575.5px;top:720.1px;width:35.5px;height:14.9px;line-height:14.9px">05.03</div>
<div class="t" style="left:1646px;top:720.1px;width:34.3px;height:14.9px;line-height:14.9px">02.01</div>
<div class="t" style="left:1680.3px;top:720.1px;width:35.2px;height:14.9px;line-height:14.9px">02.01</div>
<div class="tr" style="left:2145.8px;top:720.1px;width:35px;height:14.9px;line-height:14.9px">10</div>
<div class="t" style="left:659px;top:735px;width:36.3px;height:14.2px;line-height:14.2px">15</div>
<div class="t" style="left:695.3px;top:735px;width:34.2px;height:14.2px;line-height:14.2px">01.01</div>
<div class="tk" style="left:764.5px;top:735px;width:35px;height:14.2px;line-height:14.2px">01.04</div>
<div class="t" style="left:1296px;top:735px;width:34.5px;height:14.2px;line-height:14.2px">02.01</div>
<div class="t" style="left:1330.5px;top:735px;width:34.9px;height:14.2px;line-height:14.2px">04.01</div>
<div class="t" style="left:1365.4px;top:735px;width:34.8px;height:14.2px;line-height:14.2px">04.01</div>
<div class="t" style="left:1400.2px;top:735px;width:35.8px;height:14.2px;line-height:14.2px">01.02</div>
<div class="t" style="left:1436px;top:735px;width:35px;height:14.2px;line-height:14.2px">01.02</div>
<div class="t" style="left:1471px;top:735px;width:34.8px;height:14.2px;line-height:14.2px">15</div>
<div class="t" style="left:1575.5px;top:735px;width:35.5px;height:14.2px;line-height:14.2px">04.02</div>
<div class="t" style="left:1611px;top:735px;width:35px;height:14.2px;line-height:14.2px">04.02</div>
<div class="tr" style="left:2145.8px;top:735px;width:35px;height:14.2px;line-height:14.2px">10</div>
<div class="t" style="left:624px;top:749.2px;width:35px;height:15.1px;line-height:15.1px">05.01</div>
<div class="t" style="left:659px;top:749.2px;width:36.3px;height:15.1px;line-height:15.1px">05.01</div>
<div class="t" style="left:695.3px;top:749.2px;width:34.2px;height:15.1px;line-height:15.1px">05.02</div>
<div class="t" style="left:729.5px;top:749.2px;width:35px;height:15.1px;line-height:15.1px">05.02</div>
<div class="t" style="left:764.5px;top:749.2px;width:35px;height:15.1px;line-height:15.1px">15</div>
<div class="t" style="left:1471px;top:749.2px;width:34.8px;height:15.1px;line-height:15.1px">16</div>
<div class="t" style="left:1505.8px;top:749.2px;width:34.7px;height:15.1px;line-height:15.1px">05.03</div>
<div class="t" style="left:1540.5px;top:749.2px;width:35px;height:15.1px;line-height:15.1px">05.03</div>
<div class="t" style="left:1929.7px;top:749.2px;width:34.9px;height:15.1px;line-height:15.1px">05.04</div>
<div class="t" style="left:1964.6px;top:749.2px;width:41px;height:15.1px;line-height:15.1px">05.04</div>
<div class="tr" style="left:2145.8px;top:749.2px;width:35px;height:15.1px;line-height:15.1px">10</div>
<div class="t" style="left:659px;top:764.3px;width:36.3px;height:15.1px;line-height:15.1px">15</div>
<div class="t" style="left:974.8px;top:764.3px;width:40.5px;height:15.1px;line-height:15.1px">05.01</div>
<div class="t" style="left:1015.3px;top:764.3px;width:35.3px;height:15.1px;line-height:15.1px">05.01</div>
<div class="t" style="left:1296px;top:764.3px;width:34.5px;height:15.1px;line-height:15.1px">01.01</div>
<div class="t" style="left:1400.2px;top:764.3px;width:35.8px;height:15.1px;line-height:15.1px">04.01</div>
<div class="t" style="left:1436px;top:764.3px;width:35px;height:15.1px;line-height:15.1px">03.01</div>
<div class="t" style="left:1471px;top:764.3px;width:34.8px;height:15.1px;line-height:15.1px">15</div>
<div class="t" style="left:1540.5px;top:764.3px;width:35px;height:15.1px;line-height:15.1px">05.02</div>
<div class="t" style="left:1575.5px;top:764.3px;width:35.5px;height:15.1px;line-height:15.1px">05.02</div>
<div class="t" style="left:1611px;top:764.3px;width:35px;height:15.1px;line-height:15.1px">05.03</div>
<div class="tr" style="left:2145.8px;top:764.3px;width:35px;height:15.1px;line-height:15.1px">10</div>
<div class="t" style="left:659px;top:779.4px;width:36.3px;height:15px;line-height:15px">16</div>
<div class="t" style="left:695.3px;top:779.4px;width:34.2px;height:15px;line-height:15px">05.01</div>
<div class="t" style="left:729.5px;top:779.4px;width:35px;height:15px;line-height:15px">05.01</div>
<div class="t" style="left:1296px;top:779.4px;width:34.5px;height:15px;line-height:15px">05.03</div>
<div class="t" style="left:1330.5px;top:779.4px;width:34.9px;height:15px;line-height:15px">05.03</div>
<div class="t" style="left:1365.4px;top:779.4px;width:34.8px;height:15px;line-height:15px">01.01</div>
<div class="t" style="left:1471px;top:779.4px;width:34.8px;height:15px;line-height:15px">16</div>
<div class="t" style="left:1646px;top:779.4px;width:34.3px;height:15px;line-height:15px">05.02</div>
<div class="t" style="left:1680.3px;top:779.4px;width:35.2px;height:15px;line-height:15px">05.02</div>
<div class="tr" style="left:2145.8px;top:779.4px;width:35px;height:15px;line-height:15px">10</div>
<div class="t" style="left:659px;top:794.4px;width:36.3px;height:14.9px;line-height:14.9px">16</div>
<div class="t" style="left:939.3px;top:794.4px;width:35.5px;height:14.9px;line-height:14.9px">05.01</div>
<div class="t" style="left:974.8px;top:794.4px;width:40.5px;height:14.9px;line-height:14.9px">05.01</div>
<div class="t" style="left:1330.5px;top:794.4px;width:34.9px;height:14.9px;line-height:14.9px">05.02</div>
<div class="t" style="left:1365.4px;top:794.4px;width:34.8px;height:14.9px;line-height:14.9px">05.02</div>
<div class="t" style="left:1436px;top:794.4px;width:35px;height:14.9px;line-height:14.9px">01.01</div>
<div class="t" style="left:1471px;top:794.4px;width:34.8px;height:14.9px;line-height:14.9px">16</div>
<div class="t" style="left:1540.5px;top:794.4px;width:35px;height:14.9px;line-height:14.9px">05.03</div>
<div class="t" style="left:1575.5px;top:794.4px;width:35.5px;height:14.9px;line-height:14.9px">05.03</div>
<div class="tr" style="left:2145.8px;top:794.4px;width:35px;height:14.9px;line-height:14.9px">10</div>
<div class="t" style="left:659px;top:809.3px;width:36.3px;height:13.6px;line-height:13.6px">16</div>
<div class="t" style="left:1050.6px;top:809.3px;width:34.8px;height:13.6px;line-height:13.6px">04.01</div>
<div class="t" style="left:1085.4px;top:809.3px;width:35.3px;height:13.6px;line-height:13.6px">04.02</div>
<div class="t" style="left:1260.9px;top:809.3px;width:35.1px;height:13.6px;line-height:13.6px">01.01</div>
<div class="t" style="left:1296px;top:809.3px;width:34.5px;height:13.6px;line-height:13.6px">01.01</div>
<div class="t" style="left:1330.5px;top:809.3px;width:34.9px;height:13.6px;line-height:13.6px">02.01</div>
<div class="t" style="left:1471px;top:809.3px;width:34.8px;height:13.6px;line-height:13.6px">15</div>
<div class="t" style="left:1540.5px;top:809.3px;width:35px;height:13.6px;line-height:13.6px">03.01</div>
<div class="t" style="left:1611px;top:809.3px;width:35px;height:13.6px;line-height:13.6px">04.03</div>
<div class="t" style="left:1646px;top:809.3px;width:34.3px;height:13.6px;line-height:13.6px">04.03</div>
<div class="tr" style="left:2145.8px;top:809.3px;width:35px;height:13.6px;line-height:13.6px">10</div>
<div class="t" style="left:624px;top:822.9px;width:35px;height:15.1px;line-height:15.1px">06.01</div>
<div class="t" style="left:659px;top:822.9px;width:36.3px;height:15.1px;line-height:15.1px">06.01</div>
<div class="t" style="left:695.3px;top:822.9px;width:34.2px;height:15.1px;line-height:15.1px">15</div>
<div class="tk" style="left:764.5px;top:822.9px;width:35px;height:15.1px;line-height:15.1px">02.01</div>
<div class="tk" style="left:799.5px;top:822.9px;width:35.5px;height:15.1px;line-height:15.1px">02.01</div>
<div class="t" style="left:1400.2px;top:822.9px;width:35.8px;height:15.1px;line-height:15.1px">01.01</div>
<div class="t" style="left:1436px;top:822.9px;width:35px;height:15.1px;line-height:15.1px">01.01</div>
<div class="t" style="left:1471px;top:822.9px;width:34.8px;height:15.1px;line-height:15.1px">15</div>
<div class="t" style="left:1611px;top:822.9px;width:35px;height:15.1px;line-height:15.1px">02.02</div>
<div class="t" style="left:1929.7px;top:822.9px;width:34.9px;height:15.1px;line-height:15.1px">06.02</div>
<div class="t" style="left:1964.6px;top:822.9px;width:41px;height:15.1px;line-height:15.1px">06.02</div>
<div class="tr" style="left:2145.8px;top:822.9px;width:35px;height:15.1px;line-height:15.1px">10</div>
<div class="t" style="left:659px;top:838px;width:36.3px;height:15px;line-height:15px">15</div>
<div class="t" style="left:695.3px;top:838px;width:34.2px;height:15px;line-height:15px">01.01</div>
<div class="t" style="left:729.5px;top:838px;width:35px;height:15px;line-height:15px">01.01</div>
<div class="t" style="left:869.5px;top:838px;width:35.2px;height:15px;line-height:15px">06.01</div>
<div class="t" style="left:1436px;top:838px;width:35px;height:15px;line-height:15px">02.01</div>
<div class="t" style="left:1471px;top:838px;width:34.8px;height:15px;line-height:15px">16</div>
<div class="t" style="left:1890.5px;top:838px;width:39.2px;height:15px;line-height:15px">06.01</div>
<div class="t" style="left:1929.7px;top:838px;width:34.9px;height:15px;line-height:15px">06.01</div>
<div class="t" style="left:1964.6px;top:838px;width:41px;height:15px;line-height:15px">02.01</div>
<div class="t" style="left:2005.6px;top:838px;width:35.4px;height:15px;line-height:15px">01.01</div>
<div class="tr" style="left:2145.8px;top:838px;width:35px;height:15px;line-height:15px">10</div>
<div class="t" style="left:659px;top:853px;width:36.3px;height:15.1px;line-height:15.1px">15</div>
<div class="t" style="left:695.3px;top:853px;width:34.2px;height:15.1px;line-height:15.1px">01.01</div>
<div class="t" style="left:729.5px;top:853px;width:35px;height:15.1px;line-height:15.1px">01.01</div>
<div class="t" style="left:1225.7px;top:853px;width:35.2px;height:15.1px;line-height:15.1px">01.02</div>
<div class="t" style="left:1260.9px;top:853px;width:35.1px;height:15.1px;line-height:15.1px">01.02</div>
<div class="t" style="left:1471px;top:853px;width:34.8px;height:15.1px;line-height:15.1px">14</div>
<div class="t" style="left:1505.8px;top:853px;width:34.7px;height:15.1px;line-height:15.1px">04.01</div>
<div class="t" style="left:1540.5px;top:853px;width:35px;height:15.1px;line-height:15.1px">04.01</div>
<div class="t" style="left:1575.5px;top:853px;width:35.5px;height:15.1px;line-height:15.1px">04.02</div>
<div class="t" style="left:1929.7px;top:853px;width:34.9px;height:15.1px;line-height:15.1px">04.01</div>
<div class="t" style="left:1964.6px;top:853px;width:41px;height:15.1px;line-height:15.1px">04.01</div>
<div class="t" style="left:2005.6px;top:853px;width:35.4px;height:15.1px;line-height:15.1px">04.01</div>
<div class="tr" style="left:2145.8px;top:853px;width:35px;height:15.1px;line-height:15.1px">10</div>
<div class="t" style="left:659px;top:868.1px;width:36.3px;height:15.6px;line-height:15.6px">16</div>
<div class="t" style="left:1471px;top:868.1px;width:34.8px;height:15.6px;line-height:15.6px">16</div>
<div class="t" style="left:1646px;top:868.1px;width:34.3px;height:15.6px;line-height:15.6px">02.01</div>
<div class="t" style="left:1680.3px;top:868.1px;width:35.2px;height:15.6px;line-height:15.6px">02.01</div>
<div class="t" style="left:1820.4px;top:868.1px;width:35.3px;height:15.6px;line-height:15.6px">01.01</div>
<div class="t" style="left:1855.7px;top:868.1px;width:34.8px;height:15.6px;line-height:15.6px">01.01</div>
<div class="t" style="left:1890.5px;top:868.1px;width:39.2px;height:15.6px;line-height:15.6px">01.01</div>
<div class="tk" style="left:1929.7px;top:868.1px;width:34.9px;height:15.6px;line-height:15.6px">05.01</div>
<div class="tk" style="left:1964.6px;top:868.1px;width:41px;height:15.6px;line-height:15.6px">05.01</div>
<div class="tr" style="left:2145.8px;top:868.1px;width:35px;height:15.6px;line-height:15.6px">10</div>
<div class="t" style="left:659px;top:883.7px;width:36.3px;height:15.1px;line-height:15.1px">15</div>
<div class="t" style="left:904.7px;top:883.7px;width:34.6px;height:15.1px;line-height:15.1px">04.01</div>
<div class="t" style="left:939.3px;top:883.7px;width:35.5px;height:15.1px;line-height:15.1px">04.01</div>
<div class="t" style="left:974.8px;top:883.7px;width:40.5px;height:15.1px;line-height:15.1px">04.02</div>
<div class="t" style="left:1015.3px;top:883.7px;width:35.3px;height:15.1px;line-height:15.1px">04.02</div>
<div class="t" style="left:1330.5px;top:883.7px;width:34.9px;height:15.1px;line-height:15.1px">04.04</div>
<div class="t" style="left:1365.4px;top:883.7px;width:34.8px;height:15.1px;line-height:15.1px">04.04</div>
<div class="t" style="left:1471px;top:883.7px;width:34.8px;height:15.1px;line-height:15.1px">16</div>
<div class="t" style="left:1855.7px;top:883.7px;width:34.8px;height:15.1px;line-height:15.1px">04.03</div>
<div class="t" style="left:1890.5px;top:883.7px;width:39.2px;height:15.1px;line-height:15.1px">04.03</div>
<div class="tr" style="left:2145.8px;top:883.7px;width:35px;height:15.1px;line-height:15.1px">10</div>
<div class="t" style="left:659px;top:898.8px;width:36.3px;height:14.7px;line-height:14.7px">15</div>
<div class="t" style="left:869.5px;top:898.8px;width:35.2px;height:14.7px;line-height:14.7px">04.02</div>
<div class="t" style="left:904.7px;top:898.8px;width:34.6px;height:14.7px;line-height:14.7px">04.02</div>
<div class="t" style="left:1050.6px;top:898.8px;width:34.8px;height:14.7px;line-height:14.7px">04.01</div>
<div class="t" style="left:1085.4px;top:898.8px;width:35.3px;height:14.7px;line-height:14.7px">04.01</div>
<div class="t" style="left:1400.2px;top:898.8px;width:35.8px;height:14.7px;line-height:14.7px">04.03</div>
<div class="t" style="left:1436px;top:898.8px;width:35px;height:14.7px;line-height:14.7px">04.03</div>
<div class="t" style="left:1471px;top:898.8px;width:34.8px;height:14.7px;line-height:14.7px">16</div>
<div class="t" style="left:1540.5px;top:898.8px;width:35px;height:14.7px;line-height:14.7px">04.04</div>
<div class="t" style="left:1575.5px;top:898.8px;width:35.5px;height:14.7px;line-height:14.7px">04.04</div>
<div class="tr" style="left:2145.8px;top:898.8px;width:35px;height:14.7px;line-height:14.7px">10</div>
<div class="t" style="left:659px;top:913.5px;width:36.3px;height:14.9px;line-height:14.9px">15</div>
<div class="t" style="left:764.5px;top:913.5px;width:35px;height:14.9px;line-height:14.9px">04.02</div>
<div class="t" style="left:799.5px;top:913.5px;width:35.5px;height:14.9px;line-height:14.9px">04.02</div>
<div class="t" style="left:835px;top:913.5px;width:34.5px;height:14.9px;line-height:14.9px">04.01</div>
<div class="t" style="left:869.5px;top:913.5px;width:35.2px;height:14.9px;line-height:14.9px">04.01</div>
<div class="t" style="left:1471px;top:913.5px;width:34.8px;height:14.9px;line-height:14.9px">16</div>
<div class="t" style="left:1646px;top:913.5px;width:34.3px;height:14.9px;line-height:14.9px">04.04</div>
<div class="t" style="left:1680.3px;top:913.5px;width:35.2px;height:14.9px;line-height:14.9px">04.04</div>
<div class="t" style="left:1785.6px;top:913.5px;width:34.8px;height:14.9px;line-height:14.9px">04.03</div>
<div class="t" style="left:1820.4px;top:913.5px;width:35.3px;height:14.9px;line-height:14.9px">04.03</div>
<div class="tr" style="left:2145.8px;top:913.5px;width:35px;height:14.9px;line-height:14.9px">10</div>
<div class="t" style="left:659px;top:943.1px;width:36.3px;height:14.7px;line-height:14.7px">10</div>
<div class="t" style="left:869.5px;top:943.1px;width:35.2px;height:14.7px;line-height:14.7px">01.01</div>
<div class="t" style="left:904.7px;top:943.1px;width:34.6px;height:14.7px;line-height:14.7px">01.01</div>
<div class="t" style="left:939.3px;top:943.1px;width:35.5px;height:14.7px;line-height:14.7px">02.01</div>
<div class="t" style="left:974.8px;top:943.1px;width:40.5px;height:14.7px;line-height:14.7px">02.01</div>
<div class="t" style="left:1190.4px;top:943.1px;width:35.3px;height:14.7px;line-height:14.7px">03.01</div>
<div class="t" style="left:1330.5px;top:943.1px;width:34.9px;height:14.7px;line-height:14.7px">03.01</div>
<div class="t" style="left:1365.4px;top:943.1px;width:34.8px;height:14.7px;line-height:14.7px">04.01</div>
<div class="t" style="left:1400.2px;top:943.1px;width:35.8px;height:14.7px;line-height:14.7px">04.01</div>
<div class="t" style="left:1471px;top:943.1px;width:34.8px;height:14.7px;line-height:14.7px">7</div>
<div class="t" style="left:1505.8px;top:943.1px;width:34.7px;height:14.7px;line-height:14.7px">05.01</div>
<div class="t" style="left:1540.5px;top:943.1px;width:35px;height:14.7px;line-height:14.7px">05.01</div>
<div class="t" style="left:1575.5px;top:943.1px;width:35.5px;height:14.7px;line-height:14.7px">05.01</div>
<div class="t" style="left:1611px;top:943.1px;width:35px;height:14.7px;line-height:14.7px">05.01</div>
<div class="t" style="left:1680.3px;top:943.1px;width:35.2px;height:14.7px;line-height:14.7px">4</div>
<div class="t" style="left:1855.7px;top:943.1px;width:34.8px;height:14.7px;line-height:14.7px">4</div>
<div class="t" style="left:1820.4px;top:943.1px;width:17.7px;height:14.7px;line-height:14.7px">1</div>
<div class="t" style="left:2005.6px;top:943.1px;width:35.4px;height:14.7px;line-height:14.7px">1</div>
<div class="tr" style="left:2145.8px;top:943.1px;width:35px;height:14.7px;line-height:14.7px">9</div>
<div class="t" style="left:659px;top:957.8px;width:36.3px;height:13.8px;line-height:13.8px">10</div>
<div class="t" style="left:695.3px;top:957.8px;width:34.2px;height:13.8px;line-height:13.8px">01.01</div>
<div class="t" style="left:729.5px;top:957.8px;width:35px;height:13.8px;line-height:13.8px">01.01</div>
<div class="t" style="left:764.5px;top:957.8px;width:35px;height:13.8px;line-height:13.8px">02.01</div>
<div class="t" style="left:799.5px;top:957.8px;width:35.5px;height:13.8px;line-height:13.8px">02.01</div>
<div class="t" style="left:1260.9px;top:957.8px;width:35.1px;height:13.8px;line-height:13.8px">03.01</div>
<div class="t" style="left:1330.5px;top:957.8px;width:34.9px;height:13.8px;line-height:13.8px">03.01</div>
<div class="t" style="left:1365.4px;top:957.8px;width:34.8px;height:13.8px;line-height:13.8px">04.01</div>
<div class="t" style="left:1400.2px;top:957.8px;width:35.8px;height:13.8px;line-height:13.8px">04.01</div>
<div class="t" style="left:1471px;top:957.8px;width:34.8px;height:13.8px;line-height:13.8px">7</div>
<div class="t" style="left:1505.8px;top:957.8px;width:34.7px;height:13.8px;line-height:13.8px">05.01</div>
<div class="t" style="left:1540.5px;top:957.8px;width:35px;height:13.8px;line-height:13.8px">05.01</div>
<div class="t" style="left:1575.5px;top:957.8px;width:35.5px;height:13.8px;line-height:13.8px">05.01</div>
<div class="t" style="left:1611px;top:957.8px;width:35px;height:13.8px;line-height:13.8px">05.01</div>
<div class="t" style="left:1680.3px;top:957.8px;width:35.2px;height:13.8px;line-height:13.8px">4</div>
<div class="t" style="left:1855.7px;top:957.8px;width:34.8px;height:13.8px;line-height:13.8px">4</div>
<div class="t" style="left:1820.4px;top:957.8px;width:17.7px;height:13.8px;line-height:13.8px">1</div>
<div class="t" style="left:2005.6px;top:957.8px;width:35.4px;height:13.8px;line-height:13.8px">1</div>
<div class="tr" style="left:2145.8px;top:957.8px;width:35px;height:13.8px;line-height:13.8px">9</div>
<div class="t" style="left:659px;top:971.6px;width:36.3px;height:14px;line-height:14px">15</div>
<div class="t" style="left:799.5px;top:971.6px;width:35.5px;height:14px;line-height:14px">01.02</div>
<div class="t" style="left:1225.7px;top:971.6px;width:35.2px;height:14px;line-height:14px">03.01</div>
<div class="t" style="left:1260.9px;top:971.6px;width:35.1px;height:14px;line-height:14px">01.03</div>
<div class="t" style="left:1471px;top:971.6px;width:34.8px;height:14px;line-height:14px">15</div>
<div class="t" style="left:1575.5px;top:971.6px;width:35.5px;height:14px;line-height:14px">04.01</div>
<div class="t" style="left:1855.7px;top:971.6px;width:34.8px;height:14px;line-height:14px">05.01</div>
<div class="t" style="left:1890.5px;top:971.6px;width:39.2px;height:14px;line-height:14px">05.01</div>
<div class="t" style="left:1929.7px;top:971.6px;width:34.9px;height:14px;line-height:14px">05.01</div>
<div class="t" style="left:1964.6px;top:971.6px;width:41px;height:14px;line-height:14px">05.01</div>
<div class="t" style="left:2005.6px;top:971.6px;width:35.4px;height:14px;line-height:14px">02.01</div>
<div class="t" style="left:2041px;top:971.6px;width:35px;height:14px;line-height:14px">02.01</div>
<div class="tr" style="left:2145.8px;top:971.6px;width:35px;height:14px;line-height:14px">9</div>
<div class="t" style="left:659px;top:985.6px;width:36.3px;height:14.6px;line-height:14.6px">11</div>
<div class="t" style="left:695.3px;top:985.6px;width:34.2px;height:14.6px;line-height:14.6px">01.01</div>
<div class="t" style="left:729.5px;top:985.6px;width:35px;height:14.6px;line-height:14.6px">01.01</div>
<div class="t" style="left:764.5px;top:985.6px;width:35px;height:14.6px;line-height:14.6px">01.01</div>
<div class="t" style="left:799.5px;top:985.6px;width:35.5px;height:14.6px;line-height:14.6px">02.01</div>
<div class="t" style="left:835px;top:985.6px;width:34.5px;height:14.6px;line-height:14.6px">02.01</div>
<div class="t" style="left:869.5px;top:985.6px;width:35.2px;height:14.6px;line-height:14.6px">02.01</div>
<div class="t" style="left:1330.5px;top:985.6px;width:34.9px;height:14.6px;line-height:14.6px">03.01</div>
<div class="t" style="left:1365.4px;top:985.6px;width:34.8px;height:14.6px;line-height:14.6px">03.01</div>
<div class="t" style="left:1400.2px;top:985.6px;width:35.8px;height:14.6px;line-height:14.6px">04.01</div>
<div class="t" style="left:1471px;top:985.6px;width:34.8px;height:14.6px;line-height:14.6px">9</div>
<div class="t" style="left:1680.3px;top:985.6px;width:35.2px;height:14.6px;line-height:14.6px">4</div>
<div class="t" style="left:1855.7px;top:985.6px;width:34.8px;height:14.6px;line-height:14.6px">4</div>
<div class="t" style="left:1820.4px;top:985.6px;width:17.7px;height:14.6px;line-height:14.6px">1</div>
<div class="t" style="left:2005.6px;top:985.6px;width:22px;height:14.6px;line-height:14.6px">1</div>
<div class="tr" style="left:2145.8px;top:985.6px;width:35px;height:14.6px;line-height:14.6px">9</div>
<div class="t" style="left:659px;top:1000.2px;width:36.3px;height:15.1px;line-height:15.1px">11</div>
<div class="t" style="left:695.3px;top:1000.2px;width:34.2px;height:15.1px;line-height:15.1px">01.01</div>
<div class="t" style="left:729.5px;top:1000.2px;width:35px;height:15.1px;line-height:15.1px">01.01</div>
<div class="t" style="left:764.5px;top:1000.2px;width:35px;height:15.1px;line-height:15.1px">02.01</div>
<div class="t" style="left:1330.5px;top:1000.2px;width:34.9px;height:15.1px;line-height:15.1px">02.01</div>
<div class="t" style="left:1365.4px;top:1000.2px;width:34.8px;height:15.1px;line-height:15.1px">02.01</div>
<div class="t" style="left:1400.2px;top:1000.2px;width:35.8px;height:15.1px;line-height:15.1px">03.01</div>
<div class="t" style="left:1471px;top:1000.2px;width:34.8px;height:15.1px;line-height:15.1px">10</div>
<div class="t" style="left:1680.3px;top:1000.2px;width:35.2px;height:15.1px;line-height:15.1px">4</div>
<div class="t" style="left:1855.7px;top:1000.2px;width:34.8px;height:15.1px;line-height:15.1px">4</div>
<div class="t" style="left:1820.4px;top:1000.2px;width:17.7px;height:15.1px;line-height:15.1px">1</div>
<div class="t" style="left:2005.6px;top:1000.2px;width:22px;height:15.1px;line-height:15.1px">1</div>
<div class="tr" style="left:2145.8px;top:1000.2px;width:35px;height:15.1px;line-height:15.1px">9</div>
<div class="t" style="left:659px;top:1015.3px;width:36.3px;height:14.7px;line-height:14.7px">15</div>
<div class="t" style="left:695.3px;top:1015.3px;width:34.2px;height:14.7px;line-height:14.7px">05.01</div>
<div class="t" style="left:729.5px;top:1015.3px;width:35px;height:14.7px;line-height:14.7px">05.01</div>
<div class="t" style="left:764.5px;top:1015.3px;width:35px;height:14.7px;line-height:14.7px">05.01</div>
<div class="t" style="left:799.5px;top:1015.3px;width:35.5px;height:14.7px;line-height:14.7px">05.01</div>
<div class="t" style="left:869.5px;top:1015.3px;width:35.2px;height:14.7px;line-height:14.7px">01.01</div>
<div class="t" style="left:904.7px;top:1015.3px;width:34.6px;height:14.7px;line-height:14.7px">01.01</div>
<div class="t" style="left:1471px;top:1015.3px;width:34.8px;height:14.7px;line-height:14.7px">14</div>
<div class="t" style="left:1890.5px;top:1015.3px;width:39.2px;height:14.7px;line-height:14.7px">03.01</div>
<div class="t" style="left:1929.7px;top:1015.3px;width:34.9px;height:14.7px;line-height:14.7px">03.01</div>
<div class="t" style="left:1964.6px;top:1015.3px;width:41px;height:14.7px;line-height:14.7px">03.01</div>
<div class="t" style="left:2005.6px;top:1015.3px;width:35.4px;height:14.7px;line-height:14.7px">02.01</div>
<div class="t" style="left:2041px;top:1015.3px;width:35px;height:14.7px;line-height:14.7px">02.01</div>
<div class="tr" style="left:2145.8px;top:1015.3px;width:35px;height:14.7px;line-height:14.7px">9</div>
<div class="t" style="left:659px;top:1030px;width:36.3px;height:15px;line-height:15px">16</div>
<div class="t" style="left:764.5px;top:1030px;width:35px;height:15px;line-height:15px">05.04</div>
<div class="t" style="left:1015.3px;top:1030px;width:35.3px;height:15px;line-height:15px">01.01</div>
<div class="t" style="left:1471px;top:1030px;width:34.8px;height:15px;line-height:15px">16</div>
<div class="t" style="left:1855.7px;top:1030px;width:34.8px;height:15px;line-height:15px">05.01</div>
<div class="t" style="left:1890.5px;top:1030px;width:39.2px;height:15px;line-height:15px">05.01</div>
<div class="t" style="left:1929.7px;top:1030px;width:34.9px;height:15px;line-height:15px">05.01</div>
<div class="t" style="left:1964.6px;top:1030px;width:41px;height:15px;line-height:15px">05.01</div>
<div class="t" style="left:2005.6px;top:1030px;width:35.4px;height:15px;line-height:15px">01.01</div>
<div class="t" style="left:2041px;top:1030px;width:35px;height:15px;line-height:15px">01.01</div>
<div class="tr" style="left:2145.8px;top:1030px;width:35px;height:15px;line-height:15px">9</div>
<div class="t" style="left:659px;top:1045px;width:36.3px;height:15.1px;line-height:15.1px">15</div>
<div class="t" style="left:939.3px;top:1045px;width:35.5px;height:15.1px;line-height:15.1px">01.02</div>
<div class="t" style="left:974.8px;top:1045px;width:40.5px;height:15.1px;line-height:15.1px">01.02</div>
<div class="t" style="left:1296px;top:1045px;width:34.5px;height:15.1px;line-height:15.1px">04.04</div>
<div class="t" style="left:1330.5px;top:1045px;width:34.9px;height:15.1px;line-height:15.1px">02.01</div>
<div class="t" style="left:1471px;top:1045px;width:34.8px;height:15.1px;line-height:15.1px">15</div>
<div class="t" style="left:1855.7px;top:1045px;width:34.8px;height:15.1px;line-height:15.1px">04.01</div>
<div class="t" style="left:1890.5px;top:1045px;width:39.2px;height:15.1px;line-height:15.1px">04.01</div>
<div class="t" style="left:1929.7px;top:1045px;width:34.9px;height:15.1px;line-height:15.1px">04.01</div>
<div class="t" style="left:1964.6px;top:1045px;width:41px;height:15.1px;line-height:15.1px">04.01</div>
<div class="t" style="left:2005.6px;top:1045px;width:35.4px;height:15.1px;line-height:15.1px">02.01</div>
<div class="t" style="left:2041px;top:1045px;width:35px;height:15.1px;line-height:15.1px">02.01</div>
<div class="tr" style="left:2145.8px;top:1045px;width:35px;height:15.1px;line-height:15.1px">9</div>
<div class="t" style="left:659px;top:1060.1px;width:36.3px;height:14px;line-height:14px">15</div>
<div class="t" style="left:869.5px;top:1060.1px;width:35.2px;height:14px;line-height:14px">01.02</div>
<div class="t" style="left:904.7px;top:1060.1px;width:34.6px;height:14px;line-height:14px">01.02</div>
<div class="t" style="left:1365.4px;top:1060.1px;width:34.8px;height:14px;line-height:14px">02.01</div>
<div class="t" style="left:1436px;top:1060.1px;width:35px;height:14px;line-height:14px">04.04</div>
<div class="t" style="left:1471px;top:1060.1px;width:34.8px;height:14px;line-height:14px">15</div>
<div class="t" style="left:1855.7px;top:1060.1px;width:34.8px;height:14px;line-height:14px">04.01</div>
<div class="t" style="left:1890.5px;top:1060.1px;width:39.2px;height:14px;line-height:14px">04.01</div>
<div class="t" style="left:1929.7px;top:1060.1px;width:34.9px;height:14px;line-height:14px">04.01</div>
<div class="t" style="left:1964.6px;top:1060.1px;width:41px;height:14px;line-height:14px">04.01</div>
<div class="t" style="left:2005.6px;top:1060.1px;width:35.4px;height:14px;line-height:14px">02.01</div>
<div class="t" style="left:2041px;top:1060.1px;width:35px;height:14px;line-height:14px">02.01</div>
<div class="tr" style="left:2145.8px;top:1060.1px;width:35px;height:14px;line-height:14px">9</div>
<div class="t" style="left:659px;top:1074.1px;width:36.3px;height:15.6px;line-height:15.6px">15</div>
<div class="t" style="left:695.3px;top:1074.1px;width:34.2px;height:15.6px;line-height:15.6px">01.02</div>
<div class="t" style="left:729.5px;top:1074.1px;width:35px;height:15.6px;line-height:15.6px">01.02</div>
<div class="t" style="left:1330.5px;top:1074.1px;width:34.9px;height:15.6px;line-height:15.6px">03.01</div>
<div class="t" style="left:1365.4px;top:1074.1px;width:34.8px;height:15.6px;line-height:15.6px">03.01</div>
<div class="t" style="left:1471px;top:1074.1px;width:34.8px;height:15.6px;line-height:15.6px">15</div>
<div class="t" style="left:1855.7px;top:1074.1px;width:34.8px;height:15.6px;line-height:15.6px">04.01</div>
<div class="t" style="left:1890.5px;top:1074.1px;width:39.2px;height:15.6px;line-height:15.6px">04.01</div>
<div class="t" style="left:1929.7px;top:1074.1px;width:34.9px;height:15.6px;line-height:15.6px">04.01</div>
<div class="t" style="left:1964.6px;top:1074.1px;width:41px;height:15.6px;line-height:15.6px">04.01</div>
<div class="t" style="left:2005.6px;top:1074.1px;width:35.4px;height:15.6px;line-height:15.6px">01.01</div>
<div class="t" style="left:2041px;top:1074.1px;width:35px;height:15.6px;line-height:15.6px">01.01</div>
<div class="tr" style="left:2145.8px;top:1074.1px;width:35px;height:15.6px;line-height:15.6px">9</div>
<div class="t" style="left:659px;top:1089.7px;width:36.3px;height:15px;line-height:15px">15</div>
<div class="t" style="left:799.5px;top:1089.7px;width:35.5px;height:15px;line-height:15px">04.03</div>
<div class="t" style="left:1471px;top:1089.7px;width:34.8px;height:15px;line-height:15px">15</div>
<div class="t" style="left:1611px;top:1089.7px;width:35px;height:15px;line-height:15px">01.03</div>
<div class="t" style="left:1646px;top:1089.7px;width:34.3px;height:15px;line-height:15px">01.03</div>
<div class="t" style="left:1680.3px;top:1089.7px;width:35.2px;height:15px;line-height:15px">02.01</div>
<div class="t" style="left:1855.7px;top:1089.7px;width:34.8px;height:15px;line-height:15px">04.01</div>
<div class="t" style="left:1890.5px;top:1089.7px;width:39.2px;height:15px;line-height:15px">04.01</div>
<div class="t" style="left:1929.7px;top:1089.7px;width:34.9px;height:15px;line-height:15px">04.01</div>
<div class="t" style="left:1964.6px;top:1089.7px;width:41px;height:15px;line-height:15px">04.01</div>
<div class="t" style="left:2005.6px;top:1089.7px;width:35.4px;height:15px;line-height:15px">02.01</div>
<div class="t" style="left:2041px;top:1089.7px;width:35px;height:15px;line-height:15px">02.01</div>
<div class="tr" style="left:2145.8px;top:1089.7px;width:35px;height:15px;line-height:15px">9</div>
<div class="t" style="left:659px;top:1104.7px;width:36.3px;height:15.1px;line-height:15.1px">14</div>
<div class="t" style="left:695.3px;top:1104.7px;width:34.2px;height:15.1px;line-height:15.1px">02.01</div>
<div class="t" style="left:729.5px;top:1104.7px;width:35px;height:15.1px;line-height:15.1px">02.01</div>
<div class="t" style="left:764.5px;top:1104.7px;width:35px;height:15.1px;line-height:15.1px">05.01</div>
<div class="t" style="left:799.5px;top:1104.7px;width:35.5px;height:15.1px;line-height:15.1px">05.01</div>
<div class="t" style="left:835px;top:1104.7px;width:34.5px;height:15.1px;line-height:15.1px">05.01</div>
<div class="t" style="left:904.7px;top:1104.7px;width:34.6px;height:15.1px;line-height:15.1px">04.01</div>
<div class="t" style="left:1225.7px;top:1104.7px;width:35.2px;height:15.1px;line-height:15.1px">01.02</div>
<div class="t" style="left:1260.9px;top:1104.7px;width:35.1px;height:15.1px;line-height:15.1px">01.02</div>
<div class="t" style="left:1471px;top:1104.7px;width:34.8px;height:15.1px;line-height:15.1px">14</div>
<div class="t" style="left:1575.5px;top:1104.7px;width:35.5px;height:15.1px;line-height:15.1px">03.01</div>
<div class="t" style="left:1964.6px;top:1104.7px;width:41px;height:15.1px;line-height:15.1px">01.01</div>
<div class="t" style="left:2005.6px;top:1104.7px;width:35.4px;height:15.1px;line-height:15.1px">01.01</div>
<div class="t" style="left:2041px;top:1104.7px;width:35px;height:15.1px;line-height:15.1px">01.01</div>
<div class="tr" style="left:2145.8px;top:1104.7px;width:35px;height:15.1px;line-height:15.1px">9</div>
<div class="t" style="left:659px;top:1119.8px;width:36.3px;height:15.1px;line-height:15.1px">16</div>
<div class="t" style="left:764.5px;top:1119.8px;width:35px;height:15.1px;line-height:15.1px">01.01</div>
<div class="t" style="left:799.5px;top:1119.8px;width:35.5px;height:15.1px;line-height:15.1px">01.01</div>
<div class="t" style="left:1471px;top:1119.8px;width:34.8px;height:15.1px;line-height:15.1px">16</div>
<div class="t" style="left:1505.8px;top:1119.8px;width:34.7px;height:15.1px;line-height:15.1px">03.01</div>
<div class="t" style="left:1575.5px;top:1119.8px;width:35.5px;height:15.1px;line-height:15.1px">02.01</div>
<div class="t" style="left:1929.7px;top:1119.8px;width:34.9px;height:15.1px;line-height:15.1px">04.01</div>
<div class="t" style="left:1964.6px;top:1119.8px;width:41px;height:15.1px;line-height:15.1px">04.01</div>
<div class="t" style="left:2005.6px;top:1119.8px;width:35.4px;height:15.1px;line-height:15.1px">04.01</div>
<div class="t" style="left:2041px;top:1119.8px;width:35px;height:15.1px;line-height:15.1px">04.01</div>
<div class="tr" style="left:2145.8px;top:1119.8px;width:35px;height:15.1px;line-height:15.1px">9</div>
<div class="t" style="left:659px;top:1134.9px;width:36.3px;height:15.1px;line-height:15.1px">16</div>
<div class="t" style="left:974.8px;top:1134.9px;width:40.5px;height:15.1px;line-height:15.1px">01.01</div>
<div class="t" style="left:1015.3px;top:1134.9px;width:35.3px;height:15.1px;line-height:15.1px">01.01</div>
<div class="t" style="left:1471px;top:1134.9px;width:34.8px;height:15.1px;line-height:15.1px">16</div>
<div class="t" style="left:1505.8px;top:1134.9px;width:34.7px;height:15.1px;line-height:15.1px">02.01</div>
<div class="t" style="left:1611px;top:1134.9px;width:35px;height:15.1px;line-height:15.1px">03.01</div>
<div class="t" style="left:1929.7px;top:1134.9px;width:34.9px;height:15.1px;line-height:15.1px">04.01</div>
<div class="t" style="left:1964.6px;top:1134.9px;width:41px;height:15.1px;line-height:15.1px">04.01</div>
<div class="t" style="left:2005.6px;top:1134.9px;width:35.4px;height:15.1px;line-height:15.1px">04.01</div>
<div class="t" style="left:2041px;top:1134.9px;width:35px;height:15.1px;line-height:15.1px">04.01</div>
<div class="tr" style="left:2145.8px;top:1134.9px;width:35px;height:15.1px;line-height:15.1px">9</div>
<div class="t" style="left:659px;top:1165.1px;width:36.3px;height:14.7px;line-height:14.7px">12</div>
<div class="t" style="left:1400.2px;top:1165.1px;width:35.8px;height:14.7px;line-height:14.7px">11</div>
<div class="t" style="left:1471px;top:1165.1px;width:34.8px;height:14.7px;line-height:14.7px">04.01</div>
<div class="t" style="left:1505.8px;top:1165.1px;width:34.7px;height:14.7px;line-height:14.7px">04.01</div>
<div class="t" style="left:1540.5px;top:1165.1px;width:35px;height:14.7px;line-height:14.7px">04.01</div>
<div class="t" style="left:1575.5px;top:1165.1px;width:35.5px;height:14.7px;line-height:14.7px">04.01</div>
<div class="t" style="left:1611px;top:1165.1px;width:35px;height:14.7px;line-height:14.7px">04.01</div>
<div class="t" style="left:1646px;top:1165.1px;width:34.3px;height:14.7px;line-height:14.7px">04.01</div>
<div class="t" style="left:1680.3px;top:1165.1px;width:35.2px;height:14.7px;line-height:14.7px">4</div>
<div class="t" style="left:1964.6px;top:1165.1px;width:41px;height:14.7px;line-height:14.7px">2</div>
<div class="t" style="left:1820.4px;top:1165.1px;width:17.7px;height:14.7px;line-height:14.7px">4</div>
<div class="t" style="left:659px;top:1179.8px;width:36.3px;height:14.2px;line-height:14.2px">12</div>
<div class="t" style="left:1400.2px;top:1179.8px;width:35.8px;height:14.2px;line-height:14.2px">11</div>
<div class="t" style="left:1471px;top:1179.8px;width:34.8px;height:14.2px;line-height:14.2px">02.01</div>
<div class="t" style="left:1505.8px;top:1179.8px;width:34.7px;height:14.2px;line-height:14.2px">02.01</div>
<div class="t" style="left:1540.5px;top:1179.8px;width:35px;height:14.2px;line-height:14.2px">02.01</div>
<div class="t" style="left:1575.5px;top:1179.8px;width:35.5px;height:14.2px;line-height:14.2px">02.01</div>
<div class="t" style="left:1611px;top:1179.8px;width:35px;height:14.2px;line-height:14.2px">02.01</div>
<div class="t" style="left:1646px;top:1179.8px;width:34.3px;height:14.2px;line-height:14.2px">02.01</div>
<div class="t" style="left:1680.3px;top:1179.8px;width:35.2px;height:14.2px;line-height:14.2px">4</div>
<div class="t" style="left:1964.6px;top:1179.8px;width:41px;height:14.2px;line-height:14.2px">2</div>
<div class="t" style="left:1838.1px;top:1179.8px;width:17.6px;height:14.2px;line-height:14.2px">4</div>
<div class="t" style="left:659px;top:1194px;width:36.3px;height:14px;line-height:14px">11</div>
<div class="t" style="left:695.3px;top:1194px;width:34.2px;height:14px;line-height:14px">05.01</div>
<div class="t" style="left:729.5px;top:1194px;width:35px;height:14px;line-height:14px">05.01</div>
<div class="t" style="left:764.5px;top:1194px;width:35px;height:14px;line-height:14px">05.01</div>
<div class="t" style="left:799.5px;top:1194px;width:35.5px;height:14px;line-height:14px">05.01</div>
<div class="t" style="left:835px;top:1194px;width:34.5px;height:14px;line-height:14px">05.01</div>
<div class="t" style="left:869.5px;top:1194px;width:35.2px;height:14px;line-height:14px">05.01</div>
<div class="t" style="left:1400.2px;top:1194px;width:35.8px;height:14px;line-height:14px">13</div>
<div class="t" style="left:1680.3px;top:1194px;width:35.2px;height:14px;line-height:14px">4</div>
<div class="t" style="left:1964.6px;top:1194px;width:41px;height:14px;line-height:14px">2</div>
<div class="t" style="left:1820.4px;top:1194px;width:35.3px;height:14px;line-height:14px">4</div>
<div class="t" style="left:659px;top:1208px;width:36.3px;height:14.7px;line-height:14.7px">12</div>
<div class="t" style="left:695.3px;top:1208px;width:34.2px;height:14.7px;line-height:14.7px">03.01</div>
<div class="t" style="left:729.5px;top:1208px;width:35px;height:14.7px;line-height:14.7px">03.01</div>
<div class="t" style="left:1400.2px;top:1208px;width:35.8px;height:14.7px;line-height:14.7px">11</div>
<div class="t" style="left:1540.5px;top:1208px;width:35px;height:14.7px;line-height:14.7px">01.01</div>
<div class="t" style="left:1575.5px;top:1208px;width:35.5px;height:14.7px;line-height:14.7px">01.01</div>
<div class="t" style="left:1611px;top:1208px;width:35px;height:14.7px;line-height:14.7px">01.01</div>
<div class="t" style="left:1646px;top:1208px;width:34.3px;height:14.7px;line-height:14.7px">01.01</div>
<div class="t" style="left:1680.3px;top:1208px;width:35.2px;height:14.7px;line-height:14.7px">4</div>
<div class="t" style="left:1964.6px;top:1208px;width:41px;height:14.7px;line-height:14.7px">2</div>
<div class="t" style="left:1820.4px;top:1208px;width:17.7px;height:14.7px;line-height:14.7px">4</div>
<div class="t" style="left:659px;top:1222.7px;width:36.3px;height:14.8px;line-height:14.8px">11</div>
<div class="t" style="left:695.3px;top:1222.7px;width:34.2px;height:14.8px;line-height:14.8px">02.01</div>
<div class="t" style="left:729.5px;top:1222.7px;width:35px;height:14.8px;line-height:14.8px">02.01</div>
<div class="t" style="left:764.5px;top:1222.7px;width:35px;height:14.8px;line-height:14.8px">02.01</div>
<div class="t" style="left:799.5px;top:1222.7px;width:35.5px;height:14.8px;line-height:14.8px">02.01</div>
<div class="t" style="left:835px;top:1222.7px;width:34.5px;height:14.8px;line-height:14.8px">03.01</div>
<div class="t" style="left:869.5px;top:1222.7px;width:35.2px;height:14.8px;line-height:14.8px">03.01</div>
<div class="t" style="left:1050.6px;top:1222.7px;width:34.8px;height:14.8px;line-height:14.8px">04.01</div>
<div class="t" style="left:1085.4px;top:1222.7px;width:35.3px;height:14.8px;line-height:14.8px">04.01</div>
<div class="t" style="left:1400.2px;top:1222.7px;width:35.8px;height:14.8px;line-height:14.8px">10</div>
<div class="t" style="left:1680.3px;top:1222.7px;width:35.2px;height:14.8px;line-height:14.8px">4</div>
<div class="t" style="left:1964.6px;top:1222.7px;width:41px;height:14.8px;line-height:14.8px">2</div>
<div class="t" style="left:659px;top:1237.5px;width:36.3px;height:14.9px;line-height:14.9px">12</div>
<div class="t" style="left:1400.2px;top:1237.5px;width:35.8px;height:14.9px;line-height:14.9px">11</div>
<div class="t" style="left:1471px;top:1237.5px;width:34.8px;height:14.9px;line-height:14.9px">03.01</div>
<div class="t" style="left:1505.8px;top:1237.5px;width:34.7px;height:14.9px;line-height:14.9px">03.01</div>
<div class="t" style="left:1540.5px;top:1237.5px;width:35px;height:14.9px;line-height:14.9px">03.01</div>
<div class="t" style="left:1575.5px;top:1237.5px;width:35.5px;height:14.9px;line-height:14.9px">03.01</div>
<div class="t" style="left:1611px;top:1237.5px;width:35px;height:14.9px;line-height:14.9px">03.01</div>
<div class="t" style="left:1646px;top:1237.5px;width:34.3px;height:14.9px;line-height:14.9px">03.01</div>
<div class="t" style="left:1680.3px;top:1237.5px;width:35.2px;height:14.9px;line-height:14.9px">4</div>
<div class="t" style="left:1964.6px;top:1237.5px;width:41px;height:14.9px;line-height:14.9px">2</div>
<div class="t" style="left:1838.1px;top:1237.5px;width:17.6px;height:14.9px;line-height:14.9px">4</div>
<div class="t" style="left:659px;top:1252.4px;width:36.3px;height:14.4px;line-height:14.4px">12</div>
<div class="t" style="left:1400.2px;top:1252.4px;width:35.8px;height:14.4px;line-height:14.4px">11</div>
<div class="t" style="left:1471px;top:1252.4px;width:34.8px;height:14.4px;line-height:14.4px">03.01</div>
<div class="t" style="left:1505.8px;top:1252.4px;width:34.7px;height:14.4px;line-height:14.4px">03.01</div>
<div class="t" style="left:1540.5px;top:1252.4px;width:35px;height:14.4px;line-height:14.4px">03.01</div>
<div class="t" style="left:1575.5px;top:1252.4px;width:35.5px;height:14.4px;line-height:14.4px">03.01</div>
<div class="t" style="left:1611px;top:1252.4px;width:35px;height:14.4px;line-height:14.4px">03.01</div>
<div class="t" style="left:1646px;top:1252.4px;width:34.3px;height:14.4px;line-height:14.4px">03.01</div>
<div class="t" style="left:1680.3px;top:1252.4px;width:35.2px;height:14.4px;line-height:14.4px">4</div>
<div class="t" style="left:1964.6px;top:1252.4px;width:41px;height:14.4px;line-height:14.4px">2</div>
<div class="t" style="left:1820.4px;top:1252.4px;width:17.7px;height:14.4px;line-height:14.4px">4</div>
<div class="t" style="left:659px;top:1266.8px;width:36.3px;height:14.7px;line-height:14.7px">12</div>
<div class="t" style="left:1400.2px;top:1266.8px;width:35.8px;height:14.7px;line-height:14.7px">11</div>
<div class="t" style="left:1471px;top:1266.8px;width:34.8px;height:14.7px;line-height:14.7px">02.01</div>
<div class="t" style="left:1505.8px;top:1266.8px;width:34.7px;height:14.7px;line-height:14.7px">02.01</div>
<div class="t" style="left:1540.5px;top:1266.8px;width:35px;height:14.7px;line-height:14.7px">02.01</div>
<div class="t" style="left:1575.5px;top:1266.8px;width:35.5px;height:14.7px;line-height:14.7px">02.01</div>
<div class="t" style="left:1611px;top:1266.8px;width:35px;height:14.7px;line-height:14.7px">02.01</div>
<div class="t" style="left:1646px;top:1266.8px;width:34.3px;height:14.7px;line-height:14.7px">02.01</div>
<div class="t" style="left:1680.3px;top:1266.8px;width:35.2px;height:14.7px;line-height:14.7px">4</div>
<div class="t" style="left:1964.6px;top:1266.8px;width:41px;height:14.7px;line-height:14.7px">2</div>
<div class="t" style="left:1838.1px;top:1266.8px;width:17.6px;height:14.7px;line-height:14.7px">4</div>
<div class="t" style="left:659px;top:1281.5px;width:36.3px;height:15.1px;line-height:15.1px">12</div>
<div class="t" style="left:1400.2px;top:1281.5px;width:35.8px;height:15.1px;line-height:15.1px">11</div>
<div class="t" style="left:1471px;top:1281.5px;width:34.8px;height:15.1px;line-height:15.1px">03.01</div>
<div class="t" style="left:1505.8px;top:1281.5px;width:34.7px;height:15.1px;line-height:15.1px">03.01</div>
<div class="t" style="left:1540.5px;top:1281.5px;width:35px;height:15.1px;line-height:15.1px">03.01</div>
<div class="t" style="left:1575.5px;top:1281.5px;width:35.5px;height:15.1px;line-height:15.1px">03.01</div>
<div class="t" style="left:1611px;top:1281.5px;width:35px;height:15.1px;line-height:15.1px">03.01</div>
<div class="t" style="left:1646px;top:1281.5px;width:34.3px;height:15.1px;line-height:15.1px">03.01</div>
<div class="t" style="left:1680.3px;top:1281.5px;width:35.2px;height:15.1px;line-height:15.1px">4</div>
<div class="t" style="left:1964.6px;top:1281.5px;width:41px;height:15.1px;line-height:15.1px">2</div>
<div class="t" style="left:1820.4px;top:1281.5px;width:35.3px;height:15.1px;line-height:15.1px">4</div>
<div class="t" style="left:659px;top:1296.6px;width:36.3px;height:15px;line-height:15px">11</div>
<div class="t" style="left:695.3px;top:1296.6px;width:34.2px;height:15px;line-height:15px">03.01</div>
<div class="t" style="left:729.5px;top:1296.6px;width:35px;height:15px;line-height:15px">03.01</div>
<div class="t" style="left:1400.2px;top:1296.6px;width:35.8px;height:15px;line-height:15px">10</div>
<div class="t" style="left:1471px;top:1296.6px;width:34.8px;height:15px;line-height:15px">01.01</div>
<div class="t" style="left:1505.8px;top:1296.6px;width:34.7px;height:15px;line-height:15px">01.01</div>
<div class="t" style="left:1540.5px;top:1296.6px;width:35px;height:15px;line-height:15px">01.01</div>
<div class="t" style="left:1575.5px;top:1296.6px;width:35.5px;height:15px;line-height:15px">01.01</div>
<div class="t" style="left:1611px;top:1296.6px;width:35px;height:15px;line-height:15px">02.01</div>
<div class="t" style="left:1646px;top:1296.6px;width:34.3px;height:15px;line-height:15px">02.01</div>
<div class="t" style="left:1680.3px;top:1296.6px;width:35.2px;height:15px;line-height:15px">4</div>
<div class="t" style="left:1964.6px;top:1296.6px;width:41px;height:15px;line-height:15px">2</div>
<div class="t" style="left:1820.4px;top:1296.6px;width:35.3px;height:15px;line-height:15px">4</div>
<div class="t" style="left:659px;top:1311.6px;width:36.3px;height:15.1px;line-height:15.1px">11</div>
<div class="t" style="left:695.3px;top:1311.6px;width:34.2px;height:15.1px;line-height:15.1px">03.01</div>
<div class="t" style="left:729.5px;top:1311.6px;width:35px;height:15.1px;line-height:15.1px">03.01</div>
<div class="t" style="left:1400.2px;top:1311.6px;width:35.8px;height:15.1px;line-height:15.1px">10</div>
<div class="t" style="left:1471px;top:1311.6px;width:34.8px;height:15.1px;line-height:15.1px">01.01</div>
<div class="t" style="left:1505.8px;top:1311.6px;width:34.7px;height:15.1px;line-height:15.1px">01.01</div>
<div class="t" style="left:1540.5px;top:1311.6px;width:35px;height:15.1px;line-height:15.1px">01.01</div>
<div class="t" style="left:1575.5px;top:1311.6px;width:35.5px;height:15.1px;line-height:15.1px">01.01</div>
<div class="t" style="left:1611px;top:1311.6px;width:35px;height:15.1px;line-height:15.1px">02.01</div>
<div class="t" style="left:1646px;top:1311.6px;width:34.3px;height:15.1px;line-height:15.1px">02.01</div>
<div class="t" style="left:1680.3px;top:1311.6px;width:35.2px;height:15.1px;line-height:15.1px">4</div>
<div class="t" style="left:1964.6px;top:1311.6px;width:41px;height:15.1px;line-height:15.1px">2</div>
<div class="t" style="left:659px;top:1326.7px;width:36.3px;height:14.7px;line-height:14.7px">11</div>
<div class="t" style="left:695.3px;top:1326.7px;width:34.2px;height:14.7px;line-height:14.7px">03.01</div>
<div class="t" style="left:729.5px;top:1326.7px;width:35px;height:14.7px;line-height:14.7px">03.01</div>
<div class="t" style="left:1400.2px;top:1326.7px;width:35.8px;height:14.7px;line-height:14.7px">10</div>
<div class="t" style="left:1471px;top:1326.7px;width:34.8px;height:14.7px;line-height:14.7px">01.01</div>
<div class="t" style="left:1505.8px;top:1326.7px;width:34.7px;height:14.7px;line-height:14.7px">01.01</div>
<div class="t" style="left:1540.5px;top:1326.7px;width:35px;height:14.7px;line-height:14.7px">01.01</div>
<div class="t" style="left:1575.5px;top:1326.7px;width:35.5px;height:14.7px;line-height:14.7px">01.01</div>
<div class="t" style="left:1611px;top:1326.7px;width:35px;height:14.7px;line-height:14.7px">02.01</div>
<div class="t" style="left:1646px;top:1326.7px;width:34.3px;height:14.7px;line-height:14.7px">02.01</div>
<div class="t" style="left:1680.3px;top:1326.7px;width:35.2px;height:14.7px;line-height:14.7px">4</div>
<div class="t" style="left:1964.6px;top:1326.7px;width:41px;height:14.7px;line-height:14.7px">2</div>
<div class="t" style="left:1838.1px;top:1326.7px;width:17.6px;height:14.7px;line-height:14.7px">4</div>
<div class="gn" style="left:463px;top:405.3px;width:56.3px;height:14.4px;line-height:14.4px">1-1</div>
<div class="gn" style="left:463px;top:419.7px;width:56.3px;height:14.9px;line-height:14.9px">1-2</div>
<div class="gn" style="left:463px;top:434.6px;width:56.3px;height:14.8px;line-height:14.8px">1-1К</div>
<div class="gn" style="left:463px;top:449.4px;width:56.3px;height:15.1px;line-height:15.1px">1-3</div>
<div class="gn" style="left:463px;top:464.5px;width:56.3px;height:15.1px;line-height:15.1px">1-4</div>
<div class="gn" style="left:463px;top:479.6px;width:56.3px;height:15.1px;line-height:15.1px">1-5</div>
<div class="gn" style="left:463px;top:494.7px;width:56.3px;height:15.3px;line-height:15.3px">1-6</div>
<div class="gn" style="left:463px;top:510px;width:56.3px;height:15px;line-height:15px">1-7</div>
<div class="gn" style="left:463px;top:525px;width:56.3px;height:15px;line-height:15px">1-8</div>
<div class="gn" style="left:463px;top:540px;width:56.3px;height:15px;line-height:15px">1-11</div>
<div class="gn" style="left:463px;top:555px;width:56.3px;height:15px;line-height:15px">1-12</div>
<div class="gn" style="left:463px;top:570px;width:56.3px;height:15.2px;line-height:15.2px">1-13</div>
<div class="gn" style="left:463px;top:585.2px;width:56.3px;height:15.1px;line-height:15.1px">1-14</div>
<div class="gn" style="left:463px;top:600.3px;width:56.3px;height:15.1px;line-height:15.1px">1-14К</div>
<div class="gn" style="left:463px;top:615.4px;width:56.3px;height:14.9px;line-height:14.9px">1-15К</div>
<div class="gn" style="left:463px;top:630.3px;width:56.3px;height:14.9px;line-height:14.9px">1-16</div>
<div class="gn" style="left:463px;top:645.2px;width:56.3px;height:14.3px;line-height:14.3px">1-17</div>
<div class="gn" style="left:463px;top:674.6px;width:56.3px;height:15.3px;line-height:15.3px">2-1</div>
<div class="gn" style="left:463px;top:689.9px;width:56.3px;height:14.9px;line-height:14.9px">2-2</div>
<div class="gn" style="left:463px;top:704.8px;width:56.3px;height:15.3px;line-height:15.3px">2-1К</div>
<div class="gn" style="left:463px;top:720.1px;width:56.3px;height:14.9px;line-height:14.9px">2-3</div>
<div class="gn" style="left:463px;top:735px;width:56.3px;height:14.2px;line-height:14.2px">2-4</div>
<div class="gn" style="left:463px;top:749.2px;width:56.3px;height:15.1px;line-height:15.1px">2-5</div>
<div class="gn" style="left:463px;top:764.3px;width:56.3px;height:15.1px;line-height:15.1px">2-6</div>
<div class="gn" style="left:463px;top:779.4px;width:56.3px;height:15px;line-height:15px">2-8</div>
<div class="gn" style="left:463px;top:794.4px;width:56.3px;height:14.9px;line-height:14.9px">2-9</div>
<div class="gn" style="left:463px;top:809.3px;width:56.3px;height:13.6px;line-height:13.6px">2-10</div>
<div class="gn" style="left:463px;top:822.9px;width:56.3px;height:15.1px;line-height:15.1px">2-11</div>
<div class="gn" style="left:463px;top:838px;width:56.3px;height:15px;line-height:15px">2-12</div>
<div class="gn" style="left:463px;top:853px;width:56.3px;height:15.1px;line-height:15.1px">2-13К</div>
<div class="gn" style="left:463px;top:868.1px;width:56.3px;height:15.6px;line-height:15.6px">2-14</div>
<div class="gn" style="left:463px;top:883.7px;width:56.3px;height:15.1px;line-height:15.1px">2-15К</div>
<div class="gn" style="left:463px;top:898.8px;width:56.3px;height:14.7px;line-height:14.7px">2-16</div>
<div class="gn" style="left:463px;top:913.5px;width:56.3px;height:14.9px;line-height:14.9px">2-17</div>
<div class="gn" style="left:463px;top:943.1px;width:56.3px;height:14.7px;line-height:14.7px">3-1</div>
<div class="gn" style="left:463px;top:957.8px;width:56.3px;height:13.8px;line-height:13.8px">3-2</div>
<div class="gn" style="left:463px;top:971.6px;width:56.3px;height:14px;line-height:14px">3-1К</div>
<div class="gn" style="left:463px;top:985.6px;width:56.3px;height:14.6px;line-height:14.6px">3-3</div>
<div class="gn" style="left:463px;top:1000.2px;width:56.3px;height:15.1px;line-height:15.1px">3-4</div>
<div class="gn" style="left:463px;top:1015.3px;width:56.3px;height:14.7px;line-height:14.7px">3-5</div>
<div class="gn" style="left:463px;top:1030px;width:56.3px;height:15px;line-height:15px">3-6</div>
<div class="gn" style="left:463px;top:1045px;width:56.3px;height:15.1px;line-height:15.1px">3-8</div>
<div class="gn" style="left:463px;top:1060.1px;width:56.3px;height:14px;line-height:14px">3-9</div>
<div class="gn" style="left:463px;top:1074.1px;width:56.3px;height:15.6px;line-height:15.6px">3-10</div>
<div class="gn" style="left:463px;top:1089.7px;width:56.3px;height:15px;line-height:15px">3-11</div>
<div class="gn" style="left:463px;top:1104.7px;width:56.3px;height:15.1px;line-height:15.1px">3-14</div>
<div class="gn" style="left:463px;top:1119.8px;width:56.3px;height:15.1px;line-height:15.1px">3-16</div>
<div class="gn" style="left:463px;top:1134.9px;width:56.3px;height:15.1px;line-height:15.1px">3-17</div>
<div class="gn" style="left:463px;top:1165.1px;width:56.3px;height:14.7px;line-height:14.7px">4-1К</div>
<div class="gn" style="left:463px;top:1179.8px;width:56.3px;height:14.2px;line-height:14.2px">4-3</div>
<div class="gn" style="left:463px;top:1194px;width:56.3px;height:14px;line-height:14px">4-4</div>
<div class="gn" style="left:463px;top:1208px;width:56.3px;height:14.7px;line-height:14.7px">4-5</div>
<div class="gn" style="left:463px;top:1222.7px;width:56.3px;height:14.8px;line-height:14.8px">4-6</div>
<div class="gn" style="left:463px;top:1237.5px;width:56.3px;height:14.9px;line-height:14.9px">4-8</div>
<div class="gn" style="left:463px;top:1252.4px;width:56.3px;height:14.4px;line-height:14.4px">4-9</div>
<div class="gn" style="left:463px;top:1266.8px;width:56.3px;height:14.7px;line-height:14.7px">4-10</div>
<div class="gn" style="left:463px;top:1281.5px;width:56.3px;height:15.1px;line-height:15.1px">4-11</div>
<div class="gn" style="left:463px;top:1296.6px;width:56.3px;height:15px;line-height:15px">4-15К</div>
<div class="gn" style="left:463px;top:1311.6px;width:56.3px;height:15.1px;line-height:15.1px">4-16</div>
<div class="gn" style="left:463px;top:1326.7px;width:56.3px;height:14.7px;line-height:14.7px">4-17</div>
<div class="mb" style="left:519.3px;top:323.4px;width:176px;height:26.7px;line-height:38.7px">сентябрь</div>
<div class="m" style="left:695.3px;top:323.4px;width:139.7px;height:26.7px;line-height:39.7px">ОКТЯБРЬ</div>
<div class="m" style="left:835px;top:323.4px;width:139.8px;height:26.7px;line-height:39.7px">НОЯБРЬ</div>
<div class="m" style="left:974.8px;top:323.4px;width:181.2px;height:26.7px;line-height:39.7px">ДЕКАБРЬ</div>
<div class="m" style="left:1156px;top:323.4px;width:140px;height:26.7px;line-height:39.7px">ЯНВАРЬ</div>
<div class="m" style="left:1296px;top:323.4px;width:140px;height:26.7px;line-height:39.7px">ФЕВРАЛЬ</div>
<div class="m" style="left:1436px;top:323.4px;width:175px;height:26.7px;line-height:39.7px">МАРТ</div>
<div class="m" style="left:1611px;top:323.4px;width:139.6px;height:26.7px;line-height:39.7px">АПРЕЛЬ</div>
<div class="m" style="left:1750.6px;top:323.4px;width:139.9px;height:26.7px;line-height:39.7px">МАЙ</div>
<div class="m" style="left:1890.5px;top:323.4px;width:185.5px;height:26.7px;line-height:39.7px">ИЮНЬ</div>
<div class="m" style="left:2076px;top:323.4px;width:140px;height:26.7px;line-height:39.7px">ИЮЛЬ</div>
<div class="m" style="left:2216px;top:323.4px;width:170.8px;height:26.7px;line-height:39.7px">АВГУСТ</div>
<div style="left:519.3px;top:350.1px;width:35.3px;height:40.7px;overflow:hidden"><div class="d" style="left:-4.7px;top:9.7px;width:44px;height:20px;line-height:20px">1-6</div></div>
<div class="n" style="left:519.3px;top:390.8px;width:35.3px;height:14.5px;line-height:15.5px">1</div>
<div style="left:554.6px;top:350.1px;width:34.7px;height:40.7px;overflow:hidden"><div class="d" style="left:-5px;top:9.7px;width:44px;height:20px;line-height:20px">8-13</div></div>
<div class="n" style="left:554.6px;top:390.8px;width:34.7px;height:14.5px;line-height:15.5px">2</div>
<div style="left:589.3px;top:350.1px;width:34.7px;height:40.7px;overflow:hidden"><div class="d" style="left:-5px;top:6.2px;width:44px;height:20px;line-height:20px">15-20</div></div>
<div class="n" style="left:589.3px;top:390.8px;width:34.7px;height:14.5px;line-height:15.5px">3</div>
<div style="left:624px;top:350.1px;width:35px;height:40.7px;overflow:hidden"><div class="d" style="left:-4.9px;top:6.2px;width:44px;height:20px;line-height:20px">22-27</div></div>
<div class="n" style="left:624px;top:390.8px;width:35px;height:14.5px;line-height:15.5px">4</div>
<div style="left:659px;top:350.1px;width:36.3px;height:40.7px;overflow:hidden"><div class="d" style="left:-4.3px;top:9.7px;width:44px;height:20px;line-height:20px">29-4</div></div>
<div class="n" style="left:659px;top:390.8px;width:36.3px;height:14.5px;line-height:15.5px">5</div>
<div style="left:695.3px;top:350.1px;width:34.2px;height:40.7px;overflow:hidden"><div class="d" style="left:-5.3px;top:9.7px;width:44px;height:20px;line-height:20px">6-11</div></div>
<div class="n" style="left:695.3px;top:390.8px;width:34.2px;height:14.5px;line-height:15.5px">6</div>
<div style="left:729.5px;top:350.1px;width:35px;height:40.7px;overflow:hidden"><div class="d" style="left:-4.9px;top:6.2px;width:44px;height:20px;line-height:20px">13-18</div></div>
<div class="n" style="left:729.5px;top:390.8px;width:35px;height:14.5px;line-height:15.5px">7</div>
<div style="left:764.5px;top:350.1px;width:35px;height:40.7px;overflow:hidden"><div class="d" style="left:-4.9px;top:6.2px;width:44px;height:20px;line-height:20px">20-25</div></div>
<div class="n" style="left:764.5px;top:390.8px;width:35px;height:14.5px;line-height:15.5px">8</div>
<div style="left:799.5px;top:350.1px;width:35.5px;height:40.7px;overflow:hidden"><div class="d" style="left:-4.7px;top:9.7px;width:44px;height:20px;line-height:20px">27-1</div></div>
<div class="n" style="left:799.5px;top:390.8px;width:35.5px;height:14.5px;line-height:15.5px">9</div>
<div style="left:835px;top:350.1px;width:34.5px;height:40.7px;overflow:hidden"><div class="d" style="left:-5.2px;top:9.7px;width:44px;height:20px;line-height:20px">3-8</div></div>
<div class="n" style="left:835px;top:390.8px;width:34.5px;height:14.5px;line-height:15.5px">10</div>
<div style="left:869.5px;top:350.1px;width:35.2px;height:40.7px;overflow:hidden"><div class="d" style="left:-4.8px;top:6.2px;width:44px;height:20px;line-height:20px">10-15</div></div>
<div class="n" style="left:869.5px;top:390.8px;width:35.2px;height:14.5px;line-height:15.5px">11</div>
<div style="left:904.7px;top:350.1px;width:34.6px;height:40.7px;overflow:hidden"><div class="d" style="left:-5.1px;top:6.2px;width:44px;height:20px;line-height:20px">17-22</div></div>
<div class="n" style="left:904.7px;top:390.8px;width:34.6px;height:14.5px;line-height:15.5px">12</div>
<div style="left:939.3px;top:350.1px;width:35.5px;height:40.7px;overflow:hidden"><div class="d" style="left:-4.7px;top:6.2px;width:44px;height:20px;line-height:20px">24-29</div></div>
<div class="n" style="left:939.3px;top:390.8px;width:35.5px;height:14.5px;line-height:15.5px">13</div>
<div style="left:974.8px;top:350.1px;width:40.5px;height:40.7px;overflow:hidden"><div class="d" style="left:-2.1px;top:9.7px;width:44px;height:20px;line-height:20px">1-6</div></div>
<div class="n" style="left:974.8px;top:390.8px;width:40.5px;height:14.5px;line-height:15.5px">14</div>
<div style="left:1015.3px;top:350.1px;width:35.3px;height:40.7px;overflow:hidden"><div class="d" style="left:-4.8px;top:9.7px;width:44px;height:20px;line-height:20px">8-13</div></div>
<div class="n" style="left:1015.3px;top:390.8px;width:35.3px;height:14.5px;line-height:15.5px">15</div>
<div style="left:1050.6px;top:350.1px;width:34.8px;height:40.7px;overflow:hidden"><div class="d" style="left:-5px;top:6.2px;width:44px;height:20px;line-height:20px">15-20</div></div>
<div class="n" style="left:1050.6px;top:390.8px;width:34.8px;height:14.5px;line-height:15.5px">16</div>
<div style="left:1085.4px;top:350.1px;width:35.3px;height:40.7px;overflow:hidden"><div class="d" style="left:-4.7px;top:6.2px;width:44px;height:20px;line-height:20px">22-27</div></div>
<div class="n" style="left:1085.4px;top:390.8px;width:35.3px;height:14.5px;line-height:15.5px">17</div>
<div style="left:1120.7px;top:350.1px;width:35.3px;height:40.7px;overflow:hidden"><div class="d" style="left:-4.8px;top:9.7px;width:44px;height:20px;line-height:20px">29-3</div></div>
<div class="n" style="left:1120.7px;top:390.8px;width:35.3px;height:14.5px;line-height:15.5px">18</div>
<div style="left:1156px;top:350.1px;width:34.4px;height:40.7px;overflow:hidden"><div class="d" style="left:-5.2px;top:9.7px;width:44px;height:20px;line-height:20px">5-10</div></div>
<div class="n" style="left:1156px;top:390.8px;width:34.4px;height:14.5px;line-height:15.5px">19</div>
<div style="left:1190.4px;top:350.1px;width:35.3px;height:40.7px;overflow:hidden"><div class="d" style="left:-4.7px;top:6.2px;width:44px;height:20px;line-height:20px">12-17</div></div>
<div class="n" style="left:1190.4px;top:390.8px;width:35.3px;height:14.5px;line-height:15.5px">20</div>
<div style="left:1225.7px;top:350.1px;width:35.2px;height:40.7px;overflow:hidden"><div class="d" style="left:-4.8px;top:6.2px;width:44px;height:20px;line-height:20px">19-24</div></div>
<div class="n" style="left:1225.7px;top:390.8px;width:35.2px;height:14.5px;line-height:15.5px">21</div>
<div style="left:1260.9px;top:350.1px;width:35.1px;height:40.7px;overflow:hidden"><div class="d" style="left:-4.9px;top:6.2px;width:44px;height:20px;line-height:20px">26-31</div></div>
<div class="n" style="left:1260.9px;top:390.8px;width:35.1px;height:14.5px;line-height:15.5px">22</div>
<div style="left:1296px;top:350.1px;width:34.5px;height:40.7px;overflow:hidden"><div class="d" style="left:-5.2px;top:9.7px;width:44px;height:20px;line-height:20px">2-7</div></div>
<div class="n" style="left:1296px;top:390.8px;width:34.5px;height:14.5px;line-height:15.5px">23</div>
<div style="left:1330.5px;top:350.1px;width:34.9px;height:40.7px;overflow:hidden"><div class="d" style="left:-4.9px;top:9.7px;width:44px;height:20px;line-height:20px">9-14</div></div>
<div class="n" style="left:1330.5px;top:390.8px;width:34.9px;height:14.5px;line-height:15.5px">24</div>
<div style="left:1365.4px;top:350.1px;width:34.8px;height:40.7px;overflow:hidden"><div class="d" style="left:-5px;top:6.2px;width:44px;height:20px;line-height:20px">16-21</div></div>
<div class="n" style="left:1365.4px;top:390.8px;width:34.8px;height:14.5px;line-height:15.5px">25</div>
<div style="left:1400.2px;top:350.1px;width:35.8px;height:40.7px;overflow:hidden"><div class="d" style="left:-4.5px;top:6.2px;width:44px;height:20px;line-height:20px">23-28</div></div>
<div class="n" style="left:1400.2px;top:390.8px;width:35.8px;height:14.5px;line-height:15.5px">26</div>
<div style="left:1436px;top:350.1px;width:35px;height:40.7px;overflow:hidden"><div class="d" style="left:-4.9px;top:9.7px;width:44px;height:20px;line-height:20px">2-7</div></div>
<div class="n" style="left:1436px;top:390.8px;width:35px;height:14.5px;line-height:15.5px">27</div>
<div style="left:1471px;top:350.1px;width:34.8px;height:40.7px;overflow:hidden"><div class="d" style="left:-5px;top:9.7px;width:44px;height:20px;line-height:20px">9-14</div></div>
<div class="n" style="left:1471px;top:390.8px;width:34.8px;height:14.5px;line-height:15.5px">28</div>
<div style="left:1505.8px;top:350.1px;width:34.7px;height:40.7px;overflow:hidden"><div class="d" style="left:-5px;top:6.2px;width:44px;height:20px;line-height:20px">16-21</div></div>
<div class="n" style="left:1505.8px;top:390.8px;width:34.7px;height:14.5px;line-height:15.5px">29</div>
<div style="left:1540.5px;top:350.1px;width:35px;height:40.7px;overflow:hidden"><div class="d" style="left:-4.9px;top:6.2px;width:44px;height:20px;line-height:20px">23-28</div></div>
<div class="n" style="left:1540.5px;top:390.8px;width:35px;height:14.5px;line-height:15.5px">30</div>
<div style="left:1575.5px;top:350.1px;width:35.5px;height:40.7px;overflow:hidden"><div class="d" style="left:-4.7px;top:9.7px;width:44px;height:20px;line-height:20px">30-4</div></div>
<div class="n" style="left:1575.5px;top:390.8px;width:35.5px;height:14.5px;line-height:15.5px">31</div>
<div style="left:1611px;top:350.1px;width:35px;height:40.7px;overflow:hidden"><div class="d" style="left:-4.9px;top:9.7px;width:44px;height:20px;line-height:20px">6-11</div></div>
<div class="n" style="left:1611px;top:390.8px;width:35px;height:14.5px;line-height:15.5px">32</div>
<div style="left:1646px;top:350.1px;width:34.3px;height:40.7px;overflow:hidden"><div class="d" style="left:-5.2px;top:6.2px;width:44px;height:20px;line-height:20px">13-18</div></div>
<div class="n" style="left:1646px;top:390.8px;width:34.3px;height:14.5px;line-height:15.5px">33</div>
<div style="left:1680.3px;top:350.1px;width:35.2px;height:40.7px;overflow:hidden"><div class="d" style="left:-4.8px;top:6.2px;width:44px;height:20px;line-height:20px">20-25</div></div>
<div class="n" style="left:1680.3px;top:390.8px;width:35.2px;height:14.5px;line-height:15.5px">34</div>
<div style="left:1715.5px;top:350.1px;width:35.1px;height:40.7px;overflow:hidden"><div class="d" style="left:-4.9px;top:9.7px;width:44px;height:20px;line-height:20px">27-2</div></div>
<div class="n" style="left:1715.5px;top:390.8px;width:35.1px;height:14.5px;line-height:15.5px">35</div>
<div style="left:1750.6px;top:350.1px;width:35px;height:40.7px;overflow:hidden"><div class="d" style="left:-4.9px;top:9.7px;width:44px;height:20px;line-height:20px">4-9</div></div>
<div class="n" style="left:1750.6px;top:390.8px;width:35px;height:14.5px;line-height:15.5px">36</div>
<div style="left:1785.6px;top:350.1px;width:34.8px;height:40.7px;overflow:hidden"><div class="d" style="left:-5px;top:6.7px;width:44px;height:20px;line-height:20px">11-16</div></div>
<div class="n" style="left:1785.6px;top:390.8px;width:34.8px;height:14.5px;line-height:15.5px">37</div>
<div style="left:1820.4px;top:350.1px;width:35.3px;height:40.7px;overflow:hidden"><div class="d" style="left:-4.7px;top:6.2px;width:44px;height:20px;line-height:20px">18-23</div></div>
<div class="n" style="left:1820.4px;top:390.8px;width:35.3px;height:14.5px;line-height:15.5px">38</div>
<div style="left:1855.7px;top:350.1px;width:34.8px;height:40.7px;overflow:hidden"><div class="d" style="left:-5px;top:6.2px;width:44px;height:20px;line-height:20px">25-30</div></div>
<div class="n" style="left:1855.7px;top:390.8px;width:34.8px;height:14.5px;line-height:15.5px">39</div>
<div style="left:1890.5px;top:350.1px;width:39.2px;height:40.7px;overflow:hidden"><div class="d" style="left:-2.8px;top:9.7px;width:44px;height:20px;line-height:20px">1-6</div></div>
<div class="n" style="left:1890.5px;top:390.8px;width:39.2px;height:14.5px;line-height:15.5px">40</div>
<div style="left:1929.7px;top:350.1px;width:34.9px;height:40.7px;overflow:hidden"><div class="d" style="left:-4.9px;top:9.7px;width:44px;height:20px;line-height:20px">8-13</div></div>
<div class="n" style="left:1929.7px;top:390.8px;width:34.9px;height:14.5px;line-height:15.5px">41</div>
<div style="left:1964.6px;top:350.1px;width:41px;height:40.7px;overflow:hidden"><div class="d" style="left:-1.9px;top:6.2px;width:44px;height:20px;line-height:20px">15-20</div></div>
<div class="n" style="left:1964.6px;top:390.8px;width:41px;height:14.5px;line-height:15.5px">42</div>
<div style="left:2005.6px;top:350.1px;width:35.4px;height:40.7px;overflow:hidden"><div class="d" style="left:-4.7px;top:6.2px;width:44px;height:20px;line-height:20px">22-27</div></div>
<div class="n" style="left:2005.6px;top:390.8px;width:35.4px;height:14.5px;line-height:15.5px">43</div>
<div style="left:2041px;top:350.1px;width:35px;height:40.7px;overflow:hidden"><div class="d" style="left:-4.9px;top:9.7px;width:44px;height:20px;line-height:20px">29-4</div></div>
<div class="n" style="left:2041px;top:390.8px;width:35px;height:14.5px;line-height:15.5px">44</div>
<div style="left:2076px;top:350.1px;width:34.8px;height:40.7px;overflow:hidden"><div class="d" style="left:-5px;top:9.7px;width:44px;height:20px;line-height:20px">6-11</div></div>
<div class="n" style="left:2076px;top:390.8px;width:34.8px;height:14.5px;line-height:15.5px">45</div>
<div style="left:2110.8px;top:350.1px;width:35px;height:40.7px;overflow:hidden"><div class="d" style="left:-4.9px;top:6.2px;width:44px;height:20px;line-height:20px">13-18</div></div>
<div class="n" style="left:2110.8px;top:390.8px;width:35px;height:14.5px;line-height:15.5px">46</div>
<div style="left:2145.8px;top:350.1px;width:35px;height:40.7px;overflow:hidden"><div class="d" style="left:-4.9px;top:6.2px;width:44px;height:20px;line-height:20px">20-25</div></div>
<div class="n" style="left:2145.8px;top:390.8px;width:35px;height:14.5px;line-height:15.5px">47</div>
<div style="left:2180.8px;top:350.1px;width:35.2px;height:40.7px;overflow:hidden"><div class="d" style="left:-4.8px;top:9.7px;width:44px;height:20px;line-height:20px">27-1</div></div>
<div class="n" style="left:2180.8px;top:390.8px;width:35.2px;height:14.5px;line-height:15.5px">48</div>
<div style="left:2216px;top:350.1px;width:35.1px;height:40.7px;overflow:hidden"><div class="d" style="left:-4.8px;top:9.7px;width:44px;height:20px;line-height:20px">3-8</div></div>
<div class="n" style="left:2216px;top:390.8px;width:35.1px;height:14.5px;line-height:15.5px">49</div>
<div style="left:2251.1px;top:350.1px;width:34.9px;height:40.7px;overflow:hidden"><div class="d" style="left:-4.9px;top:6.2px;width:44px;height:20px;line-height:20px">10-15</div></div>
<div class="n" style="left:2251.1px;top:390.8px;width:34.9px;height:14.5px;line-height:15.5px">50</div>
<div style="left:2286px;top:350.1px;width:34.8px;height:40.7px;overflow:hidden"><div class="d" style="left:-5px;top:6.2px;width:44px;height:20px;line-height:20px">17-22</div></div>
<div class="n" style="left:2286px;top:390.8px;width:34.8px;height:14.5px;line-height:15.5px">51</div>
<div style="left:2320.8px;top:350.1px;width:35.3px;height:40.7px;overflow:hidden"><div class="d" style="left:-4.8px;top:6.2px;width:44px;height:20px;line-height:20px">24-29</div></div>
<div class="n" style="left:2320.8px;top:390.8px;width:35.3px;height:14.5px;line-height:15.5px">52</div>
<div style="left:2356.1px;top:350.1px;width:30.7px;height:40.7px;overflow:hidden"><div class="d" style="left:-7.1px;top:9.7px;width:44px;height:20px;line-height:20px">31</div></div>
<div class="n" style="left:2356.1px;top:390.8px;width:30.7px;height:14.5px;line-height:15.5px">53</div>
<div class="m" style="left:415.5px;top:357.1px;width:60px;height:14px;line-height:14px;transform:rotate(-90deg);font-size:11.2px">КУРС</div>
<div style="left:463px;top:344px;width:56.3px;text-align:center;font-size:11.4px;line-height:14px;white-space:normal;-webkit-text-stroke:0.25px #1c1c1c">Группа<br>специаль<br>ность</div>
<div class="gn" style="left:430px;top:405.3px;width:34px;height:254.2px;line-height:254.2px;font-size:14px">I</div>
<div class="gn" style="left:430px;top:659.5px;width:34px;height:268.9px;line-height:268.9px;font-size:14px">II</div>
<div class="gn" style="left:430px;top:928.4px;width:34px;height:221.6px;line-height:221.6px;font-size:14px">III</div>
<div class="gn" style="left:430px;top:1150px;width:34px;height:191.4px;line-height:191.4px;font-size:14px">IV</div>
<div class="ti" style="left:930.5px;top:176px;line-height:60px">Календарный учебный график</div>
<div class="ti" style="left:946px;top:240.5px;line-height:60px;letter-spacing:0.1px">на 2025 - 2026 учебный год</div>
<div class="h" style="left:591px;top:181px;line-height:24px">Утвержден</div>
<div class="h" style="left:467.5px;top:210.5px;line-height:24px">Приказом №</div>
<div class="h" style="left:467.5px;top:237.3px;line-height:24px">от</div>
<div class="h" style="left:523px;top:236px;line-height:24px">"</div>
<div class="h" style="left:601.5px;top:236px;line-height:24px">"</div>
<div class="h" style="left:786px;top:237.3px;line-height:24px">2025г.</div>
<div class="h" style="left:467.5px;top:261.8px;line-height:24px">Директор</div>
<div class="h" style="left:698px;top:285.5px;line-height:24px">А.В. Пархоменко</div>
<div class="ul" style="left:589.5px;top:235px;width:191px"></div>
<div class="ul" style="left:536px;top:260px;width:247.5px"></div>
<div class="ul" style="left:464px;top:308px;width:212px"></div>
<div class="bx" style="left:536.5px;top:1355.7px;width:107px;height:38px;background:#e3284f"></div>
<div class="lg" style="left:663.5px;top:1361.3px;line-height:24px">КАНИКУЛЫ</div>
<div class="bx" style="left:833.6px;top:1355.7px;width:107px;height:38px;background:#164a82"></div>
<div class="lg" style="left:961px;top:1361.3px;line-height:24px">ЭКЗАМЕНЫ</div>
<div class="bx" style="left:1102.5px;top:1355.7px;width:107px;height:38px;background:#fff200"></div>
<div class="lg" style="left:1230px;top:1361.3px;line-height:24px">УЧЕБНАЯ ПРАКТИКА</div>
<div class="bx" style="left:1556.8px;top:1355.7px;width:107px;height:38px;background:#171b24"></div>
<div class="lg" style="left:1684.6px;top:1361.3px;line-height:24px">ГЕОДЕЗИЧЕСКАЯ ПРАКТИКА</div>
<div class="bx" style="left:536.5px;top:1407.4px;width:107px;height:36.9px;background:#05a9ee"></div>
<div class="lg" style="left:663.5px;top:1412.7px;line-height:24px">ПРОИЗВОДСТВЕННАЯ ПРАКТИКА</div>
<div class="bx" style="left:1102.5px;top:1407.4px;width:107px;height:36.9px;background:#2f8a2c"></div>
<div class="lg" style="left:1230px;top:1412.7px;line-height:24px">ПРЕДДИПЛОМНАЯ ПРАКТИКА</div>
<div class="bx" style="left:1556.8px;top:1407.4px;width:107px;height:36.9px;background:#fb8418"></div>
<div class="lg" style="left:1684.6px;top:1412.7px;line-height:24px">ВЫПОЛНЕНИЕ ДИПЛОМНОГО ПРОЕКТА (РАБОТЫ)</div>
<div class="bx" style="left:536.5px;top:1460.3px;width:107px;height:36.1px;background:#f44b3d"></div>
<div class="lg" style="left:663.5px;top:1465.6px;line-height:24px">ЗАЩИТА ДИПЛОМНОГО ПРОЕКТА (РАБОТЫ)</div>
<div class="bx" style="left:1102.5px;top:1460.3px;width:107px;height:36.1px;background:#3d6433"></div>
<div class="lg" style="left:1230px;top:1465.6px;line-height:24px">ДЕМОНСТРАЦИОННЫЙ ЭКЗАМЕН</div>
<div class="bx" style="left:1556.8px;top:1460.3px;width:107px;height:36.1px;background:#8a1d66"></div>
<div class="lg" style="left:1684.6px;top:1465.6px;line-height:24px">ВРУЧЕНИЕ ДИПЛОМОВ</div>
<div class="sg" style="left:594px;top:1522.8px;line-height:24px">Заместитель директора по ПО</div>
<div class="ul" style="left:905px;top:1545px;width:181px"></div>
<div class="sg" style="left:1090px;top:1522.8px;line-height:24px">Давыдова С.В.</div>
<div class="sg" style="left:594px;top:1571px;line-height:24px">Заместитель директора по УМР</div>
<div class="ul" style="left:905px;top:1593px;width:181px"></div>
<div class="sg" style="left:1090px;top:1571px;line-height:24px">Скоморохова Н.И.</div>
<div class="sg" style="left:594px;top:1609.5px;line-height:24px">Заведующая учебной частью</div>
<div class="ul" style="left:905px;top:1632px;width:181px"></div>
<div class="sg" style="left:1090px;top:1609.5px;line-height:24px">Березина А.А</div>
<div class="sg" style="left:1510px;top:1522.8px;line-height:24px">Заведующий отделением</div>
<div class="ul" style="left:1820.6px;top:1545px;width:185.8px"></div>
<div class="sg" style="left:2010.7px;top:1522.8px;line-height:24px">Новичкова Е.В.</div>
<div class="sg" style="left:1510px;top:1571px;line-height:24px">Заведующий отделением</div>
<div class="ul" style="left:1820.6px;top:1593px;width:185.8px"></div>
<div class="sg" style="left:2010.7px;top:1571px;line-height:24px">Есипов Д.А.</div>
<svg style="position:absolute;left:0;top:0" width="2480" height="1754" viewBox="0 0 2480 1754" fill="none" stroke-linecap="round" stroke-linejoin="round">
<path d="M607.6 212.6C608.8 212.1 612.4 210.2 614.7 209.7C616.9 209.2 620.3 208.9 621.1 209.7C621.9 210.5 620.8 212.9 619.4 214.4C617.9 215.9 612.3 217.7 612.3 218.5C612.3 219.3 618.0 218.3 619.4 219.1C620.7 219.9 621.7 221.7 620.5 223.2C619.4 224.8 615.4 227.4 612.3 228.5C609.2 229.6 604.2 229.9 601.7 229.7C599.2 229.4 597.5 227.9 597.3 227.0C597.1 226.1 600.0 224.8 600.6 224.4" stroke="#3b2aa8" stroke-width="1.8" opacity="0.92"/>
<path d="M627.6 212.1C628.6 211.6 631.3 209.6 633.5 209.1C635.6 208.6 639.7 208.2 640.5 209.1C641.4 210.0 640.3 212.8 638.8 214.4C637.2 216.0 631.0 217.7 631.1 218.5C631.2 219.3 638.0 218.2 639.4 219.1C640.7 220.0 640.7 222.1 639.4 223.8C638.0 225.5 633.9 228.1 631.1 229.1C628.4 230.1 624.8 230.0 622.9 229.7C621.0 229.4 620.4 227.7 620.0 227.3" stroke="#3b2aa8" stroke-width="1.8" opacity="0.92"/>
<path d="M646.4 211.5C647.6 211.0 651.1 209.0 653.5 208.5C655.8 208.0 659.7 207.6 660.5 208.5C661.3 209.4 659.9 212.1 658.2 213.8C656.4 215.5 650.0 217.4 649.9 218.5C649.8 219.6 656.6 219.2 657.6 220.3C658.6 221.4 657.5 223.5 655.8 225.0C654.2 226.5 649.9 228.4 647.6 229.1C645.2 229.8 643.1 229.4 641.7 229.1C640.3 228.8 639.8 227.6 639.4 227.3" stroke="#3b2aa8" stroke-width="1.8" opacity="0.92"/>
<path d="M669.9 220.6 L677.0 220.2" stroke="#3b2aa8" stroke-width="2.2" opacity="0.92"/>
<path d="M700.5 219.1C699.3 219.4 695.4 219.9 693.5 220.9C691.5 221.9 689.1 223.9 688.7 225.0C688.4 226.1 689.5 227.2 691.1 227.3C692.7 227.5 696.0 226.8 698.2 225.8C700.3 224.8 703.4 222.6 704.0 221.5C704.6 220.3 702.7 219.2 701.7 218.9C700.7 218.6 698.7 219.6 698.2 219.7" stroke="#3b2aa8" stroke-width="1.8" opacity="0.92"/>
<path d="M717.0 219.7C716.0 219.9 712.8 220.2 711.1 221.1C709.4 222.0 707.2 223.9 707.0 225.0C706.8 226.0 708.2 227.1 709.9 227.3C711.6 227.6 715.8 226.7 717.0 226.5" stroke="#3b2aa8" stroke-width="1.8" opacity="0.92"/>
<path d="M724.0 218.5C723.5 219.3 721.8 221.8 721.1 223.2C720.3 224.7 719.3 227.2 719.6 227.3C719.9 227.4 720.7 225.1 722.9 223.8C725.0 222.5 729.0 221.1 732.3 219.7C735.5 218.3 740.9 215.5 742.3 215.6C743.6 215.7 741.3 218.2 740.5 220.3C739.7 222.3 738.0 226.7 737.5 227.9" stroke="#3b2aa8" stroke-width="1.8" opacity="0.92"/>
<path d="M755.5 227.0 L756.2 227.7" stroke="#3b2aa8" stroke-width="2.6" opacity="0.92"/>
<path d="M552.3 240.3C553.5 239.7 557.2 237.4 559.4 236.7C561.6 236.1 564.2 235.4 565.3 236.2C566.4 236.9 566.8 239.7 565.9 241.4C564.9 243.2 562.4 244.9 559.4 246.7C556.4 248.6 550.7 251.2 547.6 252.6C544.6 254.0 542.6 255.1 541.2 255.2C539.7 255.4 538.5 254.2 538.8 253.6C539.1 252.9 541.1 251.8 542.9 251.4C544.8 251.1 547.6 251.4 550.0 251.2C552.3 251.0 555.2 250.2 557.0 250.3C558.9 250.3 560.5 251.2 561.2 251.4" stroke="#3b2aa8" stroke-width="1.8" opacity="0.92"/>
<path d="M581.7 240.3C581.0 239.8 578.7 237.6 577.0 237.6C575.4 237.6 572.7 239.0 571.7 240.3C570.8 241.5 570.4 244.0 571.2 245.0C571.9 246.0 574.7 246.6 576.4 246.2C578.2 245.7 580.8 243.3 581.7 242.0C582.7 240.8 582.4 237.9 582.3 238.5C582.2 239.1 582.0 243.4 581.2 245.6C580.3 247.7 578.9 250.0 577.0 251.4C575.2 252.9 571.9 254.0 570.0 254.4C568.0 254.7 566.1 253.7 565.3 253.6" stroke="#3b2aa8" stroke-width="1.8" opacity="0.92"/>
<path d="M612.3 247.3C613.5 246.4 616.8 243.2 619.4 242.0C621.9 240.9 627.0 240.1 627.6 240.3C628.2 240.5 624.3 241.9 622.9 243.2C621.5 244.5 619.4 246.5 619.4 247.9C619.4 249.3 621.1 251.6 622.9 251.4C624.7 251.2 628.4 248.3 630.0 246.7C631.5 245.2 632.1 241.8 632.3 242.0C632.5 242.2 630.7 246.3 631.1 247.9C631.5 249.5 633.3 251.1 634.7 251.4C636.0 251.8 638.6 250.5 639.4 250.3" stroke="#3b2aa8" stroke-width="1.8" opacity="0.92"/>
<path d="M641.7 250.3C642.5 248.9 644.7 244.5 646.4 242.0C648.2 239.6 650.9 236.8 652.3 235.6C653.7 234.3 654.6 233.6 654.6 234.4C654.6 235.2 653.7 238.4 652.3 240.3C650.9 242.1 646.2 244.9 646.4 245.6C646.6 246.3 652.1 243.9 653.5 244.4C654.8 244.9 655.4 247.2 654.6 248.5C653.9 249.8 650.7 251.6 648.8 252.0C646.8 252.5 643.9 251.3 642.9 251.2" stroke="#3b2aa8" stroke-width="1.8" opacity="0.92"/>
<path d="M657.6 245.6C658.1 245.5 660.1 244.5 660.5 245.0C660.9 245.5 659.6 247.4 659.9 248.5C660.2 249.6 661.4 251.2 662.3 251.4C663.2 251.7 664.7 250.5 665.2 250.3" stroke="#3b2aa8" stroke-width="1.8" opacity="0.92"/>
<path d="M668.2 245.6C668.4 246.3 668.6 249.3 669.3 250.3C670.1 251.2 671.3 251.7 672.9 251.2C674.4 250.7 677.3 248.5 678.8 247.3C680.2 246.2 681.6 243.7 681.7 244.4C681.8 245.1 680.4 248.7 679.3 251.4C678.3 254.2 676.8 258.5 675.2 260.9C673.7 263.2 671.6 264.8 669.9 265.6C668.3 266.3 666.1 265.9 665.2 265.3C664.3 264.7 663.7 263.2 664.6 262.0C665.6 260.9 668.1 259.9 671.1 258.5C674.1 257.1 679.3 255.2 682.9 253.8C686.4 252.4 690.7 250.9 692.3 250.3" stroke="#3b2aa8" stroke-width="1.8" opacity="0.92"/>
<path d="M705.2 246.7C704.2 246.9 701.0 247.1 699.3 247.9C697.7 248.7 695.5 250.4 695.2 251.4C694.9 252.5 695.9 254.1 697.6 254.4C699.2 254.7 703.9 253.4 705.2 253.2" stroke="#3b2aa8" stroke-width="1.8" opacity="0.92"/>
<path d="M711.1 249.1C711.5 249.9 712.5 254.0 713.4 253.8C714.4 253.6 716.0 248.0 717.0 247.9C718.0 247.8 718.1 253.2 719.3 253.2C720.5 253.2 722.9 247.7 724.0 247.7C725.2 247.6 725.0 252.2 726.4 252.9C727.8 253.5 731.3 251.7 732.3 251.4" stroke="#3b2aa8" stroke-width="1.8" opacity="0.92"/>
<path d="M752.2 247.3C751.1 247.4 747.2 247.2 745.2 247.9C743.2 248.6 740.8 250.5 740.5 251.4C740.2 252.4 741.9 253.8 743.4 253.8C745.0 253.8 748.1 252.5 749.9 251.4C751.7 250.4 753.4 247.2 754.0 247.3C754.6 247.4 752.3 251.1 753.4 252.0C754.5 253.0 757.7 253.1 760.5 253.2C763.2 253.3 766.9 252.5 769.9 252.4C772.8 252.3 776.7 252.6 778.1 252.6" stroke="#3b2aa8" stroke-width="2.0" opacity="0.92"/>
<path d="M624.7 236.4C622.6 238.7 617.1 244.8 612.3 250.3C607.5 255.7 601.7 262.8 595.9 269.1C590.0 275.4 580.2 284.8 577.0 287.9" stroke="#55555c" stroke-width="1.2" opacity="0.8"/>
<path d="M625.8 237.3C623.8 239.7 618.2 246.0 613.5 251.4C608.8 256.9 603.4 264.0 597.6 270.3C591.8 276.5 581.9 285.9 578.8 289.1" stroke="#77777c" stroke-width="1.0" opacity="0.7"/>
<path d="M577.0 287.9C576.5 288.9 573.7 292.2 573.7 293.8C573.7 295.3 574.9 296.3 577.0 297.3C579.2 298.3 584.0 299.0 586.4 299.7C588.9 300.3 591.7 300.9 591.7 301.4C591.7 301.9 588.3 302.3 586.4 302.6C584.6 302.9 580.8 302.5 580.6 303.2C580.4 303.9 583.7 305.6 585.3 306.7C586.8 307.8 589.6 308.6 590.0 309.7C590.4 310.7 588.0 312.6 587.6 313.2" stroke="#26262a" stroke-width="1.8" opacity="0.92"/>
<path d="M587.0 313.2C587.7 310.7 589.5 304.7 591.1 298.5C592.8 292.3 595.9 278.5 597.0 276.1C598.2 273.8 598.4 280.6 598.2 284.4C598.0 288.1 596.3 294.5 595.9 298.5C595.4 302.5 595.4 306.8 595.3 308.5" stroke="#26262a" stroke-width="1.9" opacity="0.92"/>
<path d="M595.3 308.5C596.1 306.4 598.7 300.9 600.6 296.1C602.4 291.3 604.9 283.0 606.4 279.7C608.0 276.3 609.7 274.6 610.0 276.1C610.3 277.7 609.0 284.0 608.2 289.1C607.4 294.2 606.1 303.6 605.3 306.7C604.4 309.8 603.3 307.7 602.9 307.9" stroke="#26262a" stroke-width="1.9" opacity="0.92"/>
<path d="M628.2 289.1C627.3 288.8 624.6 287.4 622.9 287.3C621.2 287.2 619.2 287.6 618.2 288.5C617.2 289.4 616.4 291.3 617.0 292.6C617.6 293.9 620.0 295.0 621.7 296.1C623.5 297.3 626.2 298.1 627.6 299.7C629.0 301.2 629.7 304.1 630.0 305.5C630.2 307.0 629.5 308.0 629.4 308.5" stroke="#26262a" stroke-width="1.7" opacity="0.92"/>
<path d="M620.0 286.1C620.6 285.8 622.8 284.5 624.1 284.4C625.3 284.2 627.0 285.2 627.6 285.3" stroke="#26262a" stroke-width="1.3" opacity="0.92"/>
<path d="M979.2 1493.5C976.4 1493.9 968.2 1494.9 962.4 1495.9C956.6 1496.8 950.6 1496.9 944.3 1499.1C938.1 1501.3 930.5 1504.8 924.9 1508.8C919.3 1512.8 914.1 1518.3 910.7 1523.0C907.3 1527.8 905.3 1533.2 904.5 1537.3C903.6 1541.4 903.8 1544.7 905.5 1547.6C907.2 1550.5 910.3 1553.9 914.6 1554.7C918.9 1555.6 926.0 1554.6 931.4 1552.8C936.8 1550.9 942.2 1548.0 946.9 1543.7C951.7 1539.4 956.6 1532.1 959.8 1526.9C963.1 1521.7 965.3 1516.3 966.3 1512.7C967.3 1509.0 967.0 1506.4 965.7 1504.9C964.4 1503.5 961.9 1503.2 958.5 1503.9C955.2 1504.5 949.9 1505.8 945.6 1508.8C941.3 1511.8 936.0 1517.4 932.7 1521.7C929.3 1526.0 926.9 1530.8 925.6 1534.7C924.3 1538.5 924.4 1542.9 924.9 1545.0C925.5 1547.2 926.9 1548.5 928.8 1547.6C930.7 1546.7 933.5 1543.5 936.6 1539.8C939.6 1536.2 943.7 1530.4 946.9 1525.6C950.1 1520.9 953.4 1515.3 956.0 1511.4C958.5 1507.5 960.1 1504.9 962.4 1502.3C964.8 1499.7 968.9 1496.9 970.2 1495.9" stroke="#2a2a9e" stroke-width="1.5" opacity="0.92"/>
<path d="M970.2 1495.9C969.1 1498.5 965.6 1506.4 963.7 1511.4C961.9 1516.3 959.8 1521.5 959.2 1525.6C958.5 1529.7 958.4 1534.1 959.8 1536.0C961.2 1537.8 964.6 1538.1 967.6 1536.6C970.6 1535.1 975.1 1530.5 977.9 1526.9C980.8 1523.4 984.0 1517.5 984.4 1515.3C984.8 1513.0 982.3 1512.5 980.5 1513.3C978.8 1514.2 975.4 1517.9 974.1 1520.4C972.8 1523.0 971.7 1527.1 972.8 1528.8C973.9 1530.6 977.3 1531.4 980.5 1530.8C983.8 1530.1 988.7 1527.0 992.2 1525.0C995.6 1522.9 1000.4 1519.4 1001.2 1518.5C1002.1 1517.6 998.6 1518.4 997.3 1519.8C996.1 1521.2 993.0 1525.2 993.5 1526.9C993.9 1528.6 996.7 1530.6 999.9 1530.1C1003.2 1529.7 1008.8 1526.5 1012.9 1524.3C1017.0 1522.2 1023.2 1518.0 1024.5 1517.2C1025.8 1516.5 1021.5 1518.5 1020.6 1519.8C1019.8 1521.1 1018.0 1524.2 1019.3 1525.0C1020.6 1525.7 1024.9 1525.7 1028.4 1524.3C1031.8 1522.9 1036.5 1518.8 1040.0 1516.6C1043.6 1514.4 1048.9 1511.3 1049.7 1511.1C1050.6 1510.9 1046.1 1513.9 1045.2 1515.3C1044.3 1516.6 1043.6 1518.5 1044.6 1519.1C1045.5 1519.8 1049.9 1518.9 1051.0 1518.9" stroke="#2a2a9e" stroke-width="1.4" opacity="0.92"/>
<path d="M1051.0 1518.9C1052.9 1516.8 1058.2 1510.8 1062.0 1506.2C1065.8 1501.6 1070.1 1495.4 1073.7 1491.3C1077.2 1487.3 1081.8 1482.5 1083.4 1481.9C1084.9 1481.3 1084.3 1484.3 1082.7 1487.5C1081.1 1490.7 1077.3 1496.4 1073.7 1501.0C1070.0 1505.7 1065.0 1510.1 1060.7 1515.3C1056.4 1520.4 1052.1 1526.7 1047.8 1532.1C1043.5 1537.5 1038.7 1543.1 1034.9 1547.6C1031.0 1552.1 1027.2 1556.6 1024.5 1559.2C1021.8 1561.9 1019.6 1563.2 1018.7 1563.4C1017.8 1563.6 1017.5 1562.7 1019.3 1560.5C1021.2 1558.3 1028.0 1551.9 1029.7 1550.2" stroke="#2a2a9e" stroke-width="1.5" opacity="0.92"/>
<path d="M1041.3 1543.7C1043.9 1542.6 1051.9 1539.2 1056.8 1537.3C1061.8 1535.4 1068.7 1533.2 1071.1 1532.3" stroke="#2a2a9e" stroke-width="0.9" opacity="0.6"/>
<path d="M954.7 1559.2C953.4 1560.8 949.3 1564.8 946.9 1568.3C944.5 1571.7 942.1 1576.3 940.4 1579.9C938.8 1583.6 937.4 1588.1 937.2 1590.3C937.0 1592.4 937.7 1593.9 939.1 1592.9C940.5 1591.8 943.0 1587.7 945.6 1583.8C948.2 1579.9 951.9 1573.5 954.7 1569.6C957.5 1565.7 960.5 1562.3 962.4 1560.5C964.4 1558.8 966.3 1557.9 966.3 1559.2C966.3 1560.5 964.4 1564.8 962.4 1568.3C960.5 1571.7 957.3 1576.5 954.7 1579.9C952.1 1583.4 947.3 1587.9 946.9 1589.0C946.5 1590.1 949.9 1588.1 952.1 1586.4C954.2 1584.7 958.5 1579.9 959.8 1578.6" stroke="#2a2a9e" stroke-width="1.5" opacity="0.92"/>
<path d="M952.1 1560.5C953.8 1559.2 958.8 1554.5 962.4 1552.8C966.1 1551.1 971.1 1549.8 974.1 1550.4C977.1 1551.1 979.7 1553.7 980.5 1556.7C981.4 1559.6 980.8 1564.4 979.2 1568.3C977.7 1572.2 974.5 1576.6 971.5 1579.9C968.5 1583.3 963.5 1586.7 961.1 1588.3C958.8 1590.0 957.9 1589.4 957.3 1589.6" stroke="#2a2a9e" stroke-width="1.4" opacity="0.92"/>
<path d="M967.6 1573.5C969.3 1573.0 974.9 1571.1 977.9 1570.9C981.0 1570.7 985.7 1571.1 985.7 1572.2C985.7 1573.3 979.9 1575.4 977.9 1577.3C976.0 1579.3 973.6 1582.2 974.1 1583.8C974.5 1585.4 977.5 1587.3 980.5 1587.0C983.6 1586.8 988.9 1584.4 992.2 1582.5C995.4 1580.7 999.7 1576.5 999.9 1576.1C1000.2 1575.6 995.0 1578.3 993.5 1579.9C992.0 1581.6 990.0 1584.6 990.9 1585.8C991.7 1586.9 995.4 1587.7 998.6 1587.0C1001.9 1586.4 1007.0 1583.7 1010.3 1581.9C1013.5 1580.0 1017.6 1576.4 1018.0 1576.1C1018.5 1575.7 1014.1 1578.4 1012.9 1579.9C1011.7 1581.4 1010.1 1584.1 1010.9 1585.1C1011.8 1586.1 1015.1 1586.5 1018.0 1585.8C1021.0 1585.0 1025.6 1582.4 1028.4 1580.6C1031.2 1578.8 1034.4 1575.0 1034.9 1574.8C1035.3 1574.5 1031.8 1577.8 1031.0 1579.3C1030.1 1580.8 1028.8 1583.1 1029.7 1583.8C1030.5 1584.6 1033.6 1585.3 1036.1 1583.8C1038.7 1582.3 1043.7 1576.3 1045.2 1574.8" stroke="#2a2a9e" stroke-width="1.4" opacity="0.92"/>
<path d="M1045.2 1574.8C1047.4 1573.3 1053.8 1568.3 1058.1 1565.7C1062.4 1563.1 1068.0 1560.7 1071.1 1559.2C1074.1 1557.8 1076.5 1556.1 1076.5 1556.9C1076.5 1557.8 1074.1 1561.0 1071.1 1564.4C1068.0 1567.8 1062.2 1573.0 1058.1 1577.3C1054.0 1581.7 1049.7 1586.2 1046.5 1590.3C1043.3 1594.4 1040.9 1598.9 1038.7 1601.9C1036.6 1604.9 1034.4 1607.3 1033.6 1608.4" stroke="#2a2a9e" stroke-width="1.5" opacity="0.92"/>
<path d="M1038.7 1599.3C1040.9 1598.8 1047.6 1597.1 1051.7 1596.1C1055.8 1595.1 1060.6 1594.7 1063.3 1593.5C1066.0 1592.3 1067.7 1590.1 1067.8 1589.0C1067.9 1587.9 1065.4 1586.6 1064.0 1587.0C1062.6 1587.5 1060.5 1589.4 1059.4 1591.6C1058.4 1593.7 1057.8 1598.6 1057.5 1600.0" stroke="#2a2a9e" stroke-width="1.2" opacity="0.92"/>
<path d="M957.3 1604.8C959.8 1604.3 967.6 1602.9 972.8 1601.9C977.9 1600.9 984.8 1599.3 988.3 1598.7C991.7 1598.0 993.5 1597.7 993.5 1598.0C993.5 1598.4 990.5 1600.1 988.3 1600.9C986.1 1601.6 981.8 1602.3 980.5 1602.6" stroke="#2a2a9e" stroke-width="1.5" opacity="0.92"/>
<path d="M974.1 1603.2C972.6 1604.5 968.7 1608.6 965.0 1611.0C961.4 1613.3 956.2 1615.3 952.1 1617.4C948.0 1619.6 943.4 1622.1 940.4 1623.9C937.5 1625.7 935.4 1627.3 934.6 1628.4C933.9 1629.6 934.1 1631.0 935.9 1631.0C937.7 1631.0 942.1 1630.3 945.6 1628.4C949.2 1626.6 953.8 1622.7 957.3 1620.0C960.7 1617.3 964.2 1614.2 966.3 1612.3C968.5 1610.3 969.5 1609.0 970.2 1608.4" stroke="#2a2a9e" stroke-width="1.5" opacity="0.92"/>
<path d="M946.9 1618.7C947.6 1619.6 948.6 1622.3 950.8 1623.9C952.9 1625.5 956.8 1628.9 959.8 1628.4C962.9 1628.0 965.9 1624.0 968.9 1621.3C971.9 1618.6 976.0 1614.0 977.9 1612.3C979.9 1610.5 981.0 1609.7 980.5 1611.0C980.1 1612.3 976.7 1617.3 975.4 1620.0C974.1 1622.7 971.9 1626.9 972.8 1627.1C973.6 1627.4 977.5 1623.8 980.5 1621.3C983.6 1618.8 988.5 1614.1 990.9 1612.3C993.3 1610.4 994.8 1609.3 994.8 1610.3C994.8 1611.4 991.7 1616.3 990.9 1618.7C990.0 1621.2 988.3 1625.2 989.6 1625.2C990.9 1625.2 995.4 1621.3 998.6 1618.7C1001.9 1616.1 1006.4 1611.6 1009.0 1609.7C1011.6 1607.7 1013.9 1606.2 1014.2 1607.1C1014.4 1608.0 1011.6 1612.1 1010.3 1614.9C1009.0 1617.7 1007.0 1622.4 1006.4 1623.9" stroke="#2a2a9e" stroke-width="1.4" opacity="0.92"/>
<path d="M979.2 1607.7C982.0 1607.3 990.5 1605.8 996.1 1605.2C1001.7 1604.5 1007.7 1604.2 1012.9 1603.9C1018.0 1603.5 1024.7 1603.3 1027.1 1603.2" stroke="#2a2a9e" stroke-width="1.2" opacity="0.92"/>
<path d="M1057.5 1599.3C1055.0 1600.6 1048.1 1603.6 1042.6 1607.1C1037.1 1610.5 1030.5 1615.3 1024.5 1620.0C1018.5 1624.8 1012.9 1630.4 1006.4 1635.6C999.9 1640.7 992.6 1646.3 985.7 1651.1C978.8 1655.8 970.3 1661.1 965.0 1664.0C959.7 1666.9 956.0 1667.2 954.0 1668.5C952.1 1669.9 952.7 1671.5 953.4 1672.0C954.0 1672.5 954.7 1673.3 957.9 1671.5C961.1 1669.7 966.8 1665.9 972.8 1661.4C978.7 1656.9 986.6 1650.4 993.5 1644.6C1000.4 1638.8 1008.1 1632.1 1014.2 1626.5C1020.2 1620.9 1025.8 1614.6 1029.7 1611.0C1033.6 1607.3 1036.1 1605.6 1037.4 1604.5" stroke="#2a2a9e" stroke-width="1.5" opacity="0.92"/>
<path d="M1840.9 1545.4C1840.1 1544.8 1836.5 1543.3 1835.9 1541.9C1835.3 1540.5 1835.9 1537.7 1837.2 1536.8C1838.4 1536.0 1841.7 1536.4 1843.5 1536.8C1845.3 1537.3 1846.6 1540.2 1847.9 1539.4C1849.2 1538.5 1849.9 1534.5 1851.0 1531.8C1852.2 1529.0 1852.8 1525.4 1854.8 1522.9C1856.8 1520.5 1861.0 1517.7 1863.0 1516.9C1865.1 1516.0 1866.7 1516.7 1867.1 1517.9C1867.5 1519.1 1866.8 1521.5 1865.6 1524.2C1864.4 1526.9 1861.6 1531.2 1859.9 1534.3C1858.2 1537.5 1855.4 1542.6 1855.5 1543.2C1855.6 1543.7 1858.2 1539.6 1860.5 1537.5C1862.8 1535.4 1867.2 1531.5 1869.4 1530.5C1871.6 1529.6 1873.6 1530.5 1873.8 1531.8C1874.0 1533.0 1872.0 1536.2 1870.6 1538.1C1869.3 1540.0 1865.2 1542.6 1865.6 1543.2C1866.0 1543.7 1871.0 1542.5 1873.2 1541.3C1875.3 1540.0 1877.4 1536.5 1878.2 1535.6" stroke="#2a2a9e" stroke-width="1.4" opacity="0.92"/>
<path d="M1880.7 1519.4C1882.0 1518.6 1886.7 1514.6 1888.1 1514.4C1889.4 1514.1 1889.6 1515.4 1888.9 1517.9C1888.2 1520.4 1885.6 1525.6 1883.9 1529.3C1882.2 1532.9 1879.4 1537.7 1878.8 1540.0C1878.3 1542.3 1879.2 1543.9 1880.7 1543.2C1882.3 1542.4 1886.1 1538.1 1888.3 1535.6C1890.5 1533.0 1892.5 1528.9 1894.0 1528.0C1895.5 1527.1 1897.5 1529.0 1897.2 1530.3C1896.8 1531.5 1893.0 1533.6 1892.1 1535.6C1891.2 1537.5 1890.6 1540.7 1891.5 1541.9C1892.3 1543.0 1895.4 1543.5 1897.2 1542.5C1898.9 1541.6 1901.7 1538.1 1902.2 1536.2C1902.7 1534.3 1901.2 1532.1 1900.3 1531.2C1899.5 1530.2 1897.7 1530.6 1897.2 1530.5" stroke="#2a2a9e" stroke-width="1.4" opacity="0.92"/>
<path d="M1906.0 1540.0C1907.5 1537.8 1911.9 1531.3 1914.8 1526.7C1917.8 1522.2 1921.4 1516.0 1923.7 1512.8C1926.0 1509.7 1927.5 1508.0 1928.5 1507.8C1929.4 1507.6 1930.2 1509.1 1929.4 1511.6C1928.6 1514.1 1925.9 1519.2 1923.7 1522.9C1921.5 1526.7 1918.1 1531.3 1916.1 1534.3C1914.1 1537.4 1911.7 1539.9 1911.7 1541.3C1911.7 1542.6 1914.3 1543.2 1916.1 1542.5C1917.9 1541.9 1920.7 1538.0 1922.4 1537.5C1924.1 1536.9 1924.4 1539.8 1926.2 1539.4C1928.0 1538.9 1931.5 1536.4 1933.1 1534.9C1934.8 1533.5 1936.5 1530.8 1936.3 1530.8C1936.1 1530.8 1932.4 1533.3 1931.9 1534.9C1931.4 1536.5 1931.6 1540.1 1933.1 1540.4C1934.7 1540.7 1938.8 1538.4 1941.4 1536.8C1943.9 1535.3 1947.4 1531.3 1948.3 1531.2C1949.2 1531.0 1945.9 1535.5 1946.7 1536.2C1947.4 1536.9 1951.7 1535.7 1952.7 1535.6" stroke="#2a2a9e" stroke-width="1.4" opacity="0.92"/>
<path d="M1952.7 1535.6C1954.8 1532.9 1961.1 1524.8 1965.4 1519.8C1969.6 1514.7 1974.6 1508.7 1978.0 1505.3C1981.4 1501.8 1984.3 1499.5 1985.8 1498.9C1987.3 1498.4 1987.9 1499.2 1986.8 1501.7C1985.7 1504.3 1982.2 1509.7 1979.3 1514.1C1976.3 1518.5 1972.3 1523.6 1969.1 1528.0C1966.0 1532.4 1962.8 1536.8 1960.3 1540.6C1957.8 1544.4 1955.8 1547.4 1954.0 1550.7C1952.2 1554.1 1951.3 1557.9 1949.6 1560.8C1947.9 1563.8 1944.8 1567.2 1943.9 1568.4" stroke="#2a2a9e" stroke-width="1.5" opacity="0.92"/>
<path d="M1970.4 1545.0C1968.9 1545.6 1964.1 1547.2 1961.6 1548.2C1959.0 1549.2 1956.3 1550.5 1955.3 1551.0" stroke="#2a2a9e" stroke-width="0.9" opacity="0.6"/>
<path d="M1906.6 1560.8C1905.0 1560.3 1900.6 1557.9 1897.2 1557.7C1893.7 1557.5 1888.9 1558.2 1885.8 1559.6C1882.6 1560.9 1879.9 1563.7 1878.2 1565.9C1876.5 1568.1 1875.6 1570.7 1875.7 1572.8C1875.8 1574.9 1877.6 1577.3 1878.8 1578.5C1880.1 1579.8 1882.5 1580.1 1883.3 1580.4" stroke="#2a2a9e" stroke-width="1.3" opacity="0.92"/>
<path d="M1906.6 1560.8C1905.9 1562.3 1904.6 1566.3 1902.2 1569.7C1899.8 1573.0 1896.1 1577.7 1892.1 1581.0C1888.1 1584.4 1882.8 1587.4 1878.2 1589.9C1873.6 1592.4 1868.0 1594.4 1864.3 1596.2C1860.6 1598.0 1857.2 1600.6 1856.1 1600.6C1855.0 1600.6 1856.4 1597.7 1858.0 1596.2C1859.6 1594.7 1863.0 1592.2 1865.6 1591.8C1868.1 1591.4 1870.6 1592.5 1873.2 1593.7C1875.7 1594.8 1877.8 1597.6 1880.7 1598.7C1883.7 1599.9 1887.7 1601.1 1890.8 1600.6C1894.0 1600.1 1896.9 1598.2 1899.7 1595.6C1902.4 1592.9 1905.4 1588.5 1907.3 1584.8C1909.2 1581.2 1910.6 1576.8 1911.0 1573.5C1911.5 1570.1 1910.5 1566.7 1909.8 1564.6C1909.0 1562.5 1907.2 1561.5 1906.6 1560.8" stroke="#2a2a9e" stroke-width="1.4" opacity="0.92"/>
<path d="M1954.0 1547.2C1952.3 1547.8 1947.3 1548.2 1943.9 1550.7C1940.5 1553.2 1937.4 1557.5 1933.8 1562.1C1930.2 1566.7 1926.4 1573.6 1922.4 1578.5C1918.4 1583.5 1913.8 1588.3 1909.8 1591.8C1905.8 1595.3 1900.7 1598.2 1898.4 1599.4C1896.1 1600.5 1895.9 1600.3 1895.9 1598.7C1895.9 1597.2 1896.7 1592.6 1898.4 1589.9C1900.1 1587.2 1903.3 1584.0 1906.0 1582.3C1908.7 1580.6 1913.4 1580.2 1914.8 1579.8" stroke="#2a2a9e" stroke-width="1.5" opacity="0.92"/>
<path d="M1953.4 1548.8C1952.6 1550.5 1951.1 1555.8 1948.9 1558.9C1946.7 1562.1 1942.6 1565.8 1940.1 1567.8C1937.6 1569.8 1933.1 1570.7 1933.8 1570.9C1934.4 1571.2 1940.1 1569.5 1943.9 1569.0C1947.7 1568.6 1952.9 1568.4 1956.5 1568.4C1960.1 1568.4 1965.6 1568.2 1965.4 1569.0C1965.1 1569.9 1959.7 1571.7 1955.3 1573.5C1950.8 1575.3 1943.3 1577.9 1938.8 1579.8C1934.4 1581.7 1930.5 1583.5 1928.7 1584.8C1926.9 1586.2 1925.8 1587.5 1928.1 1588.0C1930.4 1588.5 1937.0 1587.9 1942.6 1587.6C1948.2 1587.3 1955.7 1586.5 1961.6 1586.4C1967.5 1586.2 1973.8 1586.1 1978.0 1586.7C1982.2 1587.4 1985.7 1588.6 1986.8 1590.1C1988.0 1591.7 1987.5 1594.0 1984.9 1596.2C1982.4 1598.4 1977.7 1600.4 1971.7 1603.1C1965.7 1605.9 1956.9 1609.4 1948.9 1612.6C1940.9 1615.9 1931.3 1619.7 1923.7 1622.7C1916.1 1625.8 1908.1 1629.1 1903.5 1630.9C1898.9 1632.7 1897.4 1633.0 1896.1 1633.5" stroke="#2a2a9e" stroke-width="1.5" opacity="0.92"/>
<path d="M1896.1 1633.5C1899.7 1631.0 1908.6 1624.3 1917.4 1618.9C1926.2 1613.6 1937.4 1606.9 1948.9 1601.3C1960.5 1595.6 1974.2 1589.9 1986.8 1584.8C1999.5 1579.8 2013.1 1574.9 2024.7 1570.9C2036.3 1566.9 2046.8 1563.8 2056.3 1560.8C2065.8 1557.9 2077.4 1554.5 2081.6 1553.3" stroke="#2a2a9e" stroke-width="1.0" opacity="0.75"/>
</svg>
</div></body></html>
